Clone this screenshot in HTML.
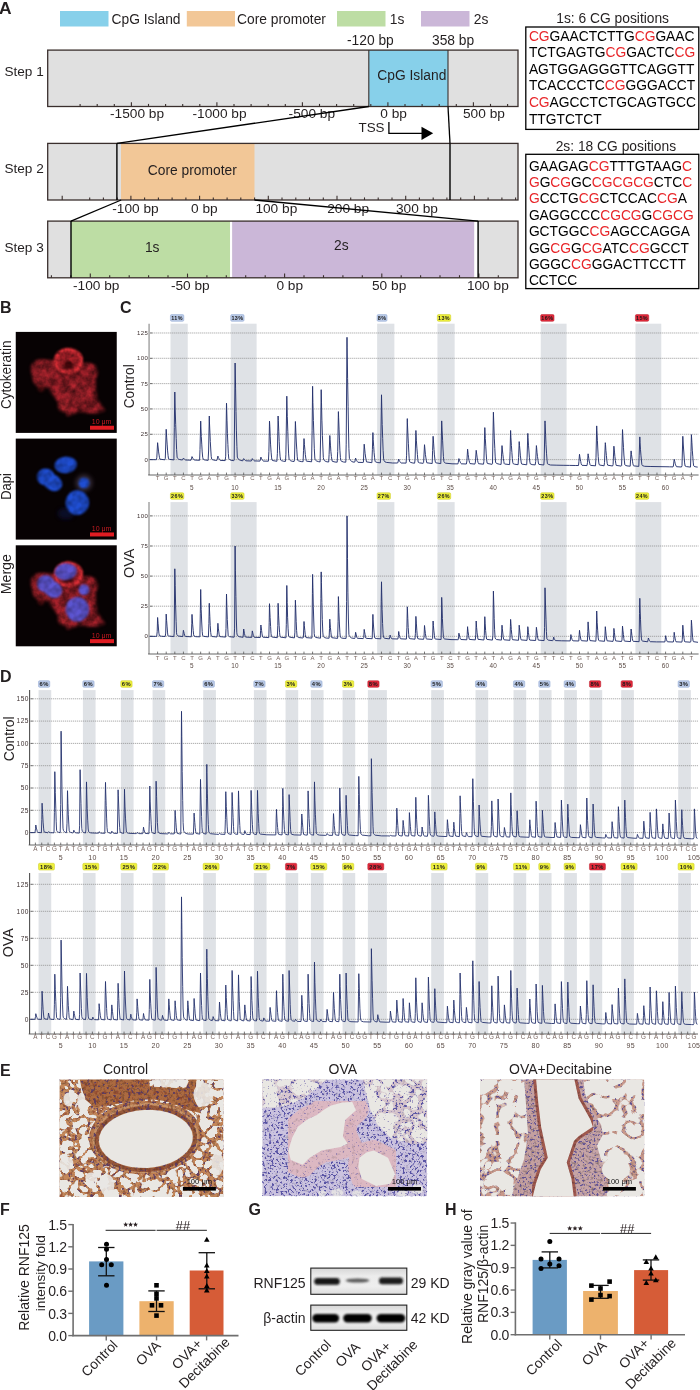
<!DOCTYPE html>
<html><head><meta charset="utf-8"><style>
html,body{margin:0;padding:0;background:#fff;}
svg text{font-family:"Liberation Sans",sans-serif;}
</style></head><body>
<svg width="700" height="1390" viewBox="0 0 700 1390" style="display:block;will-change:transform">
<rect width="700" height="1390" fill="#fff"/>
<defs>
<filter id="blur1" x="-20%" y="-20%" width="140%" height="140%"><feGaussianBlur stdDeviation="0.8"/></filter>
<filter id="blur2" x="-20%" y="-20%" width="140%" height="140%"><feGaussianBlur stdDeviation="2"/></filter>
<filter id="mottleR" x="-10%" y="-10%" width="120%" height="120%" color-interpolation-filters="sRGB">
<feGaussianBlur in="SourceGraphic" stdDeviation="1.6" result="b"/>
<feTurbulence type="fractalNoise" baseFrequency="0.13" numOctaves="3" seed="7" result="n"/>
<feColorMatrix in="n" type="matrix" values="1.0 0 0 0 0.2  1.0 0 0 0 0.2  1.0 0 0 0 0.2  0 0 0 0 1" result="ng"/>
<feComposite in="b" in2="ng" operator="arithmetic" k1="1" k2="0" k3="0" k4="0"/>
</filter>
<filter id="mottleR2" x="-10%" y="-10%" width="120%" height="120%" color-interpolation-filters="sRGB">
<feGaussianBlur in="SourceGraphic" stdDeviation="0.9" result="b"/>
<feTurbulence type="fractalNoise" baseFrequency="0.2" numOctaves="2" seed="3" result="n"/>
<feColorMatrix in="n" type="matrix" values="0.9 0 0 0 0.4  0.9 0 0 0 0.4  0.9 0 0 0 0.4  0 0 0 0 1" result="ng"/>
<feComposite in="b" in2="ng" operator="arithmetic" k1="1" k2="0" k3="0" k4="0"/>
</filter>
<filter id="texE" x="0" y="0" width="100%" height="100%" color-interpolation-filters="sRGB">
<feTurbulence type="fractalNoise" baseFrequency="0.35" numOctaves="2" seed="5" result="n"/>
<feColorMatrix in="n" type="matrix" values="0.9 0 0 0 0.55  0.9 0 0 0 0.55  0.9 0 0 0 0.55  0 0 0 0 1" result="ng"/>
<feComposite in="SourceGraphic" in2="ng" operator="arithmetic" k1="1" k2="0" k3="0" k4="0"/>
</filter>
<filter id="texE2" x="0" y="0" width="100%" height="100%" color-interpolation-filters="sRGB">
<feTurbulence type="fractalNoise" baseFrequency="0.3" numOctaves="2" seed="9" result="n"/>
<feColorMatrix in="n" type="matrix" values="0.5 0 0 0 0.78  0.5 0 0 0 0.78  0.5 0 0 0 0.78  0 0 0 0 1" result="ng"/>
<feComposite in="SourceGraphic" in2="ng" operator="arithmetic" k1="1" k2="0" k3="0" k4="0"/>
</filter>
<filter id="mottleB" x="-10%" y="-10%" width="120%" height="120%" color-interpolation-filters="sRGB">
<feGaussianBlur in="SourceGraphic" stdDeviation="0.9" result="b"/>
<feTurbulence type="fractalNoise" baseFrequency="0.12" numOctaves="2" seed="11" result="n"/>
<feColorMatrix in="n" type="matrix" values="0.7 0 0 0 0.55  0.7 0 0 0 0.55  0.7 0 0 0 0.55  0 0 0 0 1" result="ng"/>
<feComposite in="b" in2="ng" operator="arithmetic" k1="1" k2="0" k3="0" k4="0"/>
</filter>
</defs>
<text x="-1.0" y="13.7" font-size="16.3" fill="#231f20" text-anchor="start" font-weight="bold" textLength="12.6" lengthAdjust="spacingAndGlyphs">A</text>
<rect x="60" y="11" width="48.5" height="15.5" fill="#87d0ea"/>
<rect x="186.8" y="11" width="48.2" height="15.5" fill="#f2c797"/>
<rect x="337" y="11" width="48.5" height="15.5" fill="#bddda4"/>
<rect x="421" y="11" width="48.5" height="15.5" fill="#cbb7d8"/>
<text x="111.5" y="23.6" font-size="13.8" fill="#231f20" text-anchor="start" font-weight="normal" >CpG Island</text>
<text x="237" y="23.6" font-size="13.8" fill="#231f20" text-anchor="start" font-weight="normal" >Core promoter</text>
<text x="389.8" y="23.6" font-size="13.8" fill="#231f20" text-anchor="start" font-weight="normal" >1s</text>
<text x="473.8" y="23.6" font-size="13.8" fill="#231f20" text-anchor="start" font-weight="normal" >2s</text>
<text x="347" y="45.2" font-size="13.8" fill="#231f20" text-anchor="start" font-weight="normal" >-120 bp</text>
<text x="432" y="45.2" font-size="13.8" fill="#231f20" text-anchor="start" font-weight="normal" >358 bp</text>
<text x="4.4" y="76" font-size="13.6" fill="#231f20" text-anchor="start" font-weight="normal" >Step 1</text>
<text x="4.4" y="173.2" font-size="13.6" fill="#231f20" text-anchor="start" font-weight="normal" >Step 2</text>
<text x="4.4" y="252" font-size="13.6" fill="#231f20" text-anchor="start" font-weight="normal" >Step 3</text>
<rect x="47.7" y="50.1" width="470.3" height="56.4" fill="#e0e0e0"/>
<rect x="368.8" y="50.1" width="79.2" height="56.4" fill="#87d0ea"/>
<line x1="80.1" y1="106.5" x2="80.1" y2="103.9" stroke="#3a2f2d" stroke-width="1.1"/>
<line x1="97.2" y1="106.5" x2="97.2" y2="103.9" stroke="#3a2f2d" stroke-width="1.1"/>
<line x1="114.3" y1="106.5" x2="114.3" y2="103.9" stroke="#3a2f2d" stroke-width="1.1"/>
<line x1="131.4" y1="106.5" x2="131.4" y2="102.3" stroke="#3a2f2d" stroke-width="1.1"/>
<line x1="148.5" y1="106.5" x2="148.5" y2="103.9" stroke="#3a2f2d" stroke-width="1.1"/>
<line x1="165.6" y1="106.5" x2="165.6" y2="103.9" stroke="#3a2f2d" stroke-width="1.1"/>
<line x1="182.7" y1="106.5" x2="182.7" y2="103.9" stroke="#3a2f2d" stroke-width="1.1"/>
<line x1="199.8" y1="106.5" x2="199.8" y2="103.9" stroke="#3a2f2d" stroke-width="1.1"/>
<line x1="216.9" y1="106.5" x2="216.9" y2="102.3" stroke="#3a2f2d" stroke-width="1.1"/>
<line x1="234.0" y1="106.5" x2="234.0" y2="103.9" stroke="#3a2f2d" stroke-width="1.1"/>
<line x1="251.1" y1="106.5" x2="251.1" y2="103.9" stroke="#3a2f2d" stroke-width="1.1"/>
<line x1="268.2" y1="106.5" x2="268.2" y2="103.9" stroke="#3a2f2d" stroke-width="1.1"/>
<line x1="285.3" y1="106.5" x2="285.3" y2="103.9" stroke="#3a2f2d" stroke-width="1.1"/>
<line x1="302.4" y1="106.5" x2="302.4" y2="102.3" stroke="#3a2f2d" stroke-width="1.1"/>
<line x1="319.5" y1="106.5" x2="319.5" y2="103.9" stroke="#3a2f2d" stroke-width="1.1"/>
<line x1="336.6" y1="106.5" x2="336.6" y2="103.9" stroke="#3a2f2d" stroke-width="1.1"/>
<line x1="353.7" y1="106.5" x2="353.7" y2="103.9" stroke="#3a2f2d" stroke-width="1.1"/>
<line x1="370.8" y1="106.5" x2="370.8" y2="103.9" stroke="#3a2f2d" stroke-width="1.1"/>
<line x1="387.9" y1="106.5" x2="387.9" y2="102.3" stroke="#3a2f2d" stroke-width="1.1"/>
<line x1="405.0" y1="106.5" x2="405.0" y2="103.9" stroke="#3a2f2d" stroke-width="1.1"/>
<line x1="422.1" y1="106.5" x2="422.1" y2="103.9" stroke="#3a2f2d" stroke-width="1.1"/>
<line x1="439.2" y1="106.5" x2="439.2" y2="103.9" stroke="#3a2f2d" stroke-width="1.1"/>
<line x1="456.3" y1="106.5" x2="456.3" y2="103.9" stroke="#3a2f2d" stroke-width="1.1"/>
<line x1="473.4" y1="106.5" x2="473.4" y2="102.3" stroke="#3a2f2d" stroke-width="1.1"/>
<line x1="490.5" y1="106.5" x2="490.5" y2="103.9" stroke="#3a2f2d" stroke-width="1.1"/>
<line x1="507.6" y1="106.5" x2="507.6" y2="103.9" stroke="#3a2f2d" stroke-width="1.1"/>
<line x1="368.8" y1="50.1" x2="368.8" y2="106.5" stroke="#3a2f2d" stroke-width="1.1"/>
<line x1="448" y1="50.1" x2="448" y2="106.5" stroke="#3a2f2d" stroke-width="1.1"/>
<rect x="47.7" y="50.1" width="470.3" height="56.4" fill="none" stroke="#3a2f2d" stroke-width="1.3"/>
<text x="368.8" y="79.8" font-size="13.8" fill="#231f20" text-anchor="start" font-weight="normal" dx="8.5">CpG Island</text>
<text x="110" y="118.3" font-size="13.7" fill="#231f20" text-anchor="start" font-weight="normal" >-1500 bp</text>
<text x="192.5" y="118.3" font-size="13.7" fill="#231f20" text-anchor="start" font-weight="normal" >-1000 bp</text>
<text x="288.6" y="118.3" font-size="13.7" fill="#231f20" text-anchor="start" font-weight="normal" >-500 bp</text>
<text x="380.3" y="118.3" font-size="13.7" fill="#231f20" text-anchor="start" font-weight="normal" >0 bp</text>
<text x="463" y="118.3" font-size="13.7" fill="#231f20" text-anchor="start" font-weight="normal" >500 bp</text>
<text x="358.5" y="131.9" font-size="13.4" fill="#231f20" text-anchor="start" font-weight="normal" >TSS</text>
<polyline points="388.9,122 388.9,133.3 422,133.3" fill="none" stroke="#000" stroke-width="1.3"/>
<polygon points="421.5,126.7 433.2,133.3 421.5,140" fill="#000"/>
<rect x="47.7" y="143.4" width="470.3" height="56.6" fill="#e0e0e0"/>
<rect x="121" y="143.4" width="133.5" height="56.6" fill="#f2c797"/>
<line x1="62.2" y1="200" x2="62.2" y2="195.8" stroke="#3a2f2d" stroke-width="1.1"/>
<line x1="89.7" y1="200" x2="89.7" y2="197.4" stroke="#3a2f2d" stroke-width="1.1"/>
<line x1="103.4" y1="200" x2="103.4" y2="197.4" stroke="#3a2f2d" stroke-width="1.1"/>
<line x1="117.2" y1="200" x2="117.2" y2="197.4" stroke="#3a2f2d" stroke-width="1.1"/>
<line x1="130.9" y1="200" x2="130.9" y2="195.8" stroke="#3a2f2d" stroke-width="1.1"/>
<line x1="144.6" y1="200" x2="144.6" y2="197.4" stroke="#3a2f2d" stroke-width="1.1"/>
<line x1="158.4" y1="200" x2="158.4" y2="197.4" stroke="#3a2f2d" stroke-width="1.1"/>
<line x1="172.1" y1="200" x2="172.1" y2="197.4" stroke="#3a2f2d" stroke-width="1.1"/>
<line x1="185.9" y1="200" x2="185.9" y2="197.4" stroke="#3a2f2d" stroke-width="1.1"/>
<line x1="199.6" y1="200" x2="199.6" y2="195.8" stroke="#3a2f2d" stroke-width="1.1"/>
<line x1="213.3" y1="200" x2="213.3" y2="197.4" stroke="#3a2f2d" stroke-width="1.1"/>
<line x1="227.1" y1="200" x2="227.1" y2="197.4" stroke="#3a2f2d" stroke-width="1.1"/>
<line x1="240.8" y1="200" x2="240.8" y2="197.4" stroke="#3a2f2d" stroke-width="1.1"/>
<line x1="254.6" y1="200" x2="254.6" y2="197.4" stroke="#3a2f2d" stroke-width="1.1"/>
<line x1="268.3" y1="200" x2="268.3" y2="195.8" stroke="#3a2f2d" stroke-width="1.1"/>
<line x1="282.0" y1="200" x2="282.0" y2="197.4" stroke="#3a2f2d" stroke-width="1.1"/>
<line x1="295.8" y1="200" x2="295.8" y2="197.4" stroke="#3a2f2d" stroke-width="1.1"/>
<line x1="309.5" y1="200" x2="309.5" y2="197.4" stroke="#3a2f2d" stroke-width="1.1"/>
<line x1="323.3" y1="200" x2="323.3" y2="197.4" stroke="#3a2f2d" stroke-width="1.1"/>
<line x1="337.0" y1="200" x2="337.0" y2="195.8" stroke="#3a2f2d" stroke-width="1.1"/>
<line x1="350.7" y1="200" x2="350.7" y2="197.4" stroke="#3a2f2d" stroke-width="1.1"/>
<line x1="364.5" y1="200" x2="364.5" y2="197.4" stroke="#3a2f2d" stroke-width="1.1"/>
<line x1="378.2" y1="200" x2="378.2" y2="197.4" stroke="#3a2f2d" stroke-width="1.1"/>
<line x1="392.0" y1="200" x2="392.0" y2="197.4" stroke="#3a2f2d" stroke-width="1.1"/>
<line x1="405.7" y1="200" x2="405.7" y2="195.8" stroke="#3a2f2d" stroke-width="1.1"/>
<line x1="419.4" y1="200" x2="419.4" y2="197.4" stroke="#3a2f2d" stroke-width="1.1"/>
<line x1="433.2" y1="200" x2="433.2" y2="197.4" stroke="#3a2f2d" stroke-width="1.1"/>
<line x1="446.9" y1="200" x2="446.9" y2="197.4" stroke="#3a2f2d" stroke-width="1.1"/>
<line x1="460.7" y1="200" x2="460.7" y2="197.4" stroke="#3a2f2d" stroke-width="1.1"/>
<line x1="474.4" y1="200" x2="474.4" y2="195.8" stroke="#3a2f2d" stroke-width="1.1"/>
<line x1="488.1" y1="200" x2="488.1" y2="197.4" stroke="#3a2f2d" stroke-width="1.1"/>
<line x1="501.9" y1="200" x2="501.9" y2="197.4" stroke="#3a2f2d" stroke-width="1.1"/>
<line x1="515.6" y1="200" x2="515.6" y2="197.4" stroke="#3a2f2d" stroke-width="1.1"/>
<rect x="47.7" y="143.4" width="470.3" height="56.6" fill="none" stroke="#3a2f2d" stroke-width="1.3"/>
<line x1="116.9" y1="143.4" x2="116.9" y2="200" stroke="#000" stroke-width="1.4"/>
<line x1="450" y1="143.4" x2="450" y2="200" stroke="#000" stroke-width="1.4"/>
<text x="147.8" y="175" font-size="13.8" fill="#231f20" text-anchor="start" font-weight="normal" >Core promoter</text>
<text x="112.3" y="212.8" font-size="13.7" fill="#231f20" text-anchor="start" font-weight="normal" >-100 bp</text>
<text x="191.1" y="212.8" font-size="13.7" fill="#231f20" text-anchor="start" font-weight="normal" >0 bp</text>
<text x="255.4" y="212.8" font-size="13.7" fill="#231f20" text-anchor="start" font-weight="normal" >100 bp</text>
<text x="327.2" y="212.8" font-size="13.7" fill="#231f20" text-anchor="start" font-weight="normal" >200 bp</text>
<text x="396" y="212.8" font-size="13.7" fill="#231f20" text-anchor="start" font-weight="normal" >300 bp</text>
<line x1="368.8" y1="106.5" x2="116.9" y2="143.4" stroke="#000" stroke-width="1.3"/>
<line x1="448" y1="106.5" x2="450" y2="143.4" stroke="#000" stroke-width="1.3"/>
<rect x="47.7" y="221.1" width="470.3" height="56.7" fill="#e0e0e0"/>
<rect x="71" y="221.1" width="159" height="56.7" fill="#bddda4"/>
<rect x="230" y="221.1" width="2.2" height="56.7" fill="#ffffff"/>
<rect x="232.2" y="221.1" width="242.1" height="56.7" fill="#cbb7d8"/>
<rect x="474.3" y="221.1" width="3.2" height="56.7" fill="#ffffff"/>
<line x1="51.4" y1="277.8" x2="51.4" y2="275.2" stroke="#3a2f2d" stroke-width="1.1"/>
<line x1="70.9" y1="277.8" x2="70.9" y2="275.2" stroke="#3a2f2d" stroke-width="1.1"/>
<line x1="90.3" y1="277.8" x2="90.3" y2="273.6" stroke="#3a2f2d" stroke-width="1.1"/>
<line x1="109.7" y1="277.8" x2="109.7" y2="275.2" stroke="#3a2f2d" stroke-width="1.1"/>
<line x1="129.2" y1="277.8" x2="129.2" y2="275.2" stroke="#3a2f2d" stroke-width="1.1"/>
<line x1="148.6" y1="277.8" x2="148.6" y2="275.2" stroke="#3a2f2d" stroke-width="1.1"/>
<line x1="168.0" y1="277.8" x2="168.0" y2="275.2" stroke="#3a2f2d" stroke-width="1.1"/>
<line x1="187.5" y1="277.8" x2="187.5" y2="273.6" stroke="#3a2f2d" stroke-width="1.1"/>
<line x1="206.9" y1="277.8" x2="206.9" y2="275.2" stroke="#3a2f2d" stroke-width="1.1"/>
<line x1="226.3" y1="277.8" x2="226.3" y2="275.2" stroke="#3a2f2d" stroke-width="1.1"/>
<line x1="245.7" y1="277.8" x2="245.7" y2="275.2" stroke="#3a2f2d" stroke-width="1.1"/>
<line x1="265.2" y1="277.8" x2="265.2" y2="275.2" stroke="#3a2f2d" stroke-width="1.1"/>
<line x1="284.6" y1="277.8" x2="284.6" y2="273.6" stroke="#3a2f2d" stroke-width="1.1"/>
<line x1="304.0" y1="277.8" x2="304.0" y2="275.2" stroke="#3a2f2d" stroke-width="1.1"/>
<line x1="323.5" y1="277.8" x2="323.5" y2="275.2" stroke="#3a2f2d" stroke-width="1.1"/>
<line x1="342.9" y1="277.8" x2="342.9" y2="275.2" stroke="#3a2f2d" stroke-width="1.1"/>
<line x1="362.3" y1="277.8" x2="362.3" y2="275.2" stroke="#3a2f2d" stroke-width="1.1"/>
<line x1="381.8" y1="277.8" x2="381.8" y2="273.6" stroke="#3a2f2d" stroke-width="1.1"/>
<line x1="401.2" y1="277.8" x2="401.2" y2="275.2" stroke="#3a2f2d" stroke-width="1.1"/>
<line x1="420.6" y1="277.8" x2="420.6" y2="275.2" stroke="#3a2f2d" stroke-width="1.1"/>
<line x1="440.0" y1="277.8" x2="440.0" y2="275.2" stroke="#3a2f2d" stroke-width="1.1"/>
<line x1="459.5" y1="277.8" x2="459.5" y2="275.2" stroke="#3a2f2d" stroke-width="1.1"/>
<line x1="478.9" y1="277.8" x2="478.9" y2="273.6" stroke="#3a2f2d" stroke-width="1.1"/>
<line x1="498.3" y1="277.8" x2="498.3" y2="275.2" stroke="#3a2f2d" stroke-width="1.1"/>
<rect x="47.7" y="221.1" width="470.3" height="56.7" fill="none" stroke="#3a2f2d" stroke-width="1.3"/>
<line x1="71" y1="221.1" x2="71" y2="277.8" stroke="#000" stroke-width="1.4"/>
<line x1="478.1" y1="221.1" x2="478.1" y2="277.8" stroke="#000" stroke-width="1.4"/>
<text x="144.9" y="251.8" font-size="13.8" fill="#231f20" text-anchor="start" font-weight="normal" >1s</text>
<text x="334" y="250.2" font-size="13.8" fill="#231f20" text-anchor="start" font-weight="normal" >2s</text>
<text x="73" y="290.4" font-size="13.7" fill="#231f20" text-anchor="start" font-weight="normal" >-100 bp</text>
<text x="170.9" y="290.4" font-size="13.7" fill="#231f20" text-anchor="start" font-weight="normal" >-50 bp</text>
<text x="276.4" y="290.4" font-size="13.7" fill="#231f20" text-anchor="start" font-weight="normal" >0 bp</text>
<text x="372" y="290.4" font-size="13.7" fill="#231f20" text-anchor="start" font-weight="normal" >50 bp</text>
<text x="466.9" y="290.4" font-size="13.7" fill="#231f20" text-anchor="start" font-weight="normal" >100 bp</text>
<line x1="121.2" y1="200" x2="71" y2="221.1" stroke="#000" stroke-width="1.3"/>
<line x1="254.5" y1="200" x2="478.1" y2="221.1" stroke="#000" stroke-width="1.3"/>
<text x="556.3" y="22.9" font-size="13.8" fill="#231f20" text-anchor="start" font-weight="normal" >1s: 6 CG positions</text>
<rect x="525.8" y="27" width="173" height="102.4" fill="none" stroke="#000" stroke-width="1.3"/>
<text x="528.9" y="40.6" font-size="13.8" fill="#000"><tspan fill="#e8262a">CG</tspan><tspan>GAACTCTTG</tspan><tspan fill="#e8262a">CG</tspan><tspan>GAAC</tspan></text>
<text x="528.9" y="57.2" font-size="13.8" fill="#000"><tspan>TCTGAGTG</tspan><tspan fill="#e8262a">CG</tspan><tspan>GACTC</tspan><tspan fill="#e8262a">CG</tspan></text>
<text x="528.9" y="73.80000000000001" font-size="13.8" fill="#000"><tspan>AGTGGAGGGTTCAGGTT</tspan></text>
<text x="528.9" y="90.4" font-size="13.8" fill="#000"><tspan>TCACCCTC</tspan><tspan fill="#e8262a">CG</tspan><tspan>GGGACCT</tspan></text>
<text x="528.9" y="107.0" font-size="13.8" fill="#000"><tspan fill="#e8262a">CG</tspan><tspan>AGCCTCTGCAGTGCC</tspan></text>
<text x="528.9" y="123.6" font-size="13.8" fill="#000"><tspan>TTGTCTCT</tspan></text>
<text x="555.7" y="151.4" font-size="13.8" fill="#231f20" text-anchor="start" font-weight="normal" >2s: 18 CG positions</text>
<rect x="525.8" y="154.3" width="173" height="134.3" fill="none" stroke="#000" stroke-width="1.3"/>
<text x="528.9" y="170.6" font-size="13.8" fill="#000"><tspan>GAAGAG</tspan><tspan fill="#e8262a">CG</tspan><tspan>TTTGTAAG</tspan><tspan fill="#e8262a">C</tspan></text>
<text x="528.9" y="187.0" font-size="13.8" fill="#000"><tspan fill="#e8262a">G</tspan><tspan>G</tspan><tspan fill="#e8262a">CG</tspan><tspan>GC</tspan><tspan fill="#e8262a">CGCGCG</tspan><tspan>CTC</tspan><tspan fill="#e8262a">C</tspan></text>
<text x="528.9" y="203.39999999999998" font-size="13.8" fill="#000"><tspan fill="#e8262a">G</tspan><tspan>CCTG</tspan><tspan fill="#e8262a">CG</tspan><tspan>CTCCAC</tspan><tspan fill="#e8262a">CG</tspan><tspan>A</tspan></text>
<text x="528.9" y="219.79999999999998" font-size="13.8" fill="#000"><tspan>GAGGCCC</tspan><tspan fill="#e8262a">CGCG</tspan><tspan>G</tspan><tspan fill="#e8262a">CGCG</tspan></text>
<text x="528.9" y="236.2" font-size="13.8" fill="#000"><tspan>GCTGGC</tspan><tspan fill="#e8262a">CG</tspan><tspan>AGCCAGGA</tspan></text>
<text x="528.9" y="252.6" font-size="13.8" fill="#000"><tspan>GG</tspan><tspan fill="#e8262a">CG</tspan><tspan>G</tspan><tspan fill="#e8262a">CG</tspan><tspan>ATC</tspan><tspan fill="#e8262a">CG</tspan><tspan>GCCT</tspan></text>
<text x="528.9" y="269.0" font-size="13.8" fill="#000"><tspan>GGGC</tspan><tspan fill="#e8262a">CG</tspan><tspan>GGACTTCCTT</tspan></text>
<text x="528.9" y="285.4" font-size="13.8" fill="#000"><tspan>CCTCC</tspan></text>
<text x="0.0" y="312.8" font-size="16" fill="#231f20" text-anchor="start" font-weight="bold" >B</text>
<text transform="translate(10.9,374.8) rotate(-90)" x="0" y="0" font-size="14.8" fill="#231f20" text-anchor="middle" textLength="68.4" lengthAdjust="spacingAndGlyphs">Cytokeratin</text>
<text transform="translate(10.9,486.5) rotate(-90)" x="0" y="0" font-size="14.8" fill="#231f20" text-anchor="middle" textLength="26.6" lengthAdjust="spacingAndGlyphs">Dapi</text>
<text transform="translate(10.9,574.2) rotate(-90)" x="0" y="0" font-size="14.8" fill="#231f20" text-anchor="middle" textLength="40.2" lengthAdjust="spacingAndGlyphs">Merge</text>
<rect x="15.75" y="331.9" width="101.0" height="101.0" fill="#070203"/>
<svg x="15.75" y="331.9" width="101.0" height="101.0" viewBox="0 0 101.0 101.0" overflow="hidden">
<g filter="url(#mottleR)" opacity="1.0">
<path d="M14.8,35.8 C17,30 20,28 23.8,27.6 L37,28.4 C41,30 43.5,33 43.5,35.8 L43.5,47.3 C40,52 37,55 35.3,55.5 L25.5,56.2 C21,54 18,51 17.3,49 Z" fill="#b82630"/>
<ellipse cx="72" cy="40.5" rx="10" ry="10" fill="#ac222c"/>
<path d="M33.7,49 L43.5,42.4 L62,40 L79.7,47.3 L81.3,67 L89.5,78.5 L79.7,81.8 L63.3,80.2 L51.8,84.3 L43.5,72 L33.7,58.8 Z" fill="#ac222c"/>
<ellipse cx="60" cy="60" rx="14" ry="12" fill="#b62630"/>
<ellipse cx="48" cy="74" rx="6" ry="6" fill="#c02a32"/>
<ellipse cx="25.5" cy="56.5" rx="3.2" ry="2.8" fill="#7a1418"/>
</g>
<g filter="url(#mottleR2)" opacity="1.0">
<ellipse cx="52.6" cy="29.2" rx="14.8" ry="13.1" fill="#a82028"/>
<ellipse cx="52.6" cy="29.2" rx="13.2" ry="11.6" fill="none" stroke="#e8323a" stroke-width="3"/>
<ellipse cx="52.6" cy="33" rx="4.5" ry="4" fill="#40060a"/>
</g>
</svg>
<rect x="90.0" y="425.75" width="24" height="4" fill="#e01c22"/>
<text x="101.65" y="424.09999999999997" font-size="7" fill="#c81c22" text-anchor="middle">10 μm</text>
<rect x="15.75" y="438.6" width="101.0" height="101.0" fill="#070203"/>
<svg x="15.75" y="438.6" width="101.0" height="101.0" viewBox="0 0 101.0 101.0" overflow="hidden">
<ellipse cx="68.2" cy="44.4" rx="8.5" ry="8.5" fill="#6a5a70" opacity="0.45" filter="url(#blur2)"/>
<ellipse cx="50" cy="75" rx="8" ry="6" fill="#101840" opacity="0.6" filter="url(#blur2)"/>
<g filter="url(#mottleB)" opacity="1.0">
<ellipse cx="50" cy="26.3" rx="11.2" ry="8.3" transform="rotate(-5 50 26.3)" fill="#1f4ed2"/>
<ellipse cx="30" cy="38.5" rx="9" ry="8.5" fill="#1f4ed2"/>
<ellipse cx="37" cy="44" rx="10" ry="8" transform="rotate(30 37 44)" fill="#1f4ed2"/>
<ellipse cx="61.6" cy="64" rx="11.8" ry="12.3" fill="#1f4ed2"/>
<ellipse cx="68.2" cy="44.4" rx="5.4" ry="5.6" fill="#1f4ed2"/>
</g>
</svg>
<rect x="90.0" y="532.45" width="24" height="4" fill="#e01c22"/>
<text x="101.65" y="530.8000000000001" font-size="7" fill="#c81c22" text-anchor="middle">10 μm</text>
<rect x="15.75" y="545.3" width="101.0" height="101.0" fill="#070203"/>
<svg x="15.75" y="545.3" width="101.0" height="101.0" viewBox="0 0 101.0 101.0" overflow="hidden">
<g filter="url(#mottleR)" opacity="1.0">
<path d="M14.8,35.8 C17,30 20,28 23.8,27.6 L37,28.4 C41,30 43.5,33 43.5,35.8 L43.5,47.3 C40,52 37,55 35.3,55.5 L25.5,56.2 C21,54 18,51 17.3,49 Z" fill="#b82630"/>
<ellipse cx="72" cy="40.5" rx="10" ry="10" fill="#ac222c"/>
<path d="M33.7,49 L43.5,42.4 L62,40 L79.7,47.3 L81.3,67 L89.5,78.5 L79.7,81.8 L63.3,80.2 L51.8,84.3 L43.5,72 L33.7,58.8 Z" fill="#ac222c"/>
<ellipse cx="60" cy="60" rx="14" ry="12" fill="#b62630"/>
<ellipse cx="48" cy="74" rx="6" ry="6" fill="#c02a32"/>
<ellipse cx="25.5" cy="56.5" rx="3.2" ry="2.8" fill="#7a1418"/>
</g>
<g filter="url(#mottleR2)" opacity="1.0">
<ellipse cx="52.6" cy="29.2" rx="14.8" ry="13.1" fill="#a82028"/>
<ellipse cx="52.6" cy="29.2" rx="13.2" ry="11.6" fill="none" stroke="#e8323a" stroke-width="3"/>
<ellipse cx="52.6" cy="33" rx="4.5" ry="4" fill="#40060a"/>
</g>
<g filter="url(#mottleB)" opacity="0.92">
<ellipse cx="50" cy="26.3" rx="11.2" ry="8.3" transform="rotate(-5 50 26.3)" fill="#5a5ae0"/>
<ellipse cx="30" cy="38.5" rx="9" ry="8.5" fill="#5a5ae0"/>
<ellipse cx="37" cy="44" rx="10" ry="8" transform="rotate(30 37 44)" fill="#5a5ae0"/>
<ellipse cx="61.6" cy="64" rx="11.8" ry="12.3" fill="#5a5ae0"/>
<ellipse cx="68.2" cy="44.4" rx="5.4" ry="5.6" fill="#5a5ae0"/>
</g>
</svg>
<rect x="90.0" y="639.15" width="24" height="4" fill="#e01c22"/>
<text x="101.65" y="637.5" font-size="7" fill="#c81c22" text-anchor="middle">10 μm</text>
<text x="120.0" y="312.8" font-size="16" fill="#231f20" text-anchor="start" font-weight="bold" >C</text>
<text x="0.0" y="681.7" font-size="16" fill="#231f20" text-anchor="start" font-weight="bold" >D</text>
<rect x="170.51" y="323.70" width="17.22" height="151.30" fill="#dfe2e6"/>
<rect x="170.41" y="314.55" width="13.40" height="6.80" rx="1.3" fill="#b9c9e6" stroke="#8ea6d3" stroke-width="0.5"/>
<text x="177.11" y="319.89" font-size="5.4" font-weight="bold" fill="#1a1a1a" text-anchor="middle" letter-spacing="0.4">11%</text>
<rect x="230.78" y="323.70" width="25.83" height="151.30" fill="#dfe2e6"/>
<rect x="230.68" y="314.55" width="13.40" height="6.80" rx="1.3" fill="#b9c9e6" stroke="#8ea6d3" stroke-width="0.5"/>
<text x="237.38" y="319.89" font-size="5.4" font-weight="bold" fill="#1a1a1a" text-anchor="middle" letter-spacing="0.4">13%</text>
<rect x="377.15" y="323.70" width="17.22" height="151.30" fill="#dfe2e6"/>
<rect x="377.05" y="314.55" width="10.00" height="6.80" rx="1.3" fill="#b9c9e6" stroke="#8ea6d3" stroke-width="0.5"/>
<text x="382.05" y="319.89" font-size="5.4" font-weight="bold" fill="#1a1a1a" text-anchor="middle" letter-spacing="0.4">8%</text>
<rect x="437.43" y="323.70" width="17.22" height="151.30" fill="#dfe2e6"/>
<rect x="437.32" y="314.55" width="13.40" height="6.80" rx="1.3" fill="#eef03c" stroke="#c9c820" stroke-width="0.5"/>
<text x="444.02" y="319.89" font-size="5.4" font-weight="bold" fill="#1a1a1a" text-anchor="middle" letter-spacing="0.4">13%</text>
<rect x="540.75" y="323.70" width="25.83" height="151.30" fill="#dfe2e6"/>
<rect x="540.64" y="314.55" width="13.40" height="6.80" rx="1.3" fill="#e0283a" stroke="#b81e2c" stroke-width="0.5"/>
<text x="547.35" y="319.89" font-size="5.4" font-weight="bold" fill="#1a1a1a" text-anchor="middle" letter-spacing="0.4">16%</text>
<rect x="635.46" y="323.70" width="25.83" height="151.30" fill="#dfe2e6"/>
<rect x="635.36" y="314.55" width="13.40" height="6.80" rx="1.3" fill="#e0283a" stroke="#b81e2c" stroke-width="0.5"/>
<text x="642.06" y="319.89" font-size="5.4" font-weight="bold" fill="#1a1a1a" text-anchor="middle" letter-spacing="0.4">15%</text>
<line x1="152.30" y1="459.60" x2="698.60" y2="459.60" stroke="#8c8c8c" stroke-width="0.9" stroke-dasharray="1 1"/>
<line x1="150.00" y1="459.60" x2="152.30" y2="459.60" stroke="#555" stroke-width="0.9"/>
<text x="148.30" y="461.76" font-size="6.0" fill="#3d3030" text-anchor="end" letter-spacing="0.4">0</text>
<line x1="152.30" y1="434.28" x2="698.60" y2="434.28" stroke="#8c8c8c" stroke-width="0.9" stroke-dasharray="1 1"/>
<line x1="150.00" y1="434.28" x2="152.30" y2="434.28" stroke="#555" stroke-width="0.9"/>
<text x="148.30" y="436.44" font-size="6.0" fill="#3d3030" text-anchor="end" letter-spacing="0.4">25</text>
<line x1="152.30" y1="408.95" x2="698.60" y2="408.95" stroke="#8c8c8c" stroke-width="0.9" stroke-dasharray="1 1"/>
<line x1="150.00" y1="408.95" x2="152.30" y2="408.95" stroke="#555" stroke-width="0.9"/>
<text x="148.30" y="411.11" font-size="6.0" fill="#3d3030" text-anchor="end" letter-spacing="0.4">50</text>
<line x1="152.30" y1="383.62" x2="698.60" y2="383.62" stroke="#8c8c8c" stroke-width="0.9" stroke-dasharray="1 1"/>
<line x1="150.00" y1="383.62" x2="152.30" y2="383.62" stroke="#555" stroke-width="0.9"/>
<text x="148.30" y="385.79" font-size="6.0" fill="#3d3030" text-anchor="end" letter-spacing="0.4">75</text>
<line x1="152.30" y1="358.30" x2="698.60" y2="358.30" stroke="#8c8c8c" stroke-width="0.9" stroke-dasharray="1 1"/>
<line x1="150.00" y1="358.30" x2="152.30" y2="358.30" stroke="#555" stroke-width="0.9"/>
<text x="148.30" y="360.46" font-size="6.0" fill="#3d3030" text-anchor="end" letter-spacing="0.4">100</text>
<line x1="152.30" y1="332.98" x2="698.60" y2="332.98" stroke="#8c8c8c" stroke-width="0.9" stroke-dasharray="1 1"/>
<line x1="150.00" y1="332.98" x2="152.30" y2="332.98" stroke="#555" stroke-width="0.9"/>
<text x="148.30" y="335.14" font-size="6.0" fill="#3d3030" text-anchor="end" letter-spacing="0.4">125</text>
<line x1="149.10" y1="323.70" x2="149.10" y2="475.00" stroke="#b4b4b4" stroke-width="1.8"/>
<line x1="148.20" y1="475.00" x2="698.60" y2="475.00" stroke="#555" stroke-width="0.9"/>
<line x1="157.60" y1="472.60" x2="157.60" y2="475.00" stroke="#555" stroke-width="0.8"/>
<text x="157.60" y="480.30" font-size="6.0" fill="#7a6660" text-anchor="middle">T</text>
<line x1="166.21" y1="472.60" x2="166.21" y2="475.00" stroke="#555" stroke-width="0.8"/>
<text x="166.21" y="480.30" font-size="6.0" fill="#7a6660" text-anchor="middle">G</text>
<line x1="174.82" y1="472.60" x2="174.82" y2="475.00" stroke="#555" stroke-width="0.8"/>
<text x="174.82" y="480.30" font-size="6.0" fill="#7a6660" text-anchor="middle">T</text>
<line x1="183.43" y1="472.60" x2="183.43" y2="475.00" stroke="#555" stroke-width="0.8"/>
<text x="183.43" y="480.30" font-size="6.0" fill="#7a6660" text-anchor="middle">C</text>
<line x1="192.04" y1="472.60" x2="192.04" y2="475.00" stroke="#555" stroke-width="0.8"/>
<text x="192.04" y="480.30" font-size="6.0" fill="#7a6660" text-anchor="middle">T</text>
<text x="192.04" y="489.60" font-size="6.4" fill="#5a4a44" text-anchor="middle" letter-spacing="0.3">5</text>
<line x1="200.65" y1="472.60" x2="200.65" y2="475.00" stroke="#555" stroke-width="0.8"/>
<text x="200.65" y="480.30" font-size="6.0" fill="#7a6660" text-anchor="middle">G</text>
<line x1="209.26" y1="472.60" x2="209.26" y2="475.00" stroke="#555" stroke-width="0.8"/>
<text x="209.26" y="480.30" font-size="6.0" fill="#7a6660" text-anchor="middle">A</text>
<line x1="217.87" y1="472.60" x2="217.87" y2="475.00" stroke="#555" stroke-width="0.8"/>
<text x="217.87" y="480.30" font-size="6.0" fill="#7a6660" text-anchor="middle">T</text>
<line x1="226.48" y1="472.60" x2="226.48" y2="475.00" stroke="#555" stroke-width="0.8"/>
<text x="226.48" y="480.30" font-size="6.0" fill="#7a6660" text-anchor="middle">G</text>
<line x1="235.09" y1="472.60" x2="235.09" y2="475.00" stroke="#555" stroke-width="0.8"/>
<text x="235.09" y="480.30" font-size="6.0" fill="#7a6660" text-anchor="middle">T</text>
<text x="235.09" y="489.60" font-size="6.4" fill="#5a4a44" text-anchor="middle" letter-spacing="0.3">10</text>
<line x1="243.70" y1="472.60" x2="243.70" y2="475.00" stroke="#555" stroke-width="0.8"/>
<text x="243.70" y="480.30" font-size="6.0" fill="#7a6660" text-anchor="middle">T</text>
<line x1="252.31" y1="472.60" x2="252.31" y2="475.00" stroke="#555" stroke-width="0.8"/>
<text x="252.31" y="480.30" font-size="6.0" fill="#7a6660" text-anchor="middle">C</text>
<line x1="260.92" y1="472.60" x2="260.92" y2="475.00" stroke="#555" stroke-width="0.8"/>
<text x="260.92" y="480.30" font-size="6.0" fill="#7a6660" text-anchor="middle">T</text>
<line x1="269.53" y1="472.60" x2="269.53" y2="475.00" stroke="#555" stroke-width="0.8"/>
<text x="269.53" y="480.30" font-size="6.0" fill="#7a6660" text-anchor="middle">G</text>
<line x1="278.14" y1="472.60" x2="278.14" y2="475.00" stroke="#555" stroke-width="0.8"/>
<text x="278.14" y="480.30" font-size="6.0" fill="#7a6660" text-anchor="middle">A</text>
<text x="278.14" y="489.60" font-size="6.4" fill="#5a4a44" text-anchor="middle" letter-spacing="0.3">15</text>
<line x1="286.75" y1="472.60" x2="286.75" y2="475.00" stroke="#555" stroke-width="0.8"/>
<text x="286.75" y="480.30" font-size="6.0" fill="#7a6660" text-anchor="middle">G</text>
<line x1="295.36" y1="472.60" x2="295.36" y2="475.00" stroke="#555" stroke-width="0.8"/>
<text x="295.36" y="480.30" font-size="6.0" fill="#7a6660" text-anchor="middle">T</text>
<line x1="303.97" y1="472.60" x2="303.97" y2="475.00" stroke="#555" stroke-width="0.8"/>
<text x="303.97" y="480.30" font-size="6.0" fill="#7a6660" text-anchor="middle">G</text>
<line x1="312.58" y1="472.60" x2="312.58" y2="475.00" stroke="#555" stroke-width="0.8"/>
<text x="312.58" y="480.30" font-size="6.0" fill="#7a6660" text-anchor="middle">A</text>
<line x1="321.19" y1="472.60" x2="321.19" y2="475.00" stroke="#555" stroke-width="0.8"/>
<text x="321.19" y="480.30" font-size="6.0" fill="#7a6660" text-anchor="middle">T</text>
<text x="321.19" y="489.60" font-size="6.4" fill="#5a4a44" text-anchor="middle" letter-spacing="0.3">20</text>
<line x1="329.80" y1="472.60" x2="329.80" y2="475.00" stroke="#555" stroke-width="0.8"/>
<text x="329.80" y="480.30" font-size="6.0" fill="#7a6660" text-anchor="middle">G</text>
<line x1="338.41" y1="472.60" x2="338.41" y2="475.00" stroke="#555" stroke-width="0.8"/>
<text x="338.41" y="480.30" font-size="6.0" fill="#7a6660" text-anchor="middle">A</text>
<line x1="347.02" y1="472.60" x2="347.02" y2="475.00" stroke="#555" stroke-width="0.8"/>
<text x="347.02" y="480.30" font-size="6.0" fill="#7a6660" text-anchor="middle">T</text>
<line x1="355.63" y1="472.60" x2="355.63" y2="475.00" stroke="#555" stroke-width="0.8"/>
<text x="355.63" y="480.30" font-size="6.0" fill="#7a6660" text-anchor="middle">T</text>
<line x1="364.24" y1="472.60" x2="364.24" y2="475.00" stroke="#555" stroke-width="0.8"/>
<text x="364.24" y="480.30" font-size="6.0" fill="#7a6660" text-anchor="middle">G</text>
<text x="364.24" y="489.60" font-size="6.4" fill="#5a4a44" text-anchor="middle" letter-spacing="0.3">25</text>
<line x1="372.85" y1="472.60" x2="372.85" y2="475.00" stroke="#555" stroke-width="0.8"/>
<text x="372.85" y="480.30" font-size="6.0" fill="#7a6660" text-anchor="middle">A</text>
<line x1="381.46" y1="472.60" x2="381.46" y2="475.00" stroke="#555" stroke-width="0.8"/>
<text x="381.46" y="480.30" font-size="6.0" fill="#7a6660" text-anchor="middle">T</text>
<line x1="390.07" y1="472.60" x2="390.07" y2="475.00" stroke="#555" stroke-width="0.8"/>
<text x="390.07" y="480.30" font-size="6.0" fill="#7a6660" text-anchor="middle">C</text>
<line x1="398.68" y1="472.60" x2="398.68" y2="475.00" stroke="#555" stroke-width="0.8"/>
<text x="398.68" y="480.30" font-size="6.0" fill="#7a6660" text-anchor="middle">T</text>
<line x1="407.29" y1="472.60" x2="407.29" y2="475.00" stroke="#555" stroke-width="0.8"/>
<text x="407.29" y="480.30" font-size="6.0" fill="#7a6660" text-anchor="middle">G</text>
<text x="407.29" y="489.60" font-size="6.4" fill="#5a4a44" text-anchor="middle" letter-spacing="0.3">30</text>
<line x1="415.90" y1="472.60" x2="415.90" y2="475.00" stroke="#555" stroke-width="0.8"/>
<text x="415.90" y="480.30" font-size="6.0" fill="#7a6660" text-anchor="middle">A</text>
<line x1="424.51" y1="472.60" x2="424.51" y2="475.00" stroke="#555" stroke-width="0.8"/>
<text x="424.51" y="480.30" font-size="6.0" fill="#7a6660" text-anchor="middle">T</text>
<line x1="433.12" y1="472.60" x2="433.12" y2="475.00" stroke="#555" stroke-width="0.8"/>
<text x="433.12" y="480.30" font-size="6.0" fill="#7a6660" text-anchor="middle">G</text>
<line x1="441.73" y1="472.60" x2="441.73" y2="475.00" stroke="#555" stroke-width="0.8"/>
<text x="441.73" y="480.30" font-size="6.0" fill="#7a6660" text-anchor="middle">T</text>
<line x1="450.34" y1="472.60" x2="450.34" y2="475.00" stroke="#555" stroke-width="0.8"/>
<text x="450.34" y="480.30" font-size="6.0" fill="#7a6660" text-anchor="middle">C</text>
<text x="450.34" y="489.60" font-size="6.4" fill="#5a4a44" text-anchor="middle" letter-spacing="0.3">35</text>
<line x1="458.95" y1="472.60" x2="458.95" y2="475.00" stroke="#555" stroke-width="0.8"/>
<text x="458.95" y="480.30" font-size="6.0" fill="#7a6660" text-anchor="middle">T</text>
<line x1="467.56" y1="472.60" x2="467.56" y2="475.00" stroke="#555" stroke-width="0.8"/>
<text x="467.56" y="480.30" font-size="6.0" fill="#7a6660" text-anchor="middle">G</text>
<line x1="476.17" y1="472.60" x2="476.17" y2="475.00" stroke="#555" stroke-width="0.8"/>
<text x="476.17" y="480.30" font-size="6.0" fill="#7a6660" text-anchor="middle">T</text>
<line x1="484.78" y1="472.60" x2="484.78" y2="475.00" stroke="#555" stroke-width="0.8"/>
<text x="484.78" y="480.30" font-size="6.0" fill="#7a6660" text-anchor="middle">A</text>
<line x1="493.39" y1="472.60" x2="493.39" y2="475.00" stroke="#555" stroke-width="0.8"/>
<text x="493.39" y="480.30" font-size="6.0" fill="#7a6660" text-anchor="middle">T</text>
<text x="493.39" y="489.60" font-size="6.4" fill="#5a4a44" text-anchor="middle" letter-spacing="0.3">40</text>
<line x1="502.00" y1="472.60" x2="502.00" y2="475.00" stroke="#555" stroke-width="0.8"/>
<text x="502.00" y="480.30" font-size="6.0" fill="#7a6660" text-anchor="middle">A</text>
<line x1="510.61" y1="472.60" x2="510.61" y2="475.00" stroke="#555" stroke-width="0.8"/>
<text x="510.61" y="480.30" font-size="6.0" fill="#7a6660" text-anchor="middle">G</text>
<line x1="519.22" y1="472.60" x2="519.22" y2="475.00" stroke="#555" stroke-width="0.8"/>
<text x="519.22" y="480.30" font-size="6.0" fill="#7a6660" text-anchor="middle">A</text>
<line x1="527.83" y1="472.60" x2="527.83" y2="475.00" stroke="#555" stroke-width="0.8"/>
<text x="527.83" y="480.30" font-size="6.0" fill="#7a6660" text-anchor="middle">T</text>
<line x1="536.44" y1="472.60" x2="536.44" y2="475.00" stroke="#555" stroke-width="0.8"/>
<text x="536.44" y="480.30" font-size="6.0" fill="#7a6660" text-anchor="middle">G</text>
<text x="536.44" y="489.60" font-size="6.4" fill="#5a4a44" text-anchor="middle" letter-spacing="0.3">45</text>
<line x1="545.05" y1="472.60" x2="545.05" y2="475.00" stroke="#555" stroke-width="0.8"/>
<text x="545.05" y="480.30" font-size="6.0" fill="#7a6660" text-anchor="middle">T</text>
<line x1="553.66" y1="472.60" x2="553.66" y2="475.00" stroke="#555" stroke-width="0.8"/>
<text x="553.66" y="480.30" font-size="6.0" fill="#7a6660" text-anchor="middle">T</text>
<line x1="562.27" y1="472.60" x2="562.27" y2="475.00" stroke="#555" stroke-width="0.8"/>
<text x="562.27" y="480.30" font-size="6.0" fill="#7a6660" text-anchor="middle">C</text>
<line x1="570.88" y1="472.60" x2="570.88" y2="475.00" stroke="#555" stroke-width="0.8"/>
<text x="570.88" y="480.30" font-size="6.0" fill="#7a6660" text-anchor="middle">T</text>
<line x1="579.49" y1="472.60" x2="579.49" y2="475.00" stroke="#555" stroke-width="0.8"/>
<text x="579.49" y="480.30" font-size="6.0" fill="#7a6660" text-anchor="middle">G</text>
<text x="579.49" y="489.60" font-size="6.4" fill="#5a4a44" text-anchor="middle" letter-spacing="0.3">50</text>
<line x1="588.10" y1="472.60" x2="588.10" y2="475.00" stroke="#555" stroke-width="0.8"/>
<text x="588.10" y="480.30" font-size="6.0" fill="#7a6660" text-anchor="middle">T</text>
<line x1="596.71" y1="472.60" x2="596.71" y2="475.00" stroke="#555" stroke-width="0.8"/>
<text x="596.71" y="480.30" font-size="6.0" fill="#7a6660" text-anchor="middle">A</text>
<line x1="605.32" y1="472.60" x2="605.32" y2="475.00" stroke="#555" stroke-width="0.8"/>
<text x="605.32" y="480.30" font-size="6.0" fill="#7a6660" text-anchor="middle">G</text>
<line x1="613.93" y1="472.60" x2="613.93" y2="475.00" stroke="#555" stroke-width="0.8"/>
<text x="613.93" y="480.30" font-size="6.0" fill="#7a6660" text-anchor="middle">A</text>
<line x1="622.54" y1="472.60" x2="622.54" y2="475.00" stroke="#555" stroke-width="0.8"/>
<text x="622.54" y="480.30" font-size="6.0" fill="#7a6660" text-anchor="middle">T</text>
<text x="622.54" y="489.60" font-size="6.4" fill="#5a4a44" text-anchor="middle" letter-spacing="0.3">55</text>
<line x1="631.15" y1="472.60" x2="631.15" y2="475.00" stroke="#555" stroke-width="0.8"/>
<text x="631.15" y="480.30" font-size="6.0" fill="#7a6660" text-anchor="middle">G</text>
<line x1="639.76" y1="472.60" x2="639.76" y2="475.00" stroke="#555" stroke-width="0.8"/>
<text x="639.76" y="480.30" font-size="6.0" fill="#7a6660" text-anchor="middle">T</text>
<line x1="648.37" y1="472.60" x2="648.37" y2="475.00" stroke="#555" stroke-width="0.8"/>
<text x="648.37" y="480.30" font-size="6.0" fill="#7a6660" text-anchor="middle">T</text>
<line x1="656.98" y1="472.60" x2="656.98" y2="475.00" stroke="#555" stroke-width="0.8"/>
<text x="656.98" y="480.30" font-size="6.0" fill="#7a6660" text-anchor="middle">C</text>
<line x1="665.59" y1="472.60" x2="665.59" y2="475.00" stroke="#555" stroke-width="0.8"/>
<text x="665.59" y="480.30" font-size="6.0" fill="#7a6660" text-anchor="middle">T</text>
<text x="665.59" y="489.60" font-size="6.4" fill="#5a4a44" text-anchor="middle" letter-spacing="0.3">60</text>
<line x1="674.20" y1="472.60" x2="674.20" y2="475.00" stroke="#555" stroke-width="0.8"/>
<text x="674.20" y="480.30" font-size="6.0" fill="#7a6660" text-anchor="middle">G</text>
<line x1="682.81" y1="472.60" x2="682.81" y2="475.00" stroke="#555" stroke-width="0.8"/>
<text x="682.81" y="480.30" font-size="6.0" fill="#7a6660" text-anchor="middle">A</text>
<line x1="691.42" y1="472.60" x2="691.42" y2="475.00" stroke="#555" stroke-width="0.8"/>
<text x="691.42" y="480.30" font-size="6.0" fill="#7a6660" text-anchor="middle">T</text>
<polyline points="149.6,459.6 155.9,459.7 156.3,459.7 156.8,457.8 157.6,442.7 158.2,448.0 158.6,451.9 159.1,455.1 159.5,457.7 159.9,459.2 164.9,459.8 165.3,458.4 166.2,429.3 166.7,437.9 167.2,444.9 167.6,450.9 168.1,455.7 168.5,458.8 169.8,459.4 173.9,459.9 174.3,427.5 174.8,392.0 175.2,409.0 175.7,424.7 176.2,438.4 176.6,449.5 177.1,457.2 177.5,458.2 178.4,459.0 179.8,459.6 182.4,460.0 182.9,459.2 183.4,458.1 184.7,459.4 185.6,460.0 191.0,460.2 191.4,458.9 192.0,456.6 192.8,458.1 193.2,458.9 193.7,459.5 194.2,460.0 199.6,460.3 200.0,449.4 200.7,421.1 200.9,426.9 201.3,436.5 201.8,444.9 202.2,451.9 202.7,457.3 203.2,459.2 204.5,459.9 208.1,460.4 208.6,451.0 209.3,416.0 209.4,421.1 209.9,432.1 210.3,441.7 210.8,450.0 211.2,456.3 211.7,459.1 212.6,459.7 215.3,460.4 216.7,460.5 217.1,459.8 217.9,456.1 218.4,457.5 218.9,458.5 219.3,459.4 219.8,460.1 220.2,460.4 225.2,460.6 225.7,456.2 226.5,403.2 226.6,405.6 227.0,420.3 227.4,433.3 227.9,444.5 228.3,453.4 228.8,458.8 229.7,459.6 231.1,460.3 233.8,460.7 234.2,459.6 235.1,363.0 235.6,388.9 236.0,411.4 236.4,430.9 236.9,446.7 237.3,457.1 237.8,458.3 238.2,458.9 239.2,459.7 240.5,460.4 242.8,460.8 243.2,459.8 243.7,458.6 244.6,459.7 245.4,460.5 245.9,460.8 251.3,461.0 251.8,460.1 252.3,458.6 253.1,459.7 254.0,460.6 254.4,460.9 259.9,461.1 260.3,459.9 260.9,457.1 261.6,458.7 262.1,459.6 262.6,460.3 263.0,460.9 263.4,461.1 268.4,461.2 268.9,451.4 269.5,421.1 269.8,426.4 270.2,436.2 270.6,444.9 271.1,452.2 271.6,457.9 272.0,460.1 272.9,460.6 276.9,461.3 277.4,453.3 278.1,416.0 278.3,420.4 278.8,431.7 279.2,441.7 279.6,450.2 280.1,456.8 280.6,460.0 281.4,460.6 283.7,461.3 285.5,461.4 285.9,454.2 286.8,396.2 286.9,400.1 287.3,416.7 287.8,431.3 288.2,443.9 288.6,453.9 289.1,459.4 289.6,459.9 290.4,460.6 292.2,461.3 294.1,461.5 294.5,459.7 295.4,421.5 295.9,432.8 296.3,442.0 296.8,449.8 297.2,456.2 297.6,460.3 298.6,460.9 301.2,461.6 303.1,461.7 303.5,450.7 304.0,438.6 304.4,444.4 304.9,449.8 305.3,454.4 305.8,458.2 306.2,460.8 306.6,461.2 311.6,461.8 312.1,430.8 312.6,386.3 312.9,402.6 313.4,420.4 313.9,435.9 314.3,448.8 314.8,458.0 315.2,459.8 315.6,460.3 316.6,461.0 318.4,461.6 320.1,461.9 320.6,437.0 321.2,389.7 321.5,402.9 321.9,420.2 322.4,435.4 322.9,448.0 323.3,457.4 323.8,459.9 324.2,460.4 325.1,461.1 326.9,461.8 328.7,462.0 329.1,454.6 329.8,435.5 330.1,439.4 330.5,445.9 330.9,451.6 331.4,456.4 331.9,460.0 332.3,461.3 335.0,462.0 337.2,462.2 337.7,451.5 338.4,411.6 338.6,417.3 339.1,429.9 339.5,440.9 339.9,450.3 340.4,457.5 340.9,460.7 341.8,461.4 343.6,462.0 345.8,462.2 346.2,444.2 347.0,337.3 347.1,347.1 347.6,378.6 348.1,406.3 348.5,430.0 348.9,448.7 349.4,458.4 349.9,459.3 350.3,460.1 350.8,460.7 351.6,461.4 353.0,462.0 354.4,462.2 354.8,462.0 355.6,458.1 356.1,459.4 356.6,460.4 357.1,461.2 357.5,461.9 357.9,462.3 362.9,462.5 363.4,462.3 364.2,444.2 364.7,449.1 365.1,453.3 365.6,457.0 366.1,459.9 366.5,461.9 371.9,462.7 372.4,449.3 372.9,432.6 373.2,439.6 373.7,446.6 374.1,452.7 374.6,457.8 375.1,461.3 375.5,461.9 377.8,462.6 380.4,462.8 380.9,437.1 381.5,394.8 381.8,408.3 382.2,424.5 382.7,438.6 383.1,450.4 383.6,458.9 384.1,460.9 384.9,461.8 386.3,462.4 392.6,463.0 397.6,463.0 398.0,462.1 398.7,459.1 399.4,460.6 399.8,461.5 400.2,462.2 400.7,462.7 401.1,463.0 406.1,463.1 406.6,455.2 407.3,418.6 407.4,422.8 407.9,434.0 408.4,443.8 408.8,452.2 409.2,458.7 409.7,461.8 410.6,462.4 412.9,463.0 414.6,463.2 415.1,459.6 415.9,430.5 416.0,432.5 416.4,440.8 416.9,448.2 417.4,454.4 417.8,459.5 418.2,462.2 419.6,462.9 423.2,463.3 423.6,462.5 424.5,444.7 425.0,450.0 425.4,454.3 425.9,457.9 426.4,460.9 426.8,462.8 432.2,463.5 432.6,450.5 433.1,436.3 433.6,443.1 434.0,449.4 434.4,454.9 434.9,459.4 435.4,462.4 435.8,462.8 440.8,463.6 441.2,446.0 441.7,420.9 442.1,430.1 442.6,440.2 443.0,449.0 443.4,456.3 443.9,461.5 444.4,462.5 445.7,463.2 452.0,463.8 457.9,463.9 458.3,462.4 458.9,458.6 459.6,460.7 460.1,461.8 460.6,462.8 461.0,463.5 461.4,463.8 466.4,464.0 466.9,460.9 467.6,449.2 467.8,450.9 468.2,454.5 468.6,457.8 469.1,460.5 469.6,462.7 470.0,463.6 474.9,464.1 475.4,462.1 476.2,450.3 476.8,454.9 477.2,457.9 477.6,460.6 478.1,462.6 478.6,463.7 483.5,464.2 483.9,461.4 484.8,427.6 484.9,429.1 485.3,438.5 485.8,446.8 486.2,453.9 486.6,459.6 487.1,463.1 488.0,463.6 492.1,464.3 492.5,463.7 493.4,412.2 493.9,426.1 494.3,438.1 494.8,448.4 495.2,456.9 495.6,462.4 496.1,463.0 497.0,463.6 499.7,464.3 501.1,464.4 501.5,456.1 502.0,445.6 502.4,450.0 502.9,454.4 503.3,458.3 503.8,461.4 504.2,463.6 504.6,464.0 509.6,464.6 510.1,451.7 510.6,430.5 510.9,437.3 511.4,445.4 511.9,452.5 512.3,458.4 512.8,462.7 513.2,463.7 514.5,464.2 518.1,464.7 518.6,457.5 519.2,441.6 519.5,445.4 520.0,451.0 520.4,455.9 520.9,460.0 521.3,463.1 521.8,464.1 526.7,464.8 527.1,457.1 527.8,433.4 528.0,437.5 528.5,445.2 529.0,452.0 529.4,457.8 529.9,462.2 530.3,463.9 532.1,464.6 535.2,464.9 535.7,461.5 536.4,445.6 536.6,447.5 537.0,452.3 537.5,456.6 538.0,460.2 538.4,463.0 538.9,464.4 543.8,465.0 544.2,460.1 545.0,420.9 545.1,423.6 545.6,434.8 546.0,444.7 546.5,453.2 547.0,459.9 547.4,463.7 548.3,464.3 550.5,465.0 556.9,465.2 563.1,465.3 569.5,465.4 575.8,465.5 578.5,465.5 578.9,461.7 579.5,454.3 579.8,456.4 580.2,459.1 580.7,461.4 581.1,463.4 581.6,464.9 582.0,465.3 587.0,465.6 587.5,462.4 588.1,453.8 588.4,455.6 588.8,458.5 589.2,461.0 589.7,463.2 590.1,464.8 590.6,465.4 595.5,465.8 596.0,457.3 596.7,425.9 596.9,430.4 597.4,440.3 597.8,449.0 598.2,456.4 598.7,462.1 599.1,464.6 600.0,465.1 604.1,465.8 604.5,462.5 605.3,442.7 605.5,444.5 605.9,450.4 606.4,455.5 606.8,459.9 607.2,463.4 607.7,465.2 612.6,466.0 613.1,464.5 613.9,446.2 614.5,452.1 614.9,456.6 615.4,460.5 615.8,463.6 616.2,465.4 621.2,466.1 621.6,465.7 622.5,429.6 623.0,439.3 623.5,447.7 623.9,455.0 624.4,460.9 624.8,464.8 625.2,465.2 627.0,465.9 630.2,466.2 630.6,459.4 631.1,450.9 631.5,454.5 632.0,458.1 632.5,461.2 632.9,463.8 633.4,465.6 633.8,465.9 638.8,466.4 639.2,455.2 639.8,436.9 640.1,442.8 640.5,449.8 641.0,455.9 641.5,461.0 641.9,464.7 642.4,465.6 644.6,466.3 650.9,466.5 657.0,466.6 663.0,466.7 669.4,466.8 673.0,466.9 673.4,466.0 674.2,459.3 674.8,461.7 675.2,463.4 675.6,464.8 676.1,466.0 676.5,466.7 681.5,467.0 682.0,465.6 682.8,436.3 683.3,445.0 683.8,452.0 684.2,458.0 684.6,462.9 685.1,466.0 686.5,466.6 690.5,467.1 691.0,451.5 691.4,434.6 691.9,442.7 692.3,450.2 692.8,456.8 693.2,462.1 693.6,465.8 694.1,466.3 695.9,466.9 697.7,467.1" fill="none" stroke="#26336e" stroke-width="0.95" stroke-linejoin="round"/>
<rect x="170.51" y="502.10" width="17.22" height="151.90" fill="#dfe2e6"/>
<rect x="170.41" y="492.75" width="13.40" height="6.60" rx="1.3" fill="#eef03c" stroke="#c9c820" stroke-width="0.5"/>
<text x="177.11" y="497.99" font-size="5.4" font-weight="bold" fill="#1a1a1a" text-anchor="middle" letter-spacing="0.4">26%</text>
<rect x="230.78" y="502.10" width="25.83" height="151.90" fill="#dfe2e6"/>
<rect x="230.68" y="492.75" width="13.40" height="6.60" rx="1.3" fill="#eef03c" stroke="#c9c820" stroke-width="0.5"/>
<text x="237.38" y="497.99" font-size="5.4" font-weight="bold" fill="#1a1a1a" text-anchor="middle" letter-spacing="0.4">33%</text>
<rect x="377.15" y="502.10" width="17.22" height="151.90" fill="#dfe2e6"/>
<rect x="377.05" y="492.75" width="13.40" height="6.60" rx="1.3" fill="#eef03c" stroke="#c9c820" stroke-width="0.5"/>
<text x="383.75" y="497.99" font-size="5.4" font-weight="bold" fill="#1a1a1a" text-anchor="middle" letter-spacing="0.4">27%</text>
<rect x="437.43" y="502.10" width="17.22" height="151.90" fill="#dfe2e6"/>
<rect x="437.32" y="492.75" width="13.40" height="6.60" rx="1.3" fill="#eef03c" stroke="#c9c820" stroke-width="0.5"/>
<text x="444.02" y="497.99" font-size="5.4" font-weight="bold" fill="#1a1a1a" text-anchor="middle" letter-spacing="0.4">26%</text>
<rect x="540.75" y="502.10" width="25.83" height="151.90" fill="#dfe2e6"/>
<rect x="540.64" y="492.75" width="13.40" height="6.60" rx="1.3" fill="#eef03c" stroke="#c9c820" stroke-width="0.5"/>
<text x="547.35" y="497.99" font-size="5.4" font-weight="bold" fill="#1a1a1a" text-anchor="middle" letter-spacing="0.4">23%</text>
<rect x="635.46" y="502.10" width="25.83" height="151.90" fill="#dfe2e6"/>
<rect x="635.36" y="492.75" width="13.40" height="6.60" rx="1.3" fill="#eef03c" stroke="#c9c820" stroke-width="0.5"/>
<text x="642.06" y="497.99" font-size="5.4" font-weight="bold" fill="#1a1a1a" text-anchor="middle" letter-spacing="0.4">24%</text>
<line x1="152.20" y1="636.30" x2="698.60" y2="636.30" stroke="#8c8c8c" stroke-width="0.9" stroke-dasharray="1 1"/>
<line x1="149.90" y1="636.30" x2="152.20" y2="636.30" stroke="#555" stroke-width="0.9"/>
<text x="148.20" y="638.46" font-size="6.0" fill="#3d3030" text-anchor="end" letter-spacing="0.4">0</text>
<line x1="152.20" y1="606.20" x2="698.60" y2="606.20" stroke="#8c8c8c" stroke-width="0.9" stroke-dasharray="1 1"/>
<line x1="149.90" y1="606.20" x2="152.20" y2="606.20" stroke="#555" stroke-width="0.9"/>
<text x="148.20" y="608.36" font-size="6.0" fill="#3d3030" text-anchor="end" letter-spacing="0.4">25</text>
<line x1="152.20" y1="576.10" x2="698.60" y2="576.10" stroke="#8c8c8c" stroke-width="0.9" stroke-dasharray="1 1"/>
<line x1="149.90" y1="576.10" x2="152.20" y2="576.10" stroke="#555" stroke-width="0.9"/>
<text x="148.20" y="578.26" font-size="6.0" fill="#3d3030" text-anchor="end" letter-spacing="0.4">50</text>
<line x1="152.20" y1="546.00" x2="698.60" y2="546.00" stroke="#8c8c8c" stroke-width="0.9" stroke-dasharray="1 1"/>
<line x1="149.90" y1="546.00" x2="152.20" y2="546.00" stroke="#555" stroke-width="0.9"/>
<text x="148.20" y="548.16" font-size="6.0" fill="#3d3030" text-anchor="end" letter-spacing="0.4">75</text>
<line x1="152.20" y1="515.90" x2="698.60" y2="515.90" stroke="#8c8c8c" stroke-width="0.9" stroke-dasharray="1 1"/>
<line x1="149.90" y1="515.90" x2="152.20" y2="515.90" stroke="#555" stroke-width="0.9"/>
<text x="148.20" y="518.06" font-size="6.0" fill="#3d3030" text-anchor="end" letter-spacing="0.4">100</text>
<line x1="149.00" y1="502.10" x2="149.00" y2="654.00" stroke="#b4b4b4" stroke-width="1.8"/>
<line x1="148.10" y1="654.00" x2="698.60" y2="654.00" stroke="#555" stroke-width="0.9"/>
<line x1="157.60" y1="651.60" x2="157.60" y2="654.00" stroke="#555" stroke-width="0.8"/>
<text x="157.60" y="660.00" font-size="6.0" fill="#7a6660" text-anchor="middle">T</text>
<line x1="166.21" y1="651.60" x2="166.21" y2="654.00" stroke="#555" stroke-width="0.8"/>
<text x="166.21" y="660.00" font-size="6.0" fill="#7a6660" text-anchor="middle">G</text>
<line x1="174.82" y1="651.60" x2="174.82" y2="654.00" stroke="#555" stroke-width="0.8"/>
<text x="174.82" y="660.00" font-size="6.0" fill="#7a6660" text-anchor="middle">T</text>
<line x1="183.43" y1="651.60" x2="183.43" y2="654.00" stroke="#555" stroke-width="0.8"/>
<text x="183.43" y="660.00" font-size="6.0" fill="#7a6660" text-anchor="middle">C</text>
<line x1="192.04" y1="651.60" x2="192.04" y2="654.00" stroke="#555" stroke-width="0.8"/>
<text x="192.04" y="660.00" font-size="6.0" fill="#7a6660" text-anchor="middle">T</text>
<text x="192.04" y="668.00" font-size="6.4" fill="#5a4a44" text-anchor="middle" letter-spacing="0.3">5</text>
<line x1="200.65" y1="651.60" x2="200.65" y2="654.00" stroke="#555" stroke-width="0.8"/>
<text x="200.65" y="660.00" font-size="6.0" fill="#7a6660" text-anchor="middle">G</text>
<line x1="209.26" y1="651.60" x2="209.26" y2="654.00" stroke="#555" stroke-width="0.8"/>
<text x="209.26" y="660.00" font-size="6.0" fill="#7a6660" text-anchor="middle">A</text>
<line x1="217.87" y1="651.60" x2="217.87" y2="654.00" stroke="#555" stroke-width="0.8"/>
<text x="217.87" y="660.00" font-size="6.0" fill="#7a6660" text-anchor="middle">T</text>
<line x1="226.48" y1="651.60" x2="226.48" y2="654.00" stroke="#555" stroke-width="0.8"/>
<text x="226.48" y="660.00" font-size="6.0" fill="#7a6660" text-anchor="middle">G</text>
<line x1="235.09" y1="651.60" x2="235.09" y2="654.00" stroke="#555" stroke-width="0.8"/>
<text x="235.09" y="660.00" font-size="6.0" fill="#7a6660" text-anchor="middle">T</text>
<text x="235.09" y="668.00" font-size="6.4" fill="#5a4a44" text-anchor="middle" letter-spacing="0.3">10</text>
<line x1="243.70" y1="651.60" x2="243.70" y2="654.00" stroke="#555" stroke-width="0.8"/>
<text x="243.70" y="660.00" font-size="6.0" fill="#7a6660" text-anchor="middle">T</text>
<line x1="252.31" y1="651.60" x2="252.31" y2="654.00" stroke="#555" stroke-width="0.8"/>
<text x="252.31" y="660.00" font-size="6.0" fill="#7a6660" text-anchor="middle">C</text>
<line x1="260.92" y1="651.60" x2="260.92" y2="654.00" stroke="#555" stroke-width="0.8"/>
<text x="260.92" y="660.00" font-size="6.0" fill="#7a6660" text-anchor="middle">T</text>
<line x1="269.53" y1="651.60" x2="269.53" y2="654.00" stroke="#555" stroke-width="0.8"/>
<text x="269.53" y="660.00" font-size="6.0" fill="#7a6660" text-anchor="middle">G</text>
<line x1="278.14" y1="651.60" x2="278.14" y2="654.00" stroke="#555" stroke-width="0.8"/>
<text x="278.14" y="660.00" font-size="6.0" fill="#7a6660" text-anchor="middle">A</text>
<text x="278.14" y="668.00" font-size="6.4" fill="#5a4a44" text-anchor="middle" letter-spacing="0.3">15</text>
<line x1="286.75" y1="651.60" x2="286.75" y2="654.00" stroke="#555" stroke-width="0.8"/>
<text x="286.75" y="660.00" font-size="6.0" fill="#7a6660" text-anchor="middle">G</text>
<line x1="295.36" y1="651.60" x2="295.36" y2="654.00" stroke="#555" stroke-width="0.8"/>
<text x="295.36" y="660.00" font-size="6.0" fill="#7a6660" text-anchor="middle">T</text>
<line x1="303.97" y1="651.60" x2="303.97" y2="654.00" stroke="#555" stroke-width="0.8"/>
<text x="303.97" y="660.00" font-size="6.0" fill="#7a6660" text-anchor="middle">G</text>
<line x1="312.58" y1="651.60" x2="312.58" y2="654.00" stroke="#555" stroke-width="0.8"/>
<text x="312.58" y="660.00" font-size="6.0" fill="#7a6660" text-anchor="middle">A</text>
<line x1="321.19" y1="651.60" x2="321.19" y2="654.00" stroke="#555" stroke-width="0.8"/>
<text x="321.19" y="660.00" font-size="6.0" fill="#7a6660" text-anchor="middle">T</text>
<text x="321.19" y="668.00" font-size="6.4" fill="#5a4a44" text-anchor="middle" letter-spacing="0.3">20</text>
<line x1="329.80" y1="651.60" x2="329.80" y2="654.00" stroke="#555" stroke-width="0.8"/>
<text x="329.80" y="660.00" font-size="6.0" fill="#7a6660" text-anchor="middle">G</text>
<line x1="338.41" y1="651.60" x2="338.41" y2="654.00" stroke="#555" stroke-width="0.8"/>
<text x="338.41" y="660.00" font-size="6.0" fill="#7a6660" text-anchor="middle">A</text>
<line x1="347.02" y1="651.60" x2="347.02" y2="654.00" stroke="#555" stroke-width="0.8"/>
<text x="347.02" y="660.00" font-size="6.0" fill="#7a6660" text-anchor="middle">T</text>
<line x1="355.63" y1="651.60" x2="355.63" y2="654.00" stroke="#555" stroke-width="0.8"/>
<text x="355.63" y="660.00" font-size="6.0" fill="#7a6660" text-anchor="middle">T</text>
<line x1="364.24" y1="651.60" x2="364.24" y2="654.00" stroke="#555" stroke-width="0.8"/>
<text x="364.24" y="660.00" font-size="6.0" fill="#7a6660" text-anchor="middle">G</text>
<text x="364.24" y="668.00" font-size="6.4" fill="#5a4a44" text-anchor="middle" letter-spacing="0.3">25</text>
<line x1="372.85" y1="651.60" x2="372.85" y2="654.00" stroke="#555" stroke-width="0.8"/>
<text x="372.85" y="660.00" font-size="6.0" fill="#7a6660" text-anchor="middle">A</text>
<line x1="381.46" y1="651.60" x2="381.46" y2="654.00" stroke="#555" stroke-width="0.8"/>
<text x="381.46" y="660.00" font-size="6.0" fill="#7a6660" text-anchor="middle">T</text>
<line x1="390.07" y1="651.60" x2="390.07" y2="654.00" stroke="#555" stroke-width="0.8"/>
<text x="390.07" y="660.00" font-size="6.0" fill="#7a6660" text-anchor="middle">C</text>
<line x1="398.68" y1="651.60" x2="398.68" y2="654.00" stroke="#555" stroke-width="0.8"/>
<text x="398.68" y="660.00" font-size="6.0" fill="#7a6660" text-anchor="middle">T</text>
<line x1="407.29" y1="651.60" x2="407.29" y2="654.00" stroke="#555" stroke-width="0.8"/>
<text x="407.29" y="660.00" font-size="6.0" fill="#7a6660" text-anchor="middle">G</text>
<text x="407.29" y="668.00" font-size="6.4" fill="#5a4a44" text-anchor="middle" letter-spacing="0.3">30</text>
<line x1="415.90" y1="651.60" x2="415.90" y2="654.00" stroke="#555" stroke-width="0.8"/>
<text x="415.90" y="660.00" font-size="6.0" fill="#7a6660" text-anchor="middle">A</text>
<line x1="424.51" y1="651.60" x2="424.51" y2="654.00" stroke="#555" stroke-width="0.8"/>
<text x="424.51" y="660.00" font-size="6.0" fill="#7a6660" text-anchor="middle">T</text>
<line x1="433.12" y1="651.60" x2="433.12" y2="654.00" stroke="#555" stroke-width="0.8"/>
<text x="433.12" y="660.00" font-size="6.0" fill="#7a6660" text-anchor="middle">G</text>
<line x1="441.73" y1="651.60" x2="441.73" y2="654.00" stroke="#555" stroke-width="0.8"/>
<text x="441.73" y="660.00" font-size="6.0" fill="#7a6660" text-anchor="middle">T</text>
<line x1="450.34" y1="651.60" x2="450.34" y2="654.00" stroke="#555" stroke-width="0.8"/>
<text x="450.34" y="660.00" font-size="6.0" fill="#7a6660" text-anchor="middle">C</text>
<text x="450.34" y="668.00" font-size="6.4" fill="#5a4a44" text-anchor="middle" letter-spacing="0.3">35</text>
<line x1="458.95" y1="651.60" x2="458.95" y2="654.00" stroke="#555" stroke-width="0.8"/>
<text x="458.95" y="660.00" font-size="6.0" fill="#7a6660" text-anchor="middle">T</text>
<line x1="467.56" y1="651.60" x2="467.56" y2="654.00" stroke="#555" stroke-width="0.8"/>
<text x="467.56" y="660.00" font-size="6.0" fill="#7a6660" text-anchor="middle">G</text>
<line x1="476.17" y1="651.60" x2="476.17" y2="654.00" stroke="#555" stroke-width="0.8"/>
<text x="476.17" y="660.00" font-size="6.0" fill="#7a6660" text-anchor="middle">T</text>
<line x1="484.78" y1="651.60" x2="484.78" y2="654.00" stroke="#555" stroke-width="0.8"/>
<text x="484.78" y="660.00" font-size="6.0" fill="#7a6660" text-anchor="middle">A</text>
<line x1="493.39" y1="651.60" x2="493.39" y2="654.00" stroke="#555" stroke-width="0.8"/>
<text x="493.39" y="660.00" font-size="6.0" fill="#7a6660" text-anchor="middle">T</text>
<text x="493.39" y="668.00" font-size="6.4" fill="#5a4a44" text-anchor="middle" letter-spacing="0.3">40</text>
<line x1="502.00" y1="651.60" x2="502.00" y2="654.00" stroke="#555" stroke-width="0.8"/>
<text x="502.00" y="660.00" font-size="6.0" fill="#7a6660" text-anchor="middle">A</text>
<line x1="510.61" y1="651.60" x2="510.61" y2="654.00" stroke="#555" stroke-width="0.8"/>
<text x="510.61" y="660.00" font-size="6.0" fill="#7a6660" text-anchor="middle">G</text>
<line x1="519.22" y1="651.60" x2="519.22" y2="654.00" stroke="#555" stroke-width="0.8"/>
<text x="519.22" y="660.00" font-size="6.0" fill="#7a6660" text-anchor="middle">A</text>
<line x1="527.83" y1="651.60" x2="527.83" y2="654.00" stroke="#555" stroke-width="0.8"/>
<text x="527.83" y="660.00" font-size="6.0" fill="#7a6660" text-anchor="middle">T</text>
<line x1="536.44" y1="651.60" x2="536.44" y2="654.00" stroke="#555" stroke-width="0.8"/>
<text x="536.44" y="660.00" font-size="6.0" fill="#7a6660" text-anchor="middle">G</text>
<text x="536.44" y="668.00" font-size="6.4" fill="#5a4a44" text-anchor="middle" letter-spacing="0.3">45</text>
<line x1="545.05" y1="651.60" x2="545.05" y2="654.00" stroke="#555" stroke-width="0.8"/>
<text x="545.05" y="660.00" font-size="6.0" fill="#7a6660" text-anchor="middle">T</text>
<line x1="553.66" y1="651.60" x2="553.66" y2="654.00" stroke="#555" stroke-width="0.8"/>
<text x="553.66" y="660.00" font-size="6.0" fill="#7a6660" text-anchor="middle">T</text>
<line x1="562.27" y1="651.60" x2="562.27" y2="654.00" stroke="#555" stroke-width="0.8"/>
<text x="562.27" y="660.00" font-size="6.0" fill="#7a6660" text-anchor="middle">C</text>
<line x1="570.88" y1="651.60" x2="570.88" y2="654.00" stroke="#555" stroke-width="0.8"/>
<text x="570.88" y="660.00" font-size="6.0" fill="#7a6660" text-anchor="middle">T</text>
<line x1="579.49" y1="651.60" x2="579.49" y2="654.00" stroke="#555" stroke-width="0.8"/>
<text x="579.49" y="660.00" font-size="6.0" fill="#7a6660" text-anchor="middle">G</text>
<text x="579.49" y="668.00" font-size="6.4" fill="#5a4a44" text-anchor="middle" letter-spacing="0.3">50</text>
<line x1="588.10" y1="651.60" x2="588.10" y2="654.00" stroke="#555" stroke-width="0.8"/>
<text x="588.10" y="660.00" font-size="6.0" fill="#7a6660" text-anchor="middle">T</text>
<line x1="596.71" y1="651.60" x2="596.71" y2="654.00" stroke="#555" stroke-width="0.8"/>
<text x="596.71" y="660.00" font-size="6.0" fill="#7a6660" text-anchor="middle">A</text>
<line x1="605.32" y1="651.60" x2="605.32" y2="654.00" stroke="#555" stroke-width="0.8"/>
<text x="605.32" y="660.00" font-size="6.0" fill="#7a6660" text-anchor="middle">G</text>
<line x1="613.93" y1="651.60" x2="613.93" y2="654.00" stroke="#555" stroke-width="0.8"/>
<text x="613.93" y="660.00" font-size="6.0" fill="#7a6660" text-anchor="middle">A</text>
<line x1="622.54" y1="651.60" x2="622.54" y2="654.00" stroke="#555" stroke-width="0.8"/>
<text x="622.54" y="660.00" font-size="6.0" fill="#7a6660" text-anchor="middle">T</text>
<text x="622.54" y="668.00" font-size="6.4" fill="#5a4a44" text-anchor="middle" letter-spacing="0.3">55</text>
<line x1="631.15" y1="651.60" x2="631.15" y2="654.00" stroke="#555" stroke-width="0.8"/>
<text x="631.15" y="660.00" font-size="6.0" fill="#7a6660" text-anchor="middle">G</text>
<line x1="639.76" y1="651.60" x2="639.76" y2="654.00" stroke="#555" stroke-width="0.8"/>
<text x="639.76" y="660.00" font-size="6.0" fill="#7a6660" text-anchor="middle">T</text>
<line x1="648.37" y1="651.60" x2="648.37" y2="654.00" stroke="#555" stroke-width="0.8"/>
<text x="648.37" y="660.00" font-size="6.0" fill="#7a6660" text-anchor="middle">T</text>
<line x1="656.98" y1="651.60" x2="656.98" y2="654.00" stroke="#555" stroke-width="0.8"/>
<text x="656.98" y="660.00" font-size="6.0" fill="#7a6660" text-anchor="middle">C</text>
<line x1="665.59" y1="651.60" x2="665.59" y2="654.00" stroke="#555" stroke-width="0.8"/>
<text x="665.59" y="660.00" font-size="6.0" fill="#7a6660" text-anchor="middle">T</text>
<text x="665.59" y="668.00" font-size="6.4" fill="#5a4a44" text-anchor="middle" letter-spacing="0.3">60</text>
<line x1="674.20" y1="651.60" x2="674.20" y2="654.00" stroke="#555" stroke-width="0.8"/>
<text x="674.20" y="660.00" font-size="6.0" fill="#7a6660" text-anchor="middle">G</text>
<line x1="682.81" y1="651.60" x2="682.81" y2="654.00" stroke="#555" stroke-width="0.8"/>
<text x="682.81" y="660.00" font-size="6.0" fill="#7a6660" text-anchor="middle">A</text>
<line x1="691.42" y1="651.60" x2="691.42" y2="654.00" stroke="#555" stroke-width="0.8"/>
<text x="691.42" y="660.00" font-size="6.0" fill="#7a6660" text-anchor="middle">T</text>
<polyline points="149.5,636.3 155.8,636.4 156.7,636.4 157.2,631.7 157.6,617.5 158.1,623.7 158.5,629.0 158.9,633.2 159.4,635.8 161.7,636.3 165.2,636.5 165.7,633.1 166.2,614.1 166.6,620.5 167.1,626.9 167.5,632.1 167.9,635.5 168.4,636.0 173.8,636.6 174.2,633.2 174.8,568.8 175.2,585.3 175.6,605.1 176.1,621.3 176.5,632.8 176.9,634.8 177.4,635.4 178.3,636.0 182.8,636.6 183.2,632.2 183.4,630.3 183.7,631.6 184.2,633.5 184.6,635.1 185.1,636.2 185.5,636.5 191.3,636.8 191.8,623.3 192.0,614.4 192.2,617.9 192.7,624.8 193.2,630.4 193.6,634.7 194.1,636.1 195.8,636.7 199.9,636.8 200.3,613.2 200.7,589.5 200.8,594.9 201.2,609.6 201.7,622.0 202.2,631.5 202.6,635.5 203.1,635.9 203.9,636.4 208.4,636.9 208.9,623.5 209.3,603.3 209.3,605.6 209.8,616.3 210.2,625.4 210.7,632.4 211.2,635.9 212.1,636.5 217.0,637.0 217.4,632.9 217.9,623.3 218.3,628.1 218.8,631.9 219.2,634.9 219.7,636.6 225.6,637.1 226.0,628.5 226.5,594.0 226.9,607.3 227.3,619.4 227.8,629.2 228.2,635.6 228.7,636.1 229.6,636.7 234.1,637.2 234.6,628.1 235.1,546.0 235.4,570.2 235.9,596.6 236.3,618.0 236.8,632.8 237.2,635.0 237.7,635.7 238.2,636.1 239.1,636.7 243.1,637.3 243.7,629.0 244.0,630.8 244.4,633.3 244.9,635.3 245.3,636.8 245.8,637.1 251.7,637.4 252.1,633.2 252.3,630.9 252.6,632.1 253.0,634.0 253.4,635.7 253.9,636.9 254.3,637.3 260.2,637.5 260.6,630.6 260.9,625.0 261.1,626.7 261.6,630.6 262.0,633.8 262.4,636.3 262.9,637.2 268.8,637.6 269.2,622.3 269.5,603.7 269.6,606.8 270.1,617.5 270.6,626.5 271.0,633.4 271.4,636.6 272.4,637.1 277.3,637.7 277.8,625.7 278.1,603.3 278.2,604.9 278.6,615.9 279.1,625.3 279.6,632.7 280.0,636.6 280.9,637.2 285.9,637.8 286.3,624.7 286.8,585.5 287.2,602.6 287.6,617.2 288.1,628.8 288.6,636.1 289.0,636.6 289.9,637.2 294.4,637.9 294.9,632.2 295.4,600.2 295.8,611.0 296.2,621.7 296.6,630.5 297.1,636.3 297.6,637.0 298.4,637.5 302.9,638.0 303.4,637.2 304.0,621.5 304.3,625.5 304.8,630.3 305.2,634.3 305.6,637.1 306.1,637.6 311.9,638.1 312.4,593.5 312.6,574.4 312.9,587.3 313.3,606.3 313.8,622.0 314.2,633.5 314.6,636.4 315.1,636.9 316.0,637.5 320.5,638.2 320.9,598.4 321.2,571.9 321.4,582.4 321.9,602.6 322.3,619.5 322.8,632.1 323.2,636.3 323.6,636.9 324.6,637.6 326.4,638.1 329.1,638.2 329.5,628.7 329.8,619.2 329.9,621.4 330.4,627.3 330.9,632.3 331.3,636.1 331.8,637.7 337.6,638.4 338.1,621.6 338.4,596.6 338.5,599.5 338.9,612.7 339.4,624.0 339.9,632.7 340.3,637.1 341.2,637.8 343.0,638.3 346.1,638.4 346.6,601.7 347.0,515.9 347.1,518.8 347.5,558.5 347.9,592.2 348.4,619.0 348.9,634.5 349.3,635.7 349.8,636.5 350.2,637.1 350.6,637.5 351.6,638.0 354.7,638.5 355.1,637.3 355.6,632.3 356.1,634.2 356.5,636.0 356.9,637.4 357.4,638.3 363.2,638.6 363.7,637.7 364.2,629.4 364.6,631.9 365.1,634.6 365.5,636.7 365.9,638.2 366.4,638.4 372.2,638.7 372.9,614.4 373.1,619.8 373.6,627.0 374.1,632.9 374.5,637.2 374.9,638.1 376.8,638.6 380.8,638.8 381.2,601.7 381.5,581.8 381.7,592.1 382.1,609.3 382.6,623.6 383.1,634.2 383.5,637.3 383.9,637.8 384.9,638.3 389.4,638.9 389.8,636.8 390.1,635.1 390.7,636.8 391.1,637.8 391.6,638.6 392.1,638.8 397.9,639.0 398.4,635.6 398.7,631.5 399.2,634.6 399.7,636.6 400.1,638.1 400.6,638.8 406.4,639.1 406.9,627.8 407.3,606.8 407.4,608.3 407.8,618.7 408.2,627.5 408.7,634.4 409.1,638.1 410.1,638.7 415.0,639.2 415.4,633.5 415.9,616.4 416.4,623.9 416.8,630.2 417.2,635.3 417.7,638.5 419.1,639.0 423.6,639.3 424.0,637.2 424.5,625.5 424.9,629.4 425.4,633.4 425.8,636.6 426.2,638.7 426.7,639.0 432.1,639.4 432.6,638.5 433.1,621.0 433.4,625.5 433.9,630.9 434.4,635.3 434.8,638.4 435.2,639.0 441.1,639.5 441.6,610.0 441.7,597.4 442.0,605.9 442.4,618.5 442.9,628.9 443.4,636.5 443.8,638.4 444.7,639.0 451.0,639.6 457.3,639.7 458.2,639.7 458.6,636.4 458.9,633.2 459.6,636.0 460.0,637.7 460.4,639.0 460.9,639.5 466.8,639.8 467.2,634.5 467.6,626.7 467.6,627.6 468.1,631.7 468.6,635.3 469.0,638.0 469.4,639.4 475.3,639.9 475.8,634.2 476.2,621.0 476.6,627.6 477.1,632.8 477.6,636.9 478.0,639.3 483.9,640.0 484.3,635.3 484.8,616.7 485.2,623.8 485.6,630.4 486.1,635.7 486.6,639.1 487.0,639.4 492.4,640.1 492.9,635.2 493.4,591.1 493.8,604.1 494.2,618.3 494.6,629.8 495.1,637.7 495.6,638.9 496.4,639.5 501.4,640.1 502.0,625.2 502.3,628.6 502.8,633.0 503.2,636.6 503.6,639.2 504.1,639.8 509.9,640.3 510.4,626.7 510.6,619.4 510.9,623.2 511.3,629.5 511.8,634.7 512.2,638.6 512.6,639.7 518.5,640.3 519.0,632.0 519.2,625.2 519.4,627.3 519.9,632.0 520.3,635.9 520.8,638.8 521.2,639.9 527.0,640.4 527.5,634.2 527.8,626.7 528.0,627.9 528.4,632.3 528.9,635.9 529.3,638.8 529.8,640.1 535.6,640.5 536.0,635.9 536.4,627.3 537.0,632.1 537.4,635.8 537.9,638.6 538.3,640.1 544.1,640.6 544.6,627.4 545.0,587.8 545.5,605.1 546.0,619.8 546.4,631.6 546.9,638.9 547.3,639.4 548.2,640.1 552.7,640.7 553.1,640.2 553.7,637.1 554.0,638.2 554.5,639.2 555.0,640.0 555.4,640.6 561.7,640.8 568.0,640.9 570.2,640.9 570.7,636.5 570.9,634.6 571.1,635.9 571.6,637.8 572.0,639.3 572.5,640.5 573.0,640.8 578.8,641.0 579.2,634.6 579.5,630.3 579.7,632.0 580.1,635.3 580.6,638.0 581.0,640.0 581.5,640.7 587.4,641.1 587.8,631.5 588.1,621.9 588.2,624.1 588.7,630.1 589.1,635.1 589.6,639.0 590.0,640.6 595.9,641.2 596.4,629.1 596.7,611.0 596.8,613.1 597.2,622.7 597.7,630.8 598.1,637.1 598.6,640.3 599.5,640.8 604.5,641.3 604.9,636.9 605.3,626.7 605.8,631.8 606.2,635.8 606.7,639.0 607.1,640.8 613.0,641.4 613.5,638.8 613.9,628.4 614.4,632.4 614.8,636.0 615.2,639.0 615.7,640.9 621.5,641.5 622.0,639.9 622.5,626.1 622.9,630.2 623.4,634.6 623.8,638.3 624.2,640.8 624.7,641.1 630.5,641.6 631.1,629.0 631.5,631.8 631.9,635.5 632.4,638.6 632.8,640.8 633.2,641.3 639.1,641.7 639.5,613.4 639.8,598.3 640.0,606.1 640.5,619.2 640.9,630.1 641.4,638.1 641.8,640.5 642.7,641.1 647.6,641.8 648.1,639.7 648.4,638.0 649.0,639.7 649.5,640.7 649.9,641.4 650.4,641.7 656.6,641.9 663.0,641.9 664.8,642.0 665.2,639.8 665.6,635.7 666.1,638.0 666.5,639.7 667.0,641.1 667.5,641.8 673.3,642.0 673.8,639.6 674.2,632.3 674.6,635.5 675.1,638.2 675.5,640.4 676.0,641.8 681.9,642.1 682.3,639.6 682.8,625.2 683.2,630.1 683.6,634.9 684.1,638.8 684.5,641.5 685.0,641.8 690.4,642.2 690.9,641.1 691.4,620.2 691.8,625.6 692.2,632.0 692.6,637.3 693.1,641.0 693.5,641.7 698.0,642.3" fill="none" stroke="#26336e" stroke-width="0.95" stroke-linejoin="round"/>
<rect x="38.57" y="690.10" width="12.67" height="154.90" fill="#dfe2e6"/>
<rect x="38.47" y="680.65" width="11.30" height="6.70" rx="1.3" fill="#b9c9e6" stroke="#8ea6d3" stroke-width="0.5"/>
<text x="44.12" y="686.09" font-size="5.8" font-weight="bold" fill="#1a1a1a" text-anchor="middle" letter-spacing="0.4">6%</text>
<rect x="82.90" y="690.10" width="12.67" height="154.90" fill="#dfe2e6"/>
<rect x="82.80" y="680.65" width="11.30" height="6.70" rx="1.3" fill="#b9c9e6" stroke="#8ea6d3" stroke-width="0.5"/>
<text x="88.45" y="686.09" font-size="5.8" font-weight="bold" fill="#1a1a1a" text-anchor="middle" letter-spacing="0.4">6%</text>
<rect x="120.90" y="690.10" width="12.67" height="154.90" fill="#dfe2e6"/>
<rect x="120.80" y="680.65" width="11.30" height="6.70" rx="1.3" fill="#eef03c" stroke="#c9c820" stroke-width="0.5"/>
<text x="126.45" y="686.09" font-size="5.8" font-weight="bold" fill="#1a1a1a" text-anchor="middle" letter-spacing="0.4">6%</text>
<rect x="152.56" y="690.10" width="12.67" height="154.90" fill="#dfe2e6"/>
<rect x="152.46" y="680.65" width="11.30" height="6.70" rx="1.3" fill="#b9c9e6" stroke="#8ea6d3" stroke-width="0.5"/>
<text x="158.11" y="686.09" font-size="5.8" font-weight="bold" fill="#1a1a1a" text-anchor="middle" letter-spacing="0.4">7%</text>
<rect x="203.22" y="690.10" width="12.67" height="154.90" fill="#dfe2e6"/>
<rect x="203.12" y="680.65" width="11.30" height="6.70" rx="1.3" fill="#b9c9e6" stroke="#8ea6d3" stroke-width="0.5"/>
<text x="208.77" y="686.09" font-size="5.8" font-weight="bold" fill="#1a1a1a" text-anchor="middle" letter-spacing="0.4">6%</text>
<rect x="253.89" y="690.10" width="12.67" height="154.90" fill="#dfe2e6"/>
<rect x="253.79" y="680.65" width="11.30" height="6.70" rx="1.3" fill="#b9c9e6" stroke="#8ea6d3" stroke-width="0.5"/>
<text x="259.44" y="686.09" font-size="5.8" font-weight="bold" fill="#1a1a1a" text-anchor="middle" letter-spacing="0.4">7%</text>
<rect x="285.55" y="690.10" width="12.67" height="154.90" fill="#dfe2e6"/>
<rect x="285.45" y="680.65" width="11.30" height="6.70" rx="1.3" fill="#eef03c" stroke="#c9c820" stroke-width="0.5"/>
<text x="291.10" y="686.09" font-size="5.8" font-weight="bold" fill="#1a1a1a" text-anchor="middle" letter-spacing="0.4">3%</text>
<rect x="310.89" y="690.10" width="12.67" height="154.90" fill="#dfe2e6"/>
<rect x="310.79" y="680.65" width="11.30" height="6.70" rx="1.3" fill="#b9c9e6" stroke="#8ea6d3" stroke-width="0.5"/>
<text x="316.44" y="686.09" font-size="5.8" font-weight="bold" fill="#1a1a1a" text-anchor="middle" letter-spacing="0.4">4%</text>
<rect x="342.55" y="690.10" width="12.67" height="154.90" fill="#dfe2e6"/>
<rect x="342.45" y="680.65" width="11.30" height="6.70" rx="1.3" fill="#eef03c" stroke="#c9c820" stroke-width="0.5"/>
<text x="348.10" y="686.09" font-size="5.8" font-weight="bold" fill="#1a1a1a" text-anchor="middle" letter-spacing="0.4">3%</text>
<rect x="367.88" y="690.10" width="19.00" height="154.90" fill="#dfe2e6"/>
<rect x="367.78" y="680.65" width="11.30" height="6.70" rx="1.3" fill="#e0283a" stroke="#b81e2c" stroke-width="0.5"/>
<text x="373.43" y="686.09" font-size="5.8" font-weight="bold" fill="#1a1a1a" text-anchor="middle" letter-spacing="0.4">8%</text>
<rect x="431.21" y="690.10" width="12.67" height="154.90" fill="#dfe2e6"/>
<rect x="431.11" y="680.65" width="11.30" height="6.70" rx="1.3" fill="#b9c9e6" stroke="#8ea6d3" stroke-width="0.5"/>
<text x="436.76" y="686.09" font-size="5.8" font-weight="bold" fill="#1a1a1a" text-anchor="middle" letter-spacing="0.4">5%</text>
<rect x="475.54" y="690.10" width="12.67" height="154.90" fill="#dfe2e6"/>
<rect x="475.44" y="680.65" width="11.30" height="6.70" rx="1.3" fill="#b9c9e6" stroke="#8ea6d3" stroke-width="0.5"/>
<text x="481.09" y="686.09" font-size="5.8" font-weight="bold" fill="#1a1a1a" text-anchor="middle" letter-spacing="0.4">4%</text>
<rect x="513.54" y="690.10" width="12.67" height="154.90" fill="#dfe2e6"/>
<rect x="513.44" y="680.65" width="11.30" height="6.70" rx="1.3" fill="#b9c9e6" stroke="#8ea6d3" stroke-width="0.5"/>
<text x="519.09" y="686.09" font-size="5.8" font-weight="bold" fill="#1a1a1a" text-anchor="middle" letter-spacing="0.4">4%</text>
<rect x="538.87" y="690.10" width="12.67" height="154.90" fill="#dfe2e6"/>
<rect x="538.77" y="680.65" width="11.30" height="6.70" rx="1.3" fill="#b9c9e6" stroke="#8ea6d3" stroke-width="0.5"/>
<text x="544.42" y="686.09" font-size="5.8" font-weight="bold" fill="#1a1a1a" text-anchor="middle" letter-spacing="0.4">5%</text>
<rect x="564.21" y="690.10" width="12.67" height="154.90" fill="#dfe2e6"/>
<rect x="564.11" y="680.65" width="11.30" height="6.70" rx="1.3" fill="#b9c9e6" stroke="#8ea6d3" stroke-width="0.5"/>
<text x="569.76" y="686.09" font-size="5.8" font-weight="bold" fill="#1a1a1a" text-anchor="middle" letter-spacing="0.4">4%</text>
<rect x="589.54" y="690.10" width="12.67" height="154.90" fill="#dfe2e6"/>
<rect x="589.44" y="680.65" width="11.30" height="6.70" rx="1.3" fill="#e0283a" stroke="#b81e2c" stroke-width="0.5"/>
<text x="595.09" y="686.09" font-size="5.8" font-weight="bold" fill="#1a1a1a" text-anchor="middle" letter-spacing="0.4">8%</text>
<rect x="621.20" y="690.10" width="12.67" height="154.90" fill="#dfe2e6"/>
<rect x="621.10" y="680.65" width="11.30" height="6.70" rx="1.3" fill="#e0283a" stroke="#b81e2c" stroke-width="0.5"/>
<text x="626.75" y="686.09" font-size="5.8" font-weight="bold" fill="#1a1a1a" text-anchor="middle" letter-spacing="0.4">8%</text>
<rect x="678.20" y="690.10" width="12.67" height="154.90" fill="#dfe2e6"/>
<rect x="678.10" y="680.65" width="11.30" height="6.70" rx="1.3" fill="#b9c9e6" stroke="#8ea6d3" stroke-width="0.5"/>
<text x="683.75" y="686.09" font-size="5.8" font-weight="bold" fill="#1a1a1a" text-anchor="middle" letter-spacing="0.4">3%</text>
<line x1="32.80" y1="832.60" x2="698.00" y2="832.60" stroke="#8c8c8c" stroke-width="0.9" stroke-dasharray="1 1"/>
<line x1="30.50" y1="832.60" x2="32.80" y2="832.60" stroke="#555" stroke-width="0.9"/>
<text x="28.80" y="834.98" font-size="6.6" fill="#3d3030" text-anchor="end" letter-spacing="0.4">0</text>
<line x1="32.80" y1="810.30" x2="698.00" y2="810.30" stroke="#8c8c8c" stroke-width="0.9" stroke-dasharray="1 1"/>
<line x1="30.50" y1="810.30" x2="32.80" y2="810.30" stroke="#555" stroke-width="0.9"/>
<text x="28.80" y="812.68" font-size="6.6" fill="#3d3030" text-anchor="end" letter-spacing="0.4">25</text>
<line x1="32.80" y1="788.00" x2="698.00" y2="788.00" stroke="#8c8c8c" stroke-width="0.9" stroke-dasharray="1 1"/>
<line x1="30.50" y1="788.00" x2="32.80" y2="788.00" stroke="#555" stroke-width="0.9"/>
<text x="28.80" y="790.38" font-size="6.6" fill="#3d3030" text-anchor="end" letter-spacing="0.4">50</text>
<line x1="32.80" y1="765.70" x2="698.00" y2="765.70" stroke="#8c8c8c" stroke-width="0.9" stroke-dasharray="1 1"/>
<line x1="30.50" y1="765.70" x2="32.80" y2="765.70" stroke="#555" stroke-width="0.9"/>
<text x="28.80" y="768.08" font-size="6.6" fill="#3d3030" text-anchor="end" letter-spacing="0.4">75</text>
<line x1="32.80" y1="743.40" x2="698.00" y2="743.40" stroke="#8c8c8c" stroke-width="0.9" stroke-dasharray="1 1"/>
<line x1="30.50" y1="743.40" x2="32.80" y2="743.40" stroke="#555" stroke-width="0.9"/>
<text x="28.80" y="745.78" font-size="6.6" fill="#3d3030" text-anchor="end" letter-spacing="0.4">100</text>
<line x1="32.80" y1="721.10" x2="698.00" y2="721.10" stroke="#8c8c8c" stroke-width="0.9" stroke-dasharray="1 1"/>
<line x1="30.50" y1="721.10" x2="32.80" y2="721.10" stroke="#555" stroke-width="0.9"/>
<text x="28.80" y="723.48" font-size="6.6" fill="#3d3030" text-anchor="end" letter-spacing="0.4">125</text>
<line x1="32.80" y1="698.80" x2="698.00" y2="698.80" stroke="#8c8c8c" stroke-width="0.9" stroke-dasharray="1 1"/>
<line x1="30.50" y1="698.80" x2="32.80" y2="698.80" stroke="#555" stroke-width="0.9"/>
<text x="28.80" y="701.18" font-size="6.6" fill="#3d3030" text-anchor="end" letter-spacing="0.4">150</text>
<line x1="29.60" y1="690.10" x2="29.60" y2="845.00" stroke="#505050" stroke-width="1.1"/>
<line x1="28.70" y1="845.00" x2="698.00" y2="845.00" stroke="#555" stroke-width="0.9"/>
<line x1="35.40" y1="842.60" x2="35.40" y2="845.00" stroke="#555" stroke-width="0.8"/>
<text x="35.40" y="850.60" font-size="6.3" fill="#7a6660" text-anchor="middle">A</text>
<line x1="41.73" y1="842.60" x2="41.73" y2="845.00" stroke="#555" stroke-width="0.8"/>
<text x="41.73" y="850.60" font-size="6.3" fill="#7a6660" text-anchor="middle">T</text>
<line x1="48.07" y1="842.60" x2="48.07" y2="845.00" stroke="#555" stroke-width="0.8"/>
<text x="48.07" y="850.60" font-size="6.3" fill="#7a6660" text-anchor="middle">C</text>
<line x1="54.40" y1="842.60" x2="54.40" y2="845.00" stroke="#555" stroke-width="0.8"/>
<text x="54.40" y="850.60" font-size="6.3" fill="#7a6660" text-anchor="middle">G</text>
<line x1="60.73" y1="842.60" x2="60.73" y2="845.00" stroke="#555" stroke-width="0.8"/>
<text x="60.73" y="850.60" font-size="6.3" fill="#7a6660" text-anchor="middle">T</text>
<text x="60.73" y="859.60" font-size="7.0" fill="#5a4a44" text-anchor="middle" letter-spacing="0.3">5</text>
<line x1="67.06" y1="842.60" x2="67.06" y2="845.00" stroke="#555" stroke-width="0.8"/>
<text x="67.06" y="850.60" font-size="6.3" fill="#7a6660" text-anchor="middle">A</text>
<line x1="73.40" y1="842.60" x2="73.40" y2="845.00" stroke="#555" stroke-width="0.8"/>
<text x="73.40" y="850.60" font-size="6.3" fill="#7a6660" text-anchor="middle">T</text>
<line x1="79.73" y1="842.60" x2="79.73" y2="845.00" stroke="#555" stroke-width="0.8"/>
<text x="79.73" y="850.60" font-size="6.3" fill="#7a6660" text-anchor="middle">G</text>
<line x1="86.06" y1="842.60" x2="86.06" y2="845.00" stroke="#555" stroke-width="0.8"/>
<text x="86.06" y="850.60" font-size="6.3" fill="#7a6660" text-anchor="middle">T</text>
<line x1="92.40" y1="842.60" x2="92.40" y2="845.00" stroke="#555" stroke-width="0.8"/>
<text x="92.40" y="850.60" font-size="6.3" fill="#7a6660" text-anchor="middle">C</text>
<text x="92.40" y="859.60" font-size="7.0" fill="#5a4a44" text-anchor="middle" letter-spacing="0.3">10</text>
<line x1="98.73" y1="842.60" x2="98.73" y2="845.00" stroke="#555" stroke-width="0.8"/>
<text x="98.73" y="850.60" font-size="6.3" fill="#7a6660" text-anchor="middle">T</text>
<line x1="105.06" y1="842.60" x2="105.06" y2="845.00" stroke="#555" stroke-width="0.8"/>
<text x="105.06" y="850.60" font-size="6.3" fill="#7a6660" text-anchor="middle">G</text>
<line x1="111.40" y1="842.60" x2="111.40" y2="845.00" stroke="#555" stroke-width="0.8"/>
<text x="111.40" y="850.60" font-size="6.3" fill="#7a6660" text-anchor="middle">T</text>
<line x1="117.73" y1="842.60" x2="117.73" y2="845.00" stroke="#555" stroke-width="0.8"/>
<text x="117.73" y="850.60" font-size="6.3" fill="#7a6660" text-anchor="middle">A</text>
<line x1="124.06" y1="842.60" x2="124.06" y2="845.00" stroke="#555" stroke-width="0.8"/>
<text x="124.06" y="850.60" font-size="6.3" fill="#7a6660" text-anchor="middle">T</text>
<text x="124.06" y="859.60" font-size="7.0" fill="#5a4a44" text-anchor="middle" letter-spacing="0.3">15</text>
<line x1="130.40" y1="842.60" x2="130.40" y2="845.00" stroke="#555" stroke-width="0.8"/>
<text x="130.40" y="850.60" font-size="6.3" fill="#7a6660" text-anchor="middle">C</text>
<line x1="136.73" y1="842.60" x2="136.73" y2="845.00" stroke="#555" stroke-width="0.8"/>
<text x="136.73" y="850.60" font-size="6.3" fill="#7a6660" text-anchor="middle">T</text>
<line x1="143.06" y1="842.60" x2="143.06" y2="845.00" stroke="#555" stroke-width="0.8"/>
<text x="143.06" y="850.60" font-size="6.3" fill="#7a6660" text-anchor="middle">A</text>
<line x1="149.39" y1="842.60" x2="149.39" y2="845.00" stroke="#555" stroke-width="0.8"/>
<text x="149.39" y="850.60" font-size="6.3" fill="#7a6660" text-anchor="middle">G</text>
<line x1="155.73" y1="842.60" x2="155.73" y2="845.00" stroke="#555" stroke-width="0.8"/>
<text x="155.73" y="850.60" font-size="6.3" fill="#7a6660" text-anchor="middle">T</text>
<text x="155.73" y="859.60" font-size="7.0" fill="#5a4a44" text-anchor="middle" letter-spacing="0.3">20</text>
<line x1="162.06" y1="842.60" x2="162.06" y2="845.00" stroke="#555" stroke-width="0.8"/>
<text x="162.06" y="850.60" font-size="6.3" fill="#7a6660" text-anchor="middle">C</text>
<line x1="168.39" y1="842.60" x2="168.39" y2="845.00" stroke="#555" stroke-width="0.8"/>
<text x="168.39" y="850.60" font-size="6.3" fill="#7a6660" text-anchor="middle">T</text>
<line x1="174.73" y1="842.60" x2="174.73" y2="845.00" stroke="#555" stroke-width="0.8"/>
<text x="174.73" y="850.60" font-size="6.3" fill="#7a6660" text-anchor="middle">G</text>
<line x1="181.06" y1="842.60" x2="181.06" y2="845.00" stroke="#555" stroke-width="0.8"/>
<text x="181.06" y="850.60" font-size="6.3" fill="#7a6660" text-anchor="middle">T</text>
<line x1="187.39" y1="842.60" x2="187.39" y2="845.00" stroke="#555" stroke-width="0.8"/>
<text x="187.39" y="850.60" font-size="6.3" fill="#7a6660" text-anchor="middle">T</text>
<text x="187.39" y="859.60" font-size="7.0" fill="#5a4a44" text-anchor="middle" letter-spacing="0.3">25</text>
<line x1="193.73" y1="842.60" x2="193.73" y2="845.00" stroke="#555" stroke-width="0.8"/>
<text x="193.73" y="850.60" font-size="6.3" fill="#7a6660" text-anchor="middle">A</text>
<line x1="200.06" y1="842.60" x2="200.06" y2="845.00" stroke="#555" stroke-width="0.8"/>
<text x="200.06" y="850.60" font-size="6.3" fill="#7a6660" text-anchor="middle">G</text>
<line x1="206.39" y1="842.60" x2="206.39" y2="845.00" stroke="#555" stroke-width="0.8"/>
<text x="206.39" y="850.60" font-size="6.3" fill="#7a6660" text-anchor="middle">T</text>
<line x1="212.72" y1="842.60" x2="212.72" y2="845.00" stroke="#555" stroke-width="0.8"/>
<text x="212.72" y="850.60" font-size="6.3" fill="#7a6660" text-anchor="middle">C</text>
<line x1="219.06" y1="842.60" x2="219.06" y2="845.00" stroke="#555" stroke-width="0.8"/>
<text x="219.06" y="850.60" font-size="6.3" fill="#7a6660" text-anchor="middle">T</text>
<text x="219.06" y="859.60" font-size="7.0" fill="#5a4a44" text-anchor="middle" letter-spacing="0.3">30</text>
<line x1="225.39" y1="842.60" x2="225.39" y2="845.00" stroke="#555" stroke-width="0.8"/>
<text x="225.39" y="850.60" font-size="6.3" fill="#7a6660" text-anchor="middle">G</text>
<line x1="231.72" y1="842.60" x2="231.72" y2="845.00" stroke="#555" stroke-width="0.8"/>
<text x="231.72" y="850.60" font-size="6.3" fill="#7a6660" text-anchor="middle">T</text>
<line x1="238.06" y1="842.60" x2="238.06" y2="845.00" stroke="#555" stroke-width="0.8"/>
<text x="238.06" y="850.60" font-size="6.3" fill="#7a6660" text-anchor="middle">A</text>
<line x1="244.39" y1="842.60" x2="244.39" y2="845.00" stroke="#555" stroke-width="0.8"/>
<text x="244.39" y="850.60" font-size="6.3" fill="#7a6660" text-anchor="middle">T</text>
<line x1="250.72" y1="842.60" x2="250.72" y2="845.00" stroke="#555" stroke-width="0.8"/>
<text x="250.72" y="850.60" font-size="6.3" fill="#7a6660" text-anchor="middle">G</text>
<text x="250.72" y="859.60" font-size="7.0" fill="#5a4a44" text-anchor="middle" letter-spacing="0.3">35</text>
<line x1="257.06" y1="842.60" x2="257.06" y2="845.00" stroke="#555" stroke-width="0.8"/>
<text x="257.06" y="850.60" font-size="6.3" fill="#7a6660" text-anchor="middle">T</text>
<line x1="263.39" y1="842.60" x2="263.39" y2="845.00" stroke="#555" stroke-width="0.8"/>
<text x="263.39" y="850.60" font-size="6.3" fill="#7a6660" text-anchor="middle">C</text>
<line x1="269.72" y1="842.60" x2="269.72" y2="845.00" stroke="#555" stroke-width="0.8"/>
<text x="269.72" y="850.60" font-size="6.3" fill="#7a6660" text-anchor="middle">T</text>
<line x1="276.05" y1="842.60" x2="276.05" y2="845.00" stroke="#555" stroke-width="0.8"/>
<text x="276.05" y="850.60" font-size="6.3" fill="#7a6660" text-anchor="middle">A</text>
<line x1="282.39" y1="842.60" x2="282.39" y2="845.00" stroke="#555" stroke-width="0.8"/>
<text x="282.39" y="850.60" font-size="6.3" fill="#7a6660" text-anchor="middle">G</text>
<text x="282.39" y="859.60" font-size="7.0" fill="#5a4a44" text-anchor="middle" letter-spacing="0.3">40</text>
<line x1="288.72" y1="842.60" x2="288.72" y2="845.00" stroke="#555" stroke-width="0.8"/>
<text x="288.72" y="850.60" font-size="6.3" fill="#7a6660" text-anchor="middle">T</text>
<line x1="295.05" y1="842.60" x2="295.05" y2="845.00" stroke="#555" stroke-width="0.8"/>
<text x="295.05" y="850.60" font-size="6.3" fill="#7a6660" text-anchor="middle">C</text>
<line x1="301.39" y1="842.60" x2="301.39" y2="845.00" stroke="#555" stroke-width="0.8"/>
<text x="301.39" y="850.60" font-size="6.3" fill="#7a6660" text-anchor="middle">A</text>
<line x1="307.72" y1="842.60" x2="307.72" y2="845.00" stroke="#555" stroke-width="0.8"/>
<text x="307.72" y="850.60" font-size="6.3" fill="#7a6660" text-anchor="middle">G</text>
<line x1="314.05" y1="842.60" x2="314.05" y2="845.00" stroke="#555" stroke-width="0.8"/>
<text x="314.05" y="850.60" font-size="6.3" fill="#7a6660" text-anchor="middle">T</text>
<text x="314.05" y="859.60" font-size="7.0" fill="#5a4a44" text-anchor="middle" letter-spacing="0.3">45</text>
<line x1="320.38" y1="842.60" x2="320.38" y2="845.00" stroke="#555" stroke-width="0.8"/>
<text x="320.38" y="850.60" font-size="6.3" fill="#7a6660" text-anchor="middle">C</text>
<line x1="326.72" y1="842.60" x2="326.72" y2="845.00" stroke="#555" stroke-width="0.8"/>
<text x="326.72" y="850.60" font-size="6.3" fill="#7a6660" text-anchor="middle">T</text>
<line x1="333.05" y1="842.60" x2="333.05" y2="845.00" stroke="#555" stroke-width="0.8"/>
<text x="333.05" y="850.60" font-size="6.3" fill="#7a6660" text-anchor="middle">A</text>
<line x1="339.38" y1="842.60" x2="339.38" y2="845.00" stroke="#555" stroke-width="0.8"/>
<text x="339.38" y="850.60" font-size="6.3" fill="#7a6660" text-anchor="middle">G</text>
<line x1="345.72" y1="842.60" x2="345.72" y2="845.00" stroke="#555" stroke-width="0.8"/>
<text x="345.72" y="850.60" font-size="6.3" fill="#7a6660" text-anchor="middle">T</text>
<text x="345.72" y="859.60" font-size="7.0" fill="#5a4a44" text-anchor="middle" letter-spacing="0.3">50</text>
<line x1="352.05" y1="842.60" x2="352.05" y2="845.00" stroke="#555" stroke-width="0.8"/>
<text x="352.05" y="850.60" font-size="6.3" fill="#7a6660" text-anchor="middle">C</text>
<line x1="358.38" y1="842.60" x2="358.38" y2="845.00" stroke="#555" stroke-width="0.8"/>
<text x="358.38" y="850.60" font-size="6.3" fill="#7a6660" text-anchor="middle">G</text>
<line x1="364.72" y1="842.60" x2="364.72" y2="845.00" stroke="#555" stroke-width="0.8"/>
<text x="364.72" y="850.60" font-size="6.3" fill="#7a6660" text-anchor="middle">G</text>
<line x1="371.05" y1="842.60" x2="371.05" y2="845.00" stroke="#555" stroke-width="0.8"/>
<text x="371.05" y="850.60" font-size="6.3" fill="#7a6660" text-anchor="middle">T</text>
<line x1="377.38" y1="842.60" x2="377.38" y2="845.00" stroke="#555" stroke-width="0.8"/>
<text x="377.38" y="850.60" font-size="6.3" fill="#7a6660" text-anchor="middle">T</text>
<text x="377.38" y="859.60" font-size="7.0" fill="#5a4a44" text-anchor="middle" letter-spacing="0.3">55</text>
<line x1="383.71" y1="842.60" x2="383.71" y2="845.00" stroke="#555" stroke-width="0.8"/>
<text x="383.71" y="850.60" font-size="6.3" fill="#7a6660" text-anchor="middle">C</text>
<line x1="390.05" y1="842.60" x2="390.05" y2="845.00" stroke="#555" stroke-width="0.8"/>
<text x="390.05" y="850.60" font-size="6.3" fill="#7a6660" text-anchor="middle">T</text>
<line x1="396.38" y1="842.60" x2="396.38" y2="845.00" stroke="#555" stroke-width="0.8"/>
<text x="396.38" y="850.60" font-size="6.3" fill="#7a6660" text-anchor="middle">G</text>
<line x1="402.71" y1="842.60" x2="402.71" y2="845.00" stroke="#555" stroke-width="0.8"/>
<text x="402.71" y="850.60" font-size="6.3" fill="#7a6660" text-anchor="middle">T</text>
<line x1="409.05" y1="842.60" x2="409.05" y2="845.00" stroke="#555" stroke-width="0.8"/>
<text x="409.05" y="850.60" font-size="6.3" fill="#7a6660" text-anchor="middle">G</text>
<text x="409.05" y="859.60" font-size="7.0" fill="#5a4a44" text-anchor="middle" letter-spacing="0.3">60</text>
<line x1="415.38" y1="842.60" x2="415.38" y2="845.00" stroke="#555" stroke-width="0.8"/>
<text x="415.38" y="850.60" font-size="6.3" fill="#7a6660" text-anchor="middle">A</text>
<line x1="421.71" y1="842.60" x2="421.71" y2="845.00" stroke="#555" stroke-width="0.8"/>
<text x="421.71" y="850.60" font-size="6.3" fill="#7a6660" text-anchor="middle">T</text>
<line x1="428.05" y1="842.60" x2="428.05" y2="845.00" stroke="#555" stroke-width="0.8"/>
<text x="428.05" y="850.60" font-size="6.3" fill="#7a6660" text-anchor="middle">G</text>
<line x1="434.38" y1="842.60" x2="434.38" y2="845.00" stroke="#555" stroke-width="0.8"/>
<text x="434.38" y="850.60" font-size="6.3" fill="#7a6660" text-anchor="middle">T</text>
<line x1="440.71" y1="842.60" x2="440.71" y2="845.00" stroke="#555" stroke-width="0.8"/>
<text x="440.71" y="850.60" font-size="6.3" fill="#7a6660" text-anchor="middle">C</text>
<text x="440.71" y="859.60" font-size="7.0" fill="#5a4a44" text-anchor="middle" letter-spacing="0.3">65</text>
<line x1="447.05" y1="842.60" x2="447.05" y2="845.00" stroke="#555" stroke-width="0.8"/>
<text x="447.05" y="850.60" font-size="6.3" fill="#7a6660" text-anchor="middle">G</text>
<line x1="453.38" y1="842.60" x2="453.38" y2="845.00" stroke="#555" stroke-width="0.8"/>
<text x="453.38" y="850.60" font-size="6.3" fill="#7a6660" text-anchor="middle">T</text>
<line x1="459.71" y1="842.60" x2="459.71" y2="845.00" stroke="#555" stroke-width="0.8"/>
<text x="459.71" y="850.60" font-size="6.3" fill="#7a6660" text-anchor="middle">A</text>
<line x1="466.04" y1="842.60" x2="466.04" y2="845.00" stroke="#555" stroke-width="0.8"/>
<text x="466.04" y="850.60" font-size="6.3" fill="#7a6660" text-anchor="middle">T</text>
<line x1="472.38" y1="842.60" x2="472.38" y2="845.00" stroke="#555" stroke-width="0.8"/>
<text x="472.38" y="850.60" font-size="6.3" fill="#7a6660" text-anchor="middle">G</text>
<text x="472.38" y="859.60" font-size="7.0" fill="#5a4a44" text-anchor="middle" letter-spacing="0.3">70</text>
<line x1="478.71" y1="842.60" x2="478.71" y2="845.00" stroke="#555" stroke-width="0.8"/>
<text x="478.71" y="850.60" font-size="6.3" fill="#7a6660" text-anchor="middle">T</text>
<line x1="485.04" y1="842.60" x2="485.04" y2="845.00" stroke="#555" stroke-width="0.8"/>
<text x="485.04" y="850.60" font-size="6.3" fill="#7a6660" text-anchor="middle">C</text>
<line x1="491.38" y1="842.60" x2="491.38" y2="845.00" stroke="#555" stroke-width="0.8"/>
<text x="491.38" y="850.60" font-size="6.3" fill="#7a6660" text-anchor="middle">G</text>
<line x1="497.71" y1="842.60" x2="497.71" y2="845.00" stroke="#555" stroke-width="0.8"/>
<text x="497.71" y="850.60" font-size="6.3" fill="#7a6660" text-anchor="middle">A</text>
<line x1="504.04" y1="842.60" x2="504.04" y2="845.00" stroke="#555" stroke-width="0.8"/>
<text x="504.04" y="850.60" font-size="6.3" fill="#7a6660" text-anchor="middle">T</text>
<text x="504.04" y="859.60" font-size="7.0" fill="#5a4a44" text-anchor="middle" letter-spacing="0.3">75</text>
<line x1="510.38" y1="842.60" x2="510.38" y2="845.00" stroke="#555" stroke-width="0.8"/>
<text x="510.38" y="850.60" font-size="6.3" fill="#7a6660" text-anchor="middle">G</text>
<line x1="516.71" y1="842.60" x2="516.71" y2="845.00" stroke="#555" stroke-width="0.8"/>
<text x="516.71" y="850.60" font-size="6.3" fill="#7a6660" text-anchor="middle">T</text>
<line x1="523.04" y1="842.60" x2="523.04" y2="845.00" stroke="#555" stroke-width="0.8"/>
<text x="523.04" y="850.60" font-size="6.3" fill="#7a6660" text-anchor="middle">C</text>
<line x1="529.37" y1="842.60" x2="529.37" y2="845.00" stroke="#555" stroke-width="0.8"/>
<text x="529.37" y="850.60" font-size="6.3" fill="#7a6660" text-anchor="middle">A</text>
<line x1="535.71" y1="842.60" x2="535.71" y2="845.00" stroke="#555" stroke-width="0.8"/>
<text x="535.71" y="850.60" font-size="6.3" fill="#7a6660" text-anchor="middle">G</text>
<text x="535.71" y="859.60" font-size="7.0" fill="#5a4a44" text-anchor="middle" letter-spacing="0.3">80</text>
<line x1="542.04" y1="842.60" x2="542.04" y2="845.00" stroke="#555" stroke-width="0.8"/>
<text x="542.04" y="850.60" font-size="6.3" fill="#7a6660" text-anchor="middle">T</text>
<line x1="548.37" y1="842.60" x2="548.37" y2="845.00" stroke="#555" stroke-width="0.8"/>
<text x="548.37" y="850.60" font-size="6.3" fill="#7a6660" text-anchor="middle">C</text>
<line x1="554.71" y1="842.60" x2="554.71" y2="845.00" stroke="#555" stroke-width="0.8"/>
<text x="554.71" y="850.60" font-size="6.3" fill="#7a6660" text-anchor="middle">A</text>
<line x1="561.04" y1="842.60" x2="561.04" y2="845.00" stroke="#555" stroke-width="0.8"/>
<text x="561.04" y="850.60" font-size="6.3" fill="#7a6660" text-anchor="middle">G</text>
<line x1="567.37" y1="842.60" x2="567.37" y2="845.00" stroke="#555" stroke-width="0.8"/>
<text x="567.37" y="850.60" font-size="6.3" fill="#7a6660" text-anchor="middle">T</text>
<text x="567.37" y="859.60" font-size="7.0" fill="#5a4a44" text-anchor="middle" letter-spacing="0.3">85</text>
<line x1="573.71" y1="842.60" x2="573.71" y2="845.00" stroke="#555" stroke-width="0.8"/>
<text x="573.71" y="850.60" font-size="6.3" fill="#7a6660" text-anchor="middle">C</text>
<line x1="580.04" y1="842.60" x2="580.04" y2="845.00" stroke="#555" stroke-width="0.8"/>
<text x="580.04" y="850.60" font-size="6.3" fill="#7a6660" text-anchor="middle">A</text>
<line x1="586.37" y1="842.60" x2="586.37" y2="845.00" stroke="#555" stroke-width="0.8"/>
<text x="586.37" y="850.60" font-size="6.3" fill="#7a6660" text-anchor="middle">G</text>
<line x1="592.70" y1="842.60" x2="592.70" y2="845.00" stroke="#555" stroke-width="0.8"/>
<text x="592.70" y="850.60" font-size="6.3" fill="#7a6660" text-anchor="middle">T</text>
<line x1="599.04" y1="842.60" x2="599.04" y2="845.00" stroke="#555" stroke-width="0.8"/>
<text x="599.04" y="850.60" font-size="6.3" fill="#7a6660" text-anchor="middle">C</text>
<text x="599.04" y="859.60" font-size="7.0" fill="#5a4a44" text-anchor="middle" letter-spacing="0.3">90</text>
<line x1="605.37" y1="842.60" x2="605.37" y2="845.00" stroke="#555" stroke-width="0.8"/>
<text x="605.37" y="850.60" font-size="6.3" fill="#7a6660" text-anchor="middle">T</text>
<line x1="611.70" y1="842.60" x2="611.70" y2="845.00" stroke="#555" stroke-width="0.8"/>
<text x="611.70" y="850.60" font-size="6.3" fill="#7a6660" text-anchor="middle">A</text>
<line x1="618.04" y1="842.60" x2="618.04" y2="845.00" stroke="#555" stroke-width="0.8"/>
<text x="618.04" y="850.60" font-size="6.3" fill="#7a6660" text-anchor="middle">G</text>
<line x1="624.37" y1="842.60" x2="624.37" y2="845.00" stroke="#555" stroke-width="0.8"/>
<text x="624.37" y="850.60" font-size="6.3" fill="#7a6660" text-anchor="middle">T</text>
<line x1="630.70" y1="842.60" x2="630.70" y2="845.00" stroke="#555" stroke-width="0.8"/>
<text x="630.70" y="850.60" font-size="6.3" fill="#7a6660" text-anchor="middle">C</text>
<text x="630.70" y="859.60" font-size="7.0" fill="#5a4a44" text-anchor="middle" letter-spacing="0.3">95</text>
<line x1="637.03" y1="842.60" x2="637.03" y2="845.00" stroke="#555" stroke-width="0.8"/>
<text x="637.03" y="850.60" font-size="6.3" fill="#7a6660" text-anchor="middle">T</text>
<line x1="643.37" y1="842.60" x2="643.37" y2="845.00" stroke="#555" stroke-width="0.8"/>
<text x="643.37" y="850.60" font-size="6.3" fill="#7a6660" text-anchor="middle">G</text>
<line x1="649.70" y1="842.60" x2="649.70" y2="845.00" stroke="#555" stroke-width="0.8"/>
<text x="649.70" y="850.60" font-size="6.3" fill="#7a6660" text-anchor="middle">T</text>
<line x1="656.03" y1="842.60" x2="656.03" y2="845.00" stroke="#555" stroke-width="0.8"/>
<text x="656.03" y="850.60" font-size="6.3" fill="#7a6660" text-anchor="middle">A</text>
<line x1="662.37" y1="842.60" x2="662.37" y2="845.00" stroke="#555" stroke-width="0.8"/>
<text x="662.37" y="850.60" font-size="6.3" fill="#7a6660" text-anchor="middle">T</text>
<text x="662.37" y="859.60" font-size="7.0" fill="#5a4a44" text-anchor="middle" letter-spacing="0.3">100</text>
<line x1="668.70" y1="842.60" x2="668.70" y2="845.00" stroke="#555" stroke-width="0.8"/>
<text x="668.70" y="850.60" font-size="6.3" fill="#7a6660" text-anchor="middle">G</text>
<line x1="675.03" y1="842.60" x2="675.03" y2="845.00" stroke="#555" stroke-width="0.8"/>
<text x="675.03" y="850.60" font-size="6.3" fill="#7a6660" text-anchor="middle">A</text>
<line x1="681.37" y1="842.60" x2="681.37" y2="845.00" stroke="#555" stroke-width="0.8"/>
<text x="681.37" y="850.60" font-size="6.3" fill="#7a6660" text-anchor="middle">T</text>
<line x1="687.70" y1="842.60" x2="687.70" y2="845.00" stroke="#555" stroke-width="0.8"/>
<text x="687.70" y="850.60" font-size="6.3" fill="#7a6660" text-anchor="middle">C</text>
<line x1="694.03" y1="842.60" x2="694.03" y2="845.00" stroke="#555" stroke-width="0.8"/>
<text x="694.03" y="850.60" font-size="6.3" fill="#7a6660" text-anchor="middle">G</text>
<text x="694.03" y="859.60" font-size="7.0" fill="#5a4a44" text-anchor="middle" letter-spacing="0.3">105</text>
<polyline points="30.1,832.6 35.0,832.6 35.5,828.8 35.8,825.0 36.4,828.1 36.9,830.0 37.3,831.6 37.8,832.4 41.4,832.7 41.8,819.6 42.1,803.2 42.2,805.7 42.7,814.5 43.1,822.1 43.6,828.1 44.0,831.8 45.0,832.2 47.6,832.7 48.1,832.3 48.5,831.7 49.9,832.6 50.4,832.7 54.0,832.8 54.4,812.3 54.8,771.7 54.9,774.0 55.3,792.7 55.8,808.8 56.2,821.8 56.6,830.4 57.1,831.3 57.5,831.8 58.5,832.3 60.2,832.7 60.7,804.3 61.1,731.2 61.1,732.5 61.6,764.0 62.0,791.0 62.5,813.1 63.0,828.2 63.4,830.3 63.9,831.1 64.3,831.6 65.2,832.3 66.5,832.7 67.0,823.3 67.5,790.7 67.9,803.4 68.3,814.8 68.8,824.1 69.2,830.7 69.7,831.8 70.6,832.4 72.8,832.9 73.3,832.5 73.8,830.2 74.7,831.8 75.1,832.4 75.5,832.8 79.2,833.1 79.6,825.8 80.1,769.7 80.5,786.1 81.0,803.5 81.4,818.0 81.8,828.6 82.3,831.4 82.8,831.9 83.7,832.5 85.5,833.0 85.9,829.9 86.5,781.9 86.8,794.0 87.2,808.3 87.7,820.2 88.2,829.0 88.6,831.7 89.5,832.4 90.8,832.9 97.2,833.2 98.5,833.2 99.1,831.7 100.3,832.8 100.8,833.1 104.8,833.3 105.2,800.5 105.5,782.4 105.7,791.0 106.2,805.7 106.6,818.1 107.0,827.7 107.5,831.8 108.0,832.2 108.8,832.8 111.1,833.3 111.5,832.0 111.8,831.2 112.5,832.1 113.3,833.1 113.8,833.3 117.4,833.4 117.8,810.1 118.1,789.8 118.3,795.2 118.8,808.0 119.2,819.0 119.7,827.6 120.1,832.1 121.0,832.7 122.8,833.3 123.7,833.4 124.2,812.2 124.5,789.2 124.6,793.7 125.0,806.9 125.5,818.1 126.0,827.0 126.4,832.0 127.3,832.8 128.7,833.3 134.9,833.6 136.3,833.6 136.8,833.2 137.1,832.6 138.6,833.4 139.0,833.6 142.6,833.7 143.1,831.6 143.5,827.2 143.9,829.4 144.4,831.1 144.8,832.5 145.3,833.4 148.9,833.7 149.3,821.3 149.8,786.0 150.2,801.1 150.7,813.8 151.2,824.2 151.6,831.4 152.1,832.5 152.9,833.1 155.2,833.7 155.7,822.9 156.1,781.2 156.6,796.7 157.0,810.9 157.4,822.5 157.9,830.8 158.3,832.4 159.2,833.1 161.1,833.6 167.3,833.9 167.8,833.9 168.2,833.7 168.8,832.3 169.6,833.2 170.5,833.8 174.1,833.9 174.6,833.0 175.1,810.4 175.4,815.8 175.9,822.4 176.3,827.9 176.8,832.0 177.2,833.3 179.5,833.9 180.8,834.0 181.3,743.8 181.5,711.3 181.8,736.6 182.2,771.3 182.7,800.5 183.1,822.5 183.6,830.5 184.0,831.5 184.4,832.2 184.9,832.8 185.8,833.4 188.1,834.0 193.4,834.1 193.9,821.0 194.1,813.1 194.3,816.5 194.8,822.6 195.2,827.7 195.7,831.7 196.2,833.5 199.8,834.1 200.2,803.0 200.5,779.4 200.7,787.0 201.1,803.0 201.6,816.6 202.0,827.2 202.4,832.5 202.9,833.0 203.8,833.6 206.1,834.1 206.5,798.2 206.8,764.4 206.9,772.4 207.4,793.1 207.8,810.6 208.3,824.5 208.8,832.0 209.2,832.7 209.7,833.1 210.6,833.7 216.8,834.3 218.7,834.4 219.1,834.0 219.5,833.5 220.9,834.2 224.9,834.4 225.4,819.5 225.8,791.7 225.8,793.5 226.3,806.6 226.8,817.8 227.2,826.9 227.7,832.8 228.1,833.4 229.0,833.9 231.2,834.4 231.7,822.0 232.1,792.5 232.6,806.3 233.1,817.4 233.5,826.5 233.9,832.6 234.4,833.4 235.3,834.0 237.6,834.4 238.0,824.0 238.5,790.9 238.9,804.3 239.3,816.0 239.8,825.6 240.2,832.3 240.7,833.4 241.6,834.0 243.8,834.5 244.3,833.8 244.8,830.6 245.2,831.8 245.7,832.9 246.1,833.7 246.6,834.4 250.2,834.6 250.6,828.9 251.1,790.4 251.5,802.1 251.9,814.3 252.4,824.3 252.8,831.7 253.3,833.5 254.2,834.1 256.4,834.6 256.9,831.3 257.5,790.4 257.8,801.2 258.2,813.5 258.7,823.7 259.1,831.3 259.6,833.5 260.5,834.1 266.8,834.8 273.1,834.9 275.8,834.9 276.2,818.1 276.5,809.4 276.7,813.9 277.1,821.2 277.6,827.4 278.1,832.2 278.5,834.2 279.9,834.7 282.1,834.9 282.6,806.8 282.8,788.4 283.0,795.5 283.4,809.1 283.9,820.5 284.4,829.4 284.8,833.5 285.7,834.3 287.5,834.8 288.4,834.9 288.9,812.8 289.1,794.6 289.3,799.8 289.8,811.7 290.2,821.8 290.6,829.7 291.1,833.8 292.0,834.4 294.2,834.9 300.6,835.1 301.0,835.1 301.4,825.9 301.8,814.0 301.9,815.8 302.4,822.1 302.8,827.5 303.2,831.9 303.7,834.5 305.5,835.0 307.3,835.1 307.8,818.1 308.1,790.9 308.2,793.6 308.6,807.0 309.1,818.5 309.6,827.7 310.0,833.6 310.4,834.1 311.4,834.7 313.6,835.2 314.1,817.6 314.5,781.9 314.5,783.8 314.9,800.2 315.4,814.2 315.9,825.5 316.3,833.1 316.8,833.9 317.6,834.6 319.4,835.1 325.8,835.4 326.2,835.4 326.6,835.0 327.1,833.5 328.0,834.6 328.4,835.0 328.9,835.3 332.5,835.4 332.9,831.8 333.5,813.6 333.9,819.7 334.3,825.6 334.8,830.5 335.2,834.1 335.6,834.9 338.8,835.4 339.2,830.2 339.8,788.0 340.1,800.2 340.6,813.3 341.1,824.2 341.5,832.1 341.9,834.2 342.9,834.9 345.1,835.4 345.6,833.3 346.1,795.3 346.4,804.7 346.9,816.0 347.4,825.3 347.8,832.3 348.2,834.4 349.1,835.0 355.4,835.6 358.1,835.7 358.6,794.5 358.8,776.4 359.1,787.7 359.5,804.6 359.9,818.8 360.4,829.7 360.9,833.9 361.3,834.4 362.2,835.1 368.5,835.8 370.8,835.8 371.2,790.7 371.4,758.7 371.6,769.9 372.1,792.4 372.6,811.4 373.0,826.3 373.4,833.4 373.9,834.1 374.4,834.6 375.2,835.2 381.6,835.9 387.9,835.9 389.6,836.0 390.1,835.7 390.4,835.3 391.9,835.9 395.9,836.0 396.4,825.9 396.8,808.2 396.9,809.7 397.3,818.1 397.8,825.4 398.2,831.2 398.6,835.0 399.1,835.4 400.9,835.9 402.2,836.0 402.7,831.2 403.1,820.4 403.6,825.6 404.1,829.8 404.5,833.2 404.9,835.4 405.4,835.7 408.6,836.1 409.0,830.1 409.4,812.6 409.9,820.0 410.4,826.3 410.8,831.4 411.2,835.0 411.7,835.6 414.9,836.1 415.3,828.4 415.8,797.3 416.2,808.6 416.6,819.2 417.1,827.8 417.6,834.0 418.0,835.2 418.9,835.7 421.1,836.2 421.6,834.9 422.1,827.0 422.5,829.5 422.9,832.0 423.4,834.1 423.9,835.7 424.3,836.0 427.4,836.3 427.9,832.6 428.4,795.3 428.8,805.5 429.2,816.9 429.7,826.3 430.1,833.3 430.6,835.2 431.5,835.8 433.8,836.3 434.2,835.4 434.8,811.9 435.1,817.4 435.6,824.3 436.0,830.0 436.4,834.3 436.9,835.7 438.7,836.2 445.0,836.5 446.8,836.5 447.2,825.1 447.4,819.7 447.7,822.7 448.1,827.6 448.6,831.6 449.1,834.7 449.5,836.0 453.1,836.5 453.6,827.6 453.8,822.2 454.0,824.5 454.4,828.6 454.9,832.2 455.4,834.9 455.8,836.1 459.4,836.6 459.9,813.5 460.1,795.8 460.3,801.3 460.8,813.3 461.2,823.4 461.6,831.4 462.1,835.4 463.0,836.0 465.2,836.5 465.7,836.6 466.1,834.6 466.4,832.6 467.1,834.3 467.5,835.3 467.9,836.1 468.4,836.6 472.0,836.7 472.4,810.3 472.8,778.7 472.9,783.9 473.4,801.3 473.8,816.1 474.2,827.9 474.7,834.8 475.1,835.4 476.1,836.1 477.9,836.6 478.3,836.7 478.8,824.0 479.1,805.0 479.2,807.1 479.6,816.7 480.1,824.9 480.6,831.5 481.0,835.7 481.9,836.3 488.2,836.9 490.9,836.9 491.4,826.5 491.8,800.9 492.2,812.7 492.7,822.2 493.1,830.0 493.6,835.3 494.1,836.0 494.9,836.5 497.2,836.9 497.6,828.0 498.1,799.0 498.6,810.6 499.0,820.8 499.4,829.1 499.9,835.0 500.4,836.0 501.2,836.5 503.5,836.9 503.9,835.3 504.4,827.5 504.9,830.2 505.3,832.8 505.8,834.9 506.2,836.5 506.6,836.8 509.8,837.1 510.2,831.5 510.8,792.9 511.1,804.5 511.6,816.7 512.0,826.7 512.5,834.1 513.0,835.9 513.9,836.5 516.1,837.0 516.5,835.2 517.1,810.7 517.5,817.1 517.9,824.4 518.4,830.6 518.8,835.1 519.2,836.4 520.6,836.9 526.9,837.2 529.1,837.3 529.6,824.8 529.8,819.8 530.0,823.2 530.5,828.2 531.0,832.4 531.4,835.6 531.9,836.8 535.5,837.3 535.9,813.7 536.1,801.2 536.4,807.5 536.8,817.9 537.2,826.6 537.7,833.4 538.1,836.3 539.0,836.8 541.8,837.3 542.2,821.1 542.4,810.3 542.6,814.4 543.1,822.3 543.5,828.9 544.0,834.1 544.5,836.6 545.8,837.1 552.1,837.5 554.4,837.5 554.8,830.2 555.1,822.5 555.2,824.1 555.7,828.5 556.1,832.3 556.6,835.4 557.0,837.0 560.6,837.5 561.1,821.3 561.4,800.1 561.5,803.2 562.0,814.4 562.5,824.0 562.9,831.7 563.4,836.3 564.2,837.0 567.0,837.5 567.4,824.9 567.8,804.2 567.9,806.1 568.3,816.3 568.8,825.0 569.2,831.9 569.6,836.4 570.1,836.8 571.5,837.4 577.8,837.7 579.5,837.7 580.0,834.2 580.4,824.7 580.9,828.8 581.4,832.3 581.8,835.2 582.2,837.1 582.7,837.4 585.9,837.8 586.3,829.2 586.8,798.0 587.2,809.8 587.6,820.6 588.1,829.4 588.5,835.6 589.0,836.8 589.9,837.3 592.1,837.8 592.6,832.4 593.1,804.0 593.5,813.3 594.0,822.6 594.4,830.2 594.9,835.7 595.3,837.0 596.2,837.4 602.5,837.9 604.8,838.0 605.2,837.8 605.8,834.4 606.5,836.2 607.0,837.1 607.5,837.7 607.9,837.9 611.5,838.0 612.1,821.7 612.4,825.2 612.9,829.8 613.3,833.6 613.8,836.6 614.2,837.6 617.8,838.1 618.2,816.4 618.4,806.7 618.7,812.6 619.1,821.6 619.6,829.1 620.0,834.9 620.5,837.2 621.4,837.7 624.1,838.1 624.5,814.0 624.8,800.1 625.0,806.4 625.5,817.4 625.9,826.7 626.4,833.9 626.8,837.0 627.7,837.6 634.0,838.2 636.7,838.3 637.1,836.2 637.4,834.4 638.0,836.0 638.5,837.0 639.0,837.8 639.4,838.2 643.0,838.3 643.5,830.3 643.8,821.2 643.9,822.8 644.4,828.0 644.8,832.3 645.2,835.8 645.7,837.8 649.3,838.4 649.8,827.6 650.1,812.4 650.2,814.3 650.6,822.1 651.1,828.8 651.5,834.2 652.0,837.5 653.4,838.1 655.6,838.4 656.0,827.8 656.4,808.9 656.5,810.3 657.0,819.3 657.4,827.0 657.9,833.3 658.3,837.4 658.8,837.7 660.5,838.3 661.9,838.4 662.4,834.0 662.8,823.9 663.2,828.7 663.7,832.6 664.1,835.8 664.6,837.9 665.0,838.2 668.2,838.5 668.6,832.1 669.1,813.0 669.5,820.9 670.0,827.8 670.5,833.4 670.9,837.3 671.4,837.9 673.6,838.5 674.5,838.6 675.0,831.1 675.4,800.1 675.9,811.3 676.3,821.7 676.8,830.3 677.2,836.4 677.6,837.6 678.5,838.1 680.8,838.6 681.2,834.6 681.8,809.7 682.1,817.5 682.6,825.4 683.0,832.0 683.5,836.8 684.0,837.9 685.3,838.4 691.6,838.8 693.4,838.8 693.9,837.9 694.4,808.9 694.8,815.6 695.2,824.0 695.6,831.0 696.1,836.3 696.5,838.0 697.5,838.4" fill="none" stroke="#26336e" stroke-width="0.9" stroke-linejoin="round"/>
<rect x="38.57" y="873.00" width="12.67" height="161.00" fill="#dfe2e6"/>
<rect x="38.47" y="863.25" width="16.00" height="6.80" rx="1.3" fill="#eef03c" stroke="#c9c820" stroke-width="0.5"/>
<text x="46.47" y="868.74" font-size="5.8" font-weight="bold" fill="#1a1a1a" text-anchor="middle" letter-spacing="0.4">18%</text>
<rect x="82.90" y="873.00" width="12.67" height="161.00" fill="#dfe2e6"/>
<rect x="82.80" y="863.25" width="16.00" height="6.80" rx="1.3" fill="#eef03c" stroke="#c9c820" stroke-width="0.5"/>
<text x="90.80" y="868.74" font-size="5.8" font-weight="bold" fill="#1a1a1a" text-anchor="middle" letter-spacing="0.4">15%</text>
<rect x="120.90" y="873.00" width="12.67" height="161.00" fill="#dfe2e6"/>
<rect x="120.80" y="863.25" width="16.00" height="6.80" rx="1.3" fill="#eef03c" stroke="#c9c820" stroke-width="0.5"/>
<text x="128.80" y="868.74" font-size="5.8" font-weight="bold" fill="#1a1a1a" text-anchor="middle" letter-spacing="0.4">25%</text>
<rect x="152.56" y="873.00" width="12.67" height="161.00" fill="#dfe2e6"/>
<rect x="152.46" y="863.25" width="16.00" height="6.80" rx="1.3" fill="#eef03c" stroke="#c9c820" stroke-width="0.5"/>
<text x="160.46" y="868.74" font-size="5.8" font-weight="bold" fill="#1a1a1a" text-anchor="middle" letter-spacing="0.4">22%</text>
<rect x="203.22" y="873.00" width="12.67" height="161.00" fill="#dfe2e6"/>
<rect x="203.12" y="863.25" width="16.00" height="6.80" rx="1.3" fill="#eef03c" stroke="#c9c820" stroke-width="0.5"/>
<text x="211.12" y="868.74" font-size="5.8" font-weight="bold" fill="#1a1a1a" text-anchor="middle" letter-spacing="0.4">26%</text>
<rect x="253.89" y="873.00" width="12.67" height="161.00" fill="#dfe2e6"/>
<rect x="253.79" y="863.25" width="16.00" height="6.80" rx="1.3" fill="#eef03c" stroke="#c9c820" stroke-width="0.5"/>
<text x="261.79" y="868.74" font-size="5.8" font-weight="bold" fill="#1a1a1a" text-anchor="middle" letter-spacing="0.4">21%</text>
<rect x="285.55" y="873.00" width="12.67" height="161.00" fill="#dfe2e6"/>
<rect x="285.45" y="863.25" width="11.30" height="6.80" rx="1.3" fill="#e0283a" stroke="#b81e2c" stroke-width="0.5"/>
<text x="291.10" y="868.74" font-size="5.8" font-weight="bold" fill="#1a1a1a" text-anchor="middle" letter-spacing="0.4">7%</text>
<rect x="310.89" y="873.00" width="12.67" height="161.00" fill="#dfe2e6"/>
<rect x="310.79" y="863.25" width="16.00" height="6.80" rx="1.3" fill="#eef03c" stroke="#c9c820" stroke-width="0.5"/>
<text x="318.79" y="868.74" font-size="5.8" font-weight="bold" fill="#1a1a1a" text-anchor="middle" letter-spacing="0.4">15%</text>
<rect x="342.55" y="873.00" width="12.67" height="161.00" fill="#dfe2e6"/>
<rect x="342.45" y="863.25" width="11.30" height="6.80" rx="1.3" fill="#eef03c" stroke="#c9c820" stroke-width="0.5"/>
<text x="348.10" y="868.74" font-size="5.8" font-weight="bold" fill="#1a1a1a" text-anchor="middle" letter-spacing="0.4">9%</text>
<rect x="367.88" y="873.00" width="19.00" height="161.00" fill="#dfe2e6"/>
<rect x="367.78" y="863.25" width="16.00" height="6.80" rx="1.3" fill="#e0283a" stroke="#b81e2c" stroke-width="0.5"/>
<text x="375.78" y="868.74" font-size="5.8" font-weight="bold" fill="#1a1a1a" text-anchor="middle" letter-spacing="0.4">28%</text>
<rect x="431.21" y="873.00" width="12.67" height="161.00" fill="#dfe2e6"/>
<rect x="431.11" y="863.25" width="16.00" height="6.80" rx="1.3" fill="#eef03c" stroke="#c9c820" stroke-width="0.5"/>
<text x="439.11" y="868.74" font-size="5.8" font-weight="bold" fill="#1a1a1a" text-anchor="middle" letter-spacing="0.4">11%</text>
<rect x="475.54" y="873.00" width="12.67" height="161.00" fill="#dfe2e6"/>
<rect x="475.44" y="863.25" width="11.30" height="6.80" rx="1.3" fill="#eef03c" stroke="#c9c820" stroke-width="0.5"/>
<text x="481.09" y="868.74" font-size="5.8" font-weight="bold" fill="#1a1a1a" text-anchor="middle" letter-spacing="0.4">9%</text>
<rect x="513.54" y="873.00" width="12.67" height="161.00" fill="#dfe2e6"/>
<rect x="513.44" y="863.25" width="16.00" height="6.80" rx="1.3" fill="#eef03c" stroke="#c9c820" stroke-width="0.5"/>
<text x="521.44" y="868.74" font-size="5.8" font-weight="bold" fill="#1a1a1a" text-anchor="middle" letter-spacing="0.4">11%</text>
<rect x="538.87" y="873.00" width="12.67" height="161.00" fill="#dfe2e6"/>
<rect x="538.77" y="863.25" width="11.30" height="6.80" rx="1.3" fill="#eef03c" stroke="#c9c820" stroke-width="0.5"/>
<text x="544.42" y="868.74" font-size="5.8" font-weight="bold" fill="#1a1a1a" text-anchor="middle" letter-spacing="0.4">9%</text>
<rect x="564.21" y="873.00" width="12.67" height="161.00" fill="#dfe2e6"/>
<rect x="564.11" y="863.25" width="11.30" height="6.80" rx="1.3" fill="#eef03c" stroke="#c9c820" stroke-width="0.5"/>
<text x="569.76" y="868.74" font-size="5.8" font-weight="bold" fill="#1a1a1a" text-anchor="middle" letter-spacing="0.4">9%</text>
<rect x="589.54" y="873.00" width="12.67" height="161.00" fill="#dfe2e6"/>
<rect x="589.44" y="863.25" width="16.00" height="6.80" rx="1.3" fill="#e0283a" stroke="#b81e2c" stroke-width="0.5"/>
<text x="597.44" y="868.74" font-size="5.8" font-weight="bold" fill="#1a1a1a" text-anchor="middle" letter-spacing="0.4">17%</text>
<rect x="621.20" y="873.00" width="12.67" height="161.00" fill="#dfe2e6"/>
<rect x="621.10" y="863.25" width="16.00" height="6.80" rx="1.3" fill="#eef03c" stroke="#c9c820" stroke-width="0.5"/>
<text x="629.10" y="868.74" font-size="5.8" font-weight="bold" fill="#1a1a1a" text-anchor="middle" letter-spacing="0.4">16%</text>
<rect x="678.20" y="873.00" width="12.67" height="161.00" fill="#dfe2e6"/>
<rect x="678.10" y="863.25" width="16.00" height="6.80" rx="1.3" fill="#eef03c" stroke="#c9c820" stroke-width="0.5"/>
<text x="686.10" y="868.74" font-size="5.8" font-weight="bold" fill="#1a1a1a" text-anchor="middle" letter-spacing="0.4">10%</text>
<line x1="32.80" y1="1019.30" x2="698.00" y2="1019.30" stroke="#8c8c8c" stroke-width="0.9" stroke-dasharray="1 1"/>
<line x1="30.50" y1="1019.30" x2="32.80" y2="1019.30" stroke="#555" stroke-width="0.9"/>
<text x="28.80" y="1021.68" font-size="6.6" fill="#3d3030" text-anchor="end" letter-spacing="0.4">0</text>
<line x1="32.80" y1="992.30" x2="698.00" y2="992.30" stroke="#8c8c8c" stroke-width="0.9" stroke-dasharray="1 1"/>
<line x1="30.50" y1="992.30" x2="32.80" y2="992.30" stroke="#555" stroke-width="0.9"/>
<text x="28.80" y="994.68" font-size="6.6" fill="#3d3030" text-anchor="end" letter-spacing="0.4">25</text>
<line x1="32.80" y1="965.30" x2="698.00" y2="965.30" stroke="#8c8c8c" stroke-width="0.9" stroke-dasharray="1 1"/>
<line x1="30.50" y1="965.30" x2="32.80" y2="965.30" stroke="#555" stroke-width="0.9"/>
<text x="28.80" y="967.68" font-size="6.6" fill="#3d3030" text-anchor="end" letter-spacing="0.4">50</text>
<line x1="32.80" y1="938.30" x2="698.00" y2="938.30" stroke="#8c8c8c" stroke-width="0.9" stroke-dasharray="1 1"/>
<line x1="30.50" y1="938.30" x2="32.80" y2="938.30" stroke="#555" stroke-width="0.9"/>
<text x="28.80" y="940.68" font-size="6.6" fill="#3d3030" text-anchor="end" letter-spacing="0.4">75</text>
<line x1="32.80" y1="911.30" x2="698.00" y2="911.30" stroke="#8c8c8c" stroke-width="0.9" stroke-dasharray="1 1"/>
<line x1="30.50" y1="911.30" x2="32.80" y2="911.30" stroke="#555" stroke-width="0.9"/>
<text x="28.80" y="913.68" font-size="6.6" fill="#3d3030" text-anchor="end" letter-spacing="0.4">100</text>
<line x1="32.80" y1="884.30" x2="698.00" y2="884.30" stroke="#8c8c8c" stroke-width="0.9" stroke-dasharray="1 1"/>
<line x1="30.50" y1="884.30" x2="32.80" y2="884.30" stroke="#555" stroke-width="0.9"/>
<text x="28.80" y="886.68" font-size="6.6" fill="#3d3030" text-anchor="end" letter-spacing="0.4">125</text>
<line x1="29.60" y1="873.00" x2="29.60" y2="1034.00" stroke="#505050" stroke-width="1.1"/>
<line x1="28.70" y1="1034.00" x2="698.00" y2="1034.00" stroke="#555" stroke-width="0.9"/>
<line x1="35.40" y1="1031.60" x2="35.40" y2="1034.00" stroke="#555" stroke-width="0.8"/>
<text x="35.40" y="1039.40" font-size="6.3" fill="#7a6660" text-anchor="middle">A</text>
<line x1="41.73" y1="1031.60" x2="41.73" y2="1034.00" stroke="#555" stroke-width="0.8"/>
<text x="41.73" y="1039.40" font-size="6.3" fill="#7a6660" text-anchor="middle">T</text>
<line x1="48.07" y1="1031.60" x2="48.07" y2="1034.00" stroke="#555" stroke-width="0.8"/>
<text x="48.07" y="1039.40" font-size="6.3" fill="#7a6660" text-anchor="middle">C</text>
<line x1="54.40" y1="1031.60" x2="54.40" y2="1034.00" stroke="#555" stroke-width="0.8"/>
<text x="54.40" y="1039.40" font-size="6.3" fill="#7a6660" text-anchor="middle">G</text>
<line x1="60.73" y1="1031.60" x2="60.73" y2="1034.00" stroke="#555" stroke-width="0.8"/>
<text x="60.73" y="1039.40" font-size="6.3" fill="#7a6660" text-anchor="middle">T</text>
<text x="60.73" y="1048.40" font-size="7.0" fill="#5a4a44" text-anchor="middle" letter-spacing="0.3">5</text>
<line x1="67.06" y1="1031.60" x2="67.06" y2="1034.00" stroke="#555" stroke-width="0.8"/>
<text x="67.06" y="1039.40" font-size="6.3" fill="#7a6660" text-anchor="middle">A</text>
<line x1="73.40" y1="1031.60" x2="73.40" y2="1034.00" stroke="#555" stroke-width="0.8"/>
<text x="73.40" y="1039.40" font-size="6.3" fill="#7a6660" text-anchor="middle">T</text>
<line x1="79.73" y1="1031.60" x2="79.73" y2="1034.00" stroke="#555" stroke-width="0.8"/>
<text x="79.73" y="1039.40" font-size="6.3" fill="#7a6660" text-anchor="middle">G</text>
<line x1="86.06" y1="1031.60" x2="86.06" y2="1034.00" stroke="#555" stroke-width="0.8"/>
<text x="86.06" y="1039.40" font-size="6.3" fill="#7a6660" text-anchor="middle">T</text>
<line x1="92.40" y1="1031.60" x2="92.40" y2="1034.00" stroke="#555" stroke-width="0.8"/>
<text x="92.40" y="1039.40" font-size="6.3" fill="#7a6660" text-anchor="middle">C</text>
<text x="92.40" y="1048.40" font-size="7.0" fill="#5a4a44" text-anchor="middle" letter-spacing="0.3">10</text>
<line x1="98.73" y1="1031.60" x2="98.73" y2="1034.00" stroke="#555" stroke-width="0.8"/>
<text x="98.73" y="1039.40" font-size="6.3" fill="#7a6660" text-anchor="middle">T</text>
<line x1="105.06" y1="1031.60" x2="105.06" y2="1034.00" stroke="#555" stroke-width="0.8"/>
<text x="105.06" y="1039.40" font-size="6.3" fill="#7a6660" text-anchor="middle">G</text>
<line x1="111.40" y1="1031.60" x2="111.40" y2="1034.00" stroke="#555" stroke-width="0.8"/>
<text x="111.40" y="1039.40" font-size="6.3" fill="#7a6660" text-anchor="middle">T</text>
<line x1="117.73" y1="1031.60" x2="117.73" y2="1034.00" stroke="#555" stroke-width="0.8"/>
<text x="117.73" y="1039.40" font-size="6.3" fill="#7a6660" text-anchor="middle">A</text>
<line x1="124.06" y1="1031.60" x2="124.06" y2="1034.00" stroke="#555" stroke-width="0.8"/>
<text x="124.06" y="1039.40" font-size="6.3" fill="#7a6660" text-anchor="middle">T</text>
<text x="124.06" y="1048.40" font-size="7.0" fill="#5a4a44" text-anchor="middle" letter-spacing="0.3">15</text>
<line x1="130.40" y1="1031.60" x2="130.40" y2="1034.00" stroke="#555" stroke-width="0.8"/>
<text x="130.40" y="1039.40" font-size="6.3" fill="#7a6660" text-anchor="middle">C</text>
<line x1="136.73" y1="1031.60" x2="136.73" y2="1034.00" stroke="#555" stroke-width="0.8"/>
<text x="136.73" y="1039.40" font-size="6.3" fill="#7a6660" text-anchor="middle">T</text>
<line x1="143.06" y1="1031.60" x2="143.06" y2="1034.00" stroke="#555" stroke-width="0.8"/>
<text x="143.06" y="1039.40" font-size="6.3" fill="#7a6660" text-anchor="middle">A</text>
<line x1="149.39" y1="1031.60" x2="149.39" y2="1034.00" stroke="#555" stroke-width="0.8"/>
<text x="149.39" y="1039.40" font-size="6.3" fill="#7a6660" text-anchor="middle">G</text>
<line x1="155.73" y1="1031.60" x2="155.73" y2="1034.00" stroke="#555" stroke-width="0.8"/>
<text x="155.73" y="1039.40" font-size="6.3" fill="#7a6660" text-anchor="middle">T</text>
<text x="155.73" y="1048.40" font-size="7.0" fill="#5a4a44" text-anchor="middle" letter-spacing="0.3">20</text>
<line x1="162.06" y1="1031.60" x2="162.06" y2="1034.00" stroke="#555" stroke-width="0.8"/>
<text x="162.06" y="1039.40" font-size="6.3" fill="#7a6660" text-anchor="middle">C</text>
<line x1="168.39" y1="1031.60" x2="168.39" y2="1034.00" stroke="#555" stroke-width="0.8"/>
<text x="168.39" y="1039.40" font-size="6.3" fill="#7a6660" text-anchor="middle">T</text>
<line x1="174.73" y1="1031.60" x2="174.73" y2="1034.00" stroke="#555" stroke-width="0.8"/>
<text x="174.73" y="1039.40" font-size="6.3" fill="#7a6660" text-anchor="middle">G</text>
<line x1="181.06" y1="1031.60" x2="181.06" y2="1034.00" stroke="#555" stroke-width="0.8"/>
<text x="181.06" y="1039.40" font-size="6.3" fill="#7a6660" text-anchor="middle">T</text>
<line x1="187.39" y1="1031.60" x2="187.39" y2="1034.00" stroke="#555" stroke-width="0.8"/>
<text x="187.39" y="1039.40" font-size="6.3" fill="#7a6660" text-anchor="middle">T</text>
<text x="187.39" y="1048.40" font-size="7.0" fill="#5a4a44" text-anchor="middle" letter-spacing="0.3">25</text>
<line x1="193.73" y1="1031.60" x2="193.73" y2="1034.00" stroke="#555" stroke-width="0.8"/>
<text x="193.73" y="1039.40" font-size="6.3" fill="#7a6660" text-anchor="middle">A</text>
<line x1="200.06" y1="1031.60" x2="200.06" y2="1034.00" stroke="#555" stroke-width="0.8"/>
<text x="200.06" y="1039.40" font-size="6.3" fill="#7a6660" text-anchor="middle">G</text>
<line x1="206.39" y1="1031.60" x2="206.39" y2="1034.00" stroke="#555" stroke-width="0.8"/>
<text x="206.39" y="1039.40" font-size="6.3" fill="#7a6660" text-anchor="middle">T</text>
<line x1="212.72" y1="1031.60" x2="212.72" y2="1034.00" stroke="#555" stroke-width="0.8"/>
<text x="212.72" y="1039.40" font-size="6.3" fill="#7a6660" text-anchor="middle">C</text>
<line x1="219.06" y1="1031.60" x2="219.06" y2="1034.00" stroke="#555" stroke-width="0.8"/>
<text x="219.06" y="1039.40" font-size="6.3" fill="#7a6660" text-anchor="middle">T</text>
<text x="219.06" y="1048.40" font-size="7.0" fill="#5a4a44" text-anchor="middle" letter-spacing="0.3">30</text>
<line x1="225.39" y1="1031.60" x2="225.39" y2="1034.00" stroke="#555" stroke-width="0.8"/>
<text x="225.39" y="1039.40" font-size="6.3" fill="#7a6660" text-anchor="middle">G</text>
<line x1="231.72" y1="1031.60" x2="231.72" y2="1034.00" stroke="#555" stroke-width="0.8"/>
<text x="231.72" y="1039.40" font-size="6.3" fill="#7a6660" text-anchor="middle">T</text>
<line x1="238.06" y1="1031.60" x2="238.06" y2="1034.00" stroke="#555" stroke-width="0.8"/>
<text x="238.06" y="1039.40" font-size="6.3" fill="#7a6660" text-anchor="middle">A</text>
<line x1="244.39" y1="1031.60" x2="244.39" y2="1034.00" stroke="#555" stroke-width="0.8"/>
<text x="244.39" y="1039.40" font-size="6.3" fill="#7a6660" text-anchor="middle">T</text>
<line x1="250.72" y1="1031.60" x2="250.72" y2="1034.00" stroke="#555" stroke-width="0.8"/>
<text x="250.72" y="1039.40" font-size="6.3" fill="#7a6660" text-anchor="middle">G</text>
<text x="250.72" y="1048.40" font-size="7.0" fill="#5a4a44" text-anchor="middle" letter-spacing="0.3">35</text>
<line x1="257.06" y1="1031.60" x2="257.06" y2="1034.00" stroke="#555" stroke-width="0.8"/>
<text x="257.06" y="1039.40" font-size="6.3" fill="#7a6660" text-anchor="middle">T</text>
<line x1="263.39" y1="1031.60" x2="263.39" y2="1034.00" stroke="#555" stroke-width="0.8"/>
<text x="263.39" y="1039.40" font-size="6.3" fill="#7a6660" text-anchor="middle">C</text>
<line x1="269.72" y1="1031.60" x2="269.72" y2="1034.00" stroke="#555" stroke-width="0.8"/>
<text x="269.72" y="1039.40" font-size="6.3" fill="#7a6660" text-anchor="middle">T</text>
<line x1="276.05" y1="1031.60" x2="276.05" y2="1034.00" stroke="#555" stroke-width="0.8"/>
<text x="276.05" y="1039.40" font-size="6.3" fill="#7a6660" text-anchor="middle">A</text>
<line x1="282.39" y1="1031.60" x2="282.39" y2="1034.00" stroke="#555" stroke-width="0.8"/>
<text x="282.39" y="1039.40" font-size="6.3" fill="#7a6660" text-anchor="middle">G</text>
<text x="282.39" y="1048.40" font-size="7.0" fill="#5a4a44" text-anchor="middle" letter-spacing="0.3">40</text>
<line x1="288.72" y1="1031.60" x2="288.72" y2="1034.00" stroke="#555" stroke-width="0.8"/>
<text x="288.72" y="1039.40" font-size="6.3" fill="#7a6660" text-anchor="middle">T</text>
<line x1="295.05" y1="1031.60" x2="295.05" y2="1034.00" stroke="#555" stroke-width="0.8"/>
<text x="295.05" y="1039.40" font-size="6.3" fill="#7a6660" text-anchor="middle">C</text>
<line x1="301.39" y1="1031.60" x2="301.39" y2="1034.00" stroke="#555" stroke-width="0.8"/>
<text x="301.39" y="1039.40" font-size="6.3" fill="#7a6660" text-anchor="middle">A</text>
<line x1="307.72" y1="1031.60" x2="307.72" y2="1034.00" stroke="#555" stroke-width="0.8"/>
<text x="307.72" y="1039.40" font-size="6.3" fill="#7a6660" text-anchor="middle">G</text>
<line x1="314.05" y1="1031.60" x2="314.05" y2="1034.00" stroke="#555" stroke-width="0.8"/>
<text x="314.05" y="1039.40" font-size="6.3" fill="#7a6660" text-anchor="middle">T</text>
<text x="314.05" y="1048.40" font-size="7.0" fill="#5a4a44" text-anchor="middle" letter-spacing="0.3">45</text>
<line x1="320.38" y1="1031.60" x2="320.38" y2="1034.00" stroke="#555" stroke-width="0.8"/>
<text x="320.38" y="1039.40" font-size="6.3" fill="#7a6660" text-anchor="middle">C</text>
<line x1="326.72" y1="1031.60" x2="326.72" y2="1034.00" stroke="#555" stroke-width="0.8"/>
<text x="326.72" y="1039.40" font-size="6.3" fill="#7a6660" text-anchor="middle">T</text>
<line x1="333.05" y1="1031.60" x2="333.05" y2="1034.00" stroke="#555" stroke-width="0.8"/>
<text x="333.05" y="1039.40" font-size="6.3" fill="#7a6660" text-anchor="middle">A</text>
<line x1="339.38" y1="1031.60" x2="339.38" y2="1034.00" stroke="#555" stroke-width="0.8"/>
<text x="339.38" y="1039.40" font-size="6.3" fill="#7a6660" text-anchor="middle">G</text>
<line x1="345.72" y1="1031.60" x2="345.72" y2="1034.00" stroke="#555" stroke-width="0.8"/>
<text x="345.72" y="1039.40" font-size="6.3" fill="#7a6660" text-anchor="middle">T</text>
<text x="345.72" y="1048.40" font-size="7.0" fill="#5a4a44" text-anchor="middle" letter-spacing="0.3">50</text>
<line x1="352.05" y1="1031.60" x2="352.05" y2="1034.00" stroke="#555" stroke-width="0.8"/>
<text x="352.05" y="1039.40" font-size="6.3" fill="#7a6660" text-anchor="middle">C</text>
<line x1="358.38" y1="1031.60" x2="358.38" y2="1034.00" stroke="#555" stroke-width="0.8"/>
<text x="358.38" y="1039.40" font-size="6.3" fill="#7a6660" text-anchor="middle">G</text>
<line x1="364.72" y1="1031.60" x2="364.72" y2="1034.00" stroke="#555" stroke-width="0.8"/>
<text x="364.72" y="1039.40" font-size="6.3" fill="#7a6660" text-anchor="middle">G</text>
<line x1="371.05" y1="1031.60" x2="371.05" y2="1034.00" stroke="#555" stroke-width="0.8"/>
<text x="371.05" y="1039.40" font-size="6.3" fill="#7a6660" text-anchor="middle">T</text>
<line x1="377.38" y1="1031.60" x2="377.38" y2="1034.00" stroke="#555" stroke-width="0.8"/>
<text x="377.38" y="1039.40" font-size="6.3" fill="#7a6660" text-anchor="middle">T</text>
<text x="377.38" y="1048.40" font-size="7.0" fill="#5a4a44" text-anchor="middle" letter-spacing="0.3">55</text>
<line x1="383.71" y1="1031.60" x2="383.71" y2="1034.00" stroke="#555" stroke-width="0.8"/>
<text x="383.71" y="1039.40" font-size="6.3" fill="#7a6660" text-anchor="middle">C</text>
<line x1="390.05" y1="1031.60" x2="390.05" y2="1034.00" stroke="#555" stroke-width="0.8"/>
<text x="390.05" y="1039.40" font-size="6.3" fill="#7a6660" text-anchor="middle">T</text>
<line x1="396.38" y1="1031.60" x2="396.38" y2="1034.00" stroke="#555" stroke-width="0.8"/>
<text x="396.38" y="1039.40" font-size="6.3" fill="#7a6660" text-anchor="middle">G</text>
<line x1="402.71" y1="1031.60" x2="402.71" y2="1034.00" stroke="#555" stroke-width="0.8"/>
<text x="402.71" y="1039.40" font-size="6.3" fill="#7a6660" text-anchor="middle">T</text>
<line x1="409.05" y1="1031.60" x2="409.05" y2="1034.00" stroke="#555" stroke-width="0.8"/>
<text x="409.05" y="1039.40" font-size="6.3" fill="#7a6660" text-anchor="middle">G</text>
<text x="409.05" y="1048.40" font-size="7.0" fill="#5a4a44" text-anchor="middle" letter-spacing="0.3">60</text>
<line x1="415.38" y1="1031.60" x2="415.38" y2="1034.00" stroke="#555" stroke-width="0.8"/>
<text x="415.38" y="1039.40" font-size="6.3" fill="#7a6660" text-anchor="middle">A</text>
<line x1="421.71" y1="1031.60" x2="421.71" y2="1034.00" stroke="#555" stroke-width="0.8"/>
<text x="421.71" y="1039.40" font-size="6.3" fill="#7a6660" text-anchor="middle">T</text>
<line x1="428.05" y1="1031.60" x2="428.05" y2="1034.00" stroke="#555" stroke-width="0.8"/>
<text x="428.05" y="1039.40" font-size="6.3" fill="#7a6660" text-anchor="middle">G</text>
<line x1="434.38" y1="1031.60" x2="434.38" y2="1034.00" stroke="#555" stroke-width="0.8"/>
<text x="434.38" y="1039.40" font-size="6.3" fill="#7a6660" text-anchor="middle">T</text>
<line x1="440.71" y1="1031.60" x2="440.71" y2="1034.00" stroke="#555" stroke-width="0.8"/>
<text x="440.71" y="1039.40" font-size="6.3" fill="#7a6660" text-anchor="middle">C</text>
<text x="440.71" y="1048.40" font-size="7.0" fill="#5a4a44" text-anchor="middle" letter-spacing="0.3">65</text>
<line x1="447.05" y1="1031.60" x2="447.05" y2="1034.00" stroke="#555" stroke-width="0.8"/>
<text x="447.05" y="1039.40" font-size="6.3" fill="#7a6660" text-anchor="middle">G</text>
<line x1="453.38" y1="1031.60" x2="453.38" y2="1034.00" stroke="#555" stroke-width="0.8"/>
<text x="453.38" y="1039.40" font-size="6.3" fill="#7a6660" text-anchor="middle">T</text>
<line x1="459.71" y1="1031.60" x2="459.71" y2="1034.00" stroke="#555" stroke-width="0.8"/>
<text x="459.71" y="1039.40" font-size="6.3" fill="#7a6660" text-anchor="middle">A</text>
<line x1="466.04" y1="1031.60" x2="466.04" y2="1034.00" stroke="#555" stroke-width="0.8"/>
<text x="466.04" y="1039.40" font-size="6.3" fill="#7a6660" text-anchor="middle">T</text>
<line x1="472.38" y1="1031.60" x2="472.38" y2="1034.00" stroke="#555" stroke-width="0.8"/>
<text x="472.38" y="1039.40" font-size="6.3" fill="#7a6660" text-anchor="middle">G</text>
<text x="472.38" y="1048.40" font-size="7.0" fill="#5a4a44" text-anchor="middle" letter-spacing="0.3">70</text>
<line x1="478.71" y1="1031.60" x2="478.71" y2="1034.00" stroke="#555" stroke-width="0.8"/>
<text x="478.71" y="1039.40" font-size="6.3" fill="#7a6660" text-anchor="middle">T</text>
<line x1="485.04" y1="1031.60" x2="485.04" y2="1034.00" stroke="#555" stroke-width="0.8"/>
<text x="485.04" y="1039.40" font-size="6.3" fill="#7a6660" text-anchor="middle">C</text>
<line x1="491.38" y1="1031.60" x2="491.38" y2="1034.00" stroke="#555" stroke-width="0.8"/>
<text x="491.38" y="1039.40" font-size="6.3" fill="#7a6660" text-anchor="middle">G</text>
<line x1="497.71" y1="1031.60" x2="497.71" y2="1034.00" stroke="#555" stroke-width="0.8"/>
<text x="497.71" y="1039.40" font-size="6.3" fill="#7a6660" text-anchor="middle">A</text>
<line x1="504.04" y1="1031.60" x2="504.04" y2="1034.00" stroke="#555" stroke-width="0.8"/>
<text x="504.04" y="1039.40" font-size="6.3" fill="#7a6660" text-anchor="middle">T</text>
<text x="504.04" y="1048.40" font-size="7.0" fill="#5a4a44" text-anchor="middle" letter-spacing="0.3">75</text>
<line x1="510.38" y1="1031.60" x2="510.38" y2="1034.00" stroke="#555" stroke-width="0.8"/>
<text x="510.38" y="1039.40" font-size="6.3" fill="#7a6660" text-anchor="middle">G</text>
<line x1="516.71" y1="1031.60" x2="516.71" y2="1034.00" stroke="#555" stroke-width="0.8"/>
<text x="516.71" y="1039.40" font-size="6.3" fill="#7a6660" text-anchor="middle">T</text>
<line x1="523.04" y1="1031.60" x2="523.04" y2="1034.00" stroke="#555" stroke-width="0.8"/>
<text x="523.04" y="1039.40" font-size="6.3" fill="#7a6660" text-anchor="middle">C</text>
<line x1="529.37" y1="1031.60" x2="529.37" y2="1034.00" stroke="#555" stroke-width="0.8"/>
<text x="529.37" y="1039.40" font-size="6.3" fill="#7a6660" text-anchor="middle">A</text>
<line x1="535.71" y1="1031.60" x2="535.71" y2="1034.00" stroke="#555" stroke-width="0.8"/>
<text x="535.71" y="1039.40" font-size="6.3" fill="#7a6660" text-anchor="middle">G</text>
<text x="535.71" y="1048.40" font-size="7.0" fill="#5a4a44" text-anchor="middle" letter-spacing="0.3">80</text>
<line x1="542.04" y1="1031.60" x2="542.04" y2="1034.00" stroke="#555" stroke-width="0.8"/>
<text x="542.04" y="1039.40" font-size="6.3" fill="#7a6660" text-anchor="middle">T</text>
<line x1="548.37" y1="1031.60" x2="548.37" y2="1034.00" stroke="#555" stroke-width="0.8"/>
<text x="548.37" y="1039.40" font-size="6.3" fill="#7a6660" text-anchor="middle">C</text>
<line x1="554.71" y1="1031.60" x2="554.71" y2="1034.00" stroke="#555" stroke-width="0.8"/>
<text x="554.71" y="1039.40" font-size="6.3" fill="#7a6660" text-anchor="middle">A</text>
<line x1="561.04" y1="1031.60" x2="561.04" y2="1034.00" stroke="#555" stroke-width="0.8"/>
<text x="561.04" y="1039.40" font-size="6.3" fill="#7a6660" text-anchor="middle">G</text>
<line x1="567.37" y1="1031.60" x2="567.37" y2="1034.00" stroke="#555" stroke-width="0.8"/>
<text x="567.37" y="1039.40" font-size="6.3" fill="#7a6660" text-anchor="middle">T</text>
<text x="567.37" y="1048.40" font-size="7.0" fill="#5a4a44" text-anchor="middle" letter-spacing="0.3">85</text>
<line x1="573.71" y1="1031.60" x2="573.71" y2="1034.00" stroke="#555" stroke-width="0.8"/>
<text x="573.71" y="1039.40" font-size="6.3" fill="#7a6660" text-anchor="middle">C</text>
<line x1="580.04" y1="1031.60" x2="580.04" y2="1034.00" stroke="#555" stroke-width="0.8"/>
<text x="580.04" y="1039.40" font-size="6.3" fill="#7a6660" text-anchor="middle">A</text>
<line x1="586.37" y1="1031.60" x2="586.37" y2="1034.00" stroke="#555" stroke-width="0.8"/>
<text x="586.37" y="1039.40" font-size="6.3" fill="#7a6660" text-anchor="middle">G</text>
<line x1="592.70" y1="1031.60" x2="592.70" y2="1034.00" stroke="#555" stroke-width="0.8"/>
<text x="592.70" y="1039.40" font-size="6.3" fill="#7a6660" text-anchor="middle">T</text>
<line x1="599.04" y1="1031.60" x2="599.04" y2="1034.00" stroke="#555" stroke-width="0.8"/>
<text x="599.04" y="1039.40" font-size="6.3" fill="#7a6660" text-anchor="middle">C</text>
<text x="599.04" y="1048.40" font-size="7.0" fill="#5a4a44" text-anchor="middle" letter-spacing="0.3">90</text>
<line x1="605.37" y1="1031.60" x2="605.37" y2="1034.00" stroke="#555" stroke-width="0.8"/>
<text x="605.37" y="1039.40" font-size="6.3" fill="#7a6660" text-anchor="middle">T</text>
<line x1="611.70" y1="1031.60" x2="611.70" y2="1034.00" stroke="#555" stroke-width="0.8"/>
<text x="611.70" y="1039.40" font-size="6.3" fill="#7a6660" text-anchor="middle">A</text>
<line x1="618.04" y1="1031.60" x2="618.04" y2="1034.00" stroke="#555" stroke-width="0.8"/>
<text x="618.04" y="1039.40" font-size="6.3" fill="#7a6660" text-anchor="middle">G</text>
<line x1="624.37" y1="1031.60" x2="624.37" y2="1034.00" stroke="#555" stroke-width="0.8"/>
<text x="624.37" y="1039.40" font-size="6.3" fill="#7a6660" text-anchor="middle">T</text>
<line x1="630.70" y1="1031.60" x2="630.70" y2="1034.00" stroke="#555" stroke-width="0.8"/>
<text x="630.70" y="1039.40" font-size="6.3" fill="#7a6660" text-anchor="middle">C</text>
<text x="630.70" y="1048.40" font-size="7.0" fill="#5a4a44" text-anchor="middle" letter-spacing="0.3">95</text>
<line x1="637.03" y1="1031.60" x2="637.03" y2="1034.00" stroke="#555" stroke-width="0.8"/>
<text x="637.03" y="1039.40" font-size="6.3" fill="#7a6660" text-anchor="middle">T</text>
<line x1="643.37" y1="1031.60" x2="643.37" y2="1034.00" stroke="#555" stroke-width="0.8"/>
<text x="643.37" y="1039.40" font-size="6.3" fill="#7a6660" text-anchor="middle">G</text>
<line x1="649.70" y1="1031.60" x2="649.70" y2="1034.00" stroke="#555" stroke-width="0.8"/>
<text x="649.70" y="1039.40" font-size="6.3" fill="#7a6660" text-anchor="middle">T</text>
<line x1="656.03" y1="1031.60" x2="656.03" y2="1034.00" stroke="#555" stroke-width="0.8"/>
<text x="656.03" y="1039.40" font-size="6.3" fill="#7a6660" text-anchor="middle">A</text>
<line x1="662.37" y1="1031.60" x2="662.37" y2="1034.00" stroke="#555" stroke-width="0.8"/>
<text x="662.37" y="1039.40" font-size="6.3" fill="#7a6660" text-anchor="middle">T</text>
<text x="662.37" y="1048.40" font-size="7.0" fill="#5a4a44" text-anchor="middle" letter-spacing="0.3">100</text>
<line x1="668.70" y1="1031.60" x2="668.70" y2="1034.00" stroke="#555" stroke-width="0.8"/>
<text x="668.70" y="1039.40" font-size="6.3" fill="#7a6660" text-anchor="middle">G</text>
<line x1="675.03" y1="1031.60" x2="675.03" y2="1034.00" stroke="#555" stroke-width="0.8"/>
<text x="675.03" y="1039.40" font-size="6.3" fill="#7a6660" text-anchor="middle">A</text>
<line x1="681.37" y1="1031.60" x2="681.37" y2="1034.00" stroke="#555" stroke-width="0.8"/>
<text x="681.37" y="1039.40" font-size="6.3" fill="#7a6660" text-anchor="middle">T</text>
<line x1="687.70" y1="1031.60" x2="687.70" y2="1034.00" stroke="#555" stroke-width="0.8"/>
<text x="687.70" y="1039.40" font-size="6.3" fill="#7a6660" text-anchor="middle">C</text>
<line x1="694.03" y1="1031.60" x2="694.03" y2="1034.00" stroke="#555" stroke-width="0.8"/>
<text x="694.03" y="1039.40" font-size="6.3" fill="#7a6660" text-anchor="middle">G</text>
<text x="694.03" y="1048.40" font-size="7.0" fill="#5a4a44" text-anchor="middle" letter-spacing="0.3">105</text>
<polyline points="30.1,1019.3 35.0,1019.3 35.5,1016.5 35.8,1013.7 36.4,1016.0 36.9,1017.4 37.3,1018.6 37.8,1019.2 41.4,1019.4 41.8,1006.9 42.1,991.2 42.2,993.6 42.7,1002.1 43.1,1009.3 43.6,1015.0 44.0,1018.5 45.0,1018.9 47.6,1019.4 48.1,1016.9 48.5,1013.0 49.0,1015.4 49.5,1017.0 49.9,1018.4 50.4,1019.2 54.0,1019.5 54.4,1004.3 54.8,974.2 54.9,975.9 55.3,989.7 55.8,1001.6 56.2,1011.3 56.6,1017.7 57.1,1018.4 58.0,1019.0 60.2,1019.4 60.7,997.3 61.1,940.1 61.1,941.2 61.6,965.8 62.0,986.9 62.5,1004.1 63.0,1015.9 63.4,1017.5 63.9,1018.1 64.8,1018.8 66.5,1019.4 67.0,1012.0 67.5,986.3 67.9,996.3 68.3,1005.3 68.8,1012.6 69.2,1017.8 69.7,1018.7 71.0,1019.3 72.8,1019.6 73.3,1018.1 73.8,1011.1 74.2,1013.5 74.7,1015.8 75.1,1017.7 75.5,1019.1 76.0,1019.4 79.2,1019.7 79.6,1014.3 80.1,973.0 80.5,985.0 81.0,997.9 81.4,1008.6 81.8,1016.4 82.3,1018.4 83.2,1019.1 85.5,1019.6 85.9,1016.9 86.5,973.4 86.8,984.4 87.2,997.3 87.7,1008.0 88.2,1016.1 88.6,1018.5 89.5,1019.1 91.8,1019.7 92.2,1019.7 92.8,1017.1 93.5,1018.5 94.0,1019.1 94.5,1019.6 94.9,1019.7 98.5,1019.8 99.0,1008.6 99.1,1003.7 99.4,1006.8 99.8,1011.4 100.3,1015.3 100.8,1018.3 101.2,1019.4 104.8,1019.9 105.2,995.1 105.5,981.5 105.7,988.0 106.2,999.1 106.6,1008.4 107.0,1015.6 107.5,1018.8 108.4,1019.3 111.1,1019.9 111.5,1011.1 111.8,1004.9 112.0,1007.1 112.5,1011.5 112.9,1015.2 113.3,1018.1 113.8,1019.5 117.4,1020.0 117.8,1000.4 118.1,983.3 118.3,987.9 118.8,998.7 119.2,1007.8 119.7,1015.1 120.1,1018.9 121.0,1019.4 123.7,1020.0 124.2,996.5 124.5,971.0 124.6,975.9 125.0,990.5 125.5,1003.0 126.0,1012.9 126.4,1018.5 126.8,1018.9 127.8,1019.5 130.0,1020.0 130.4,1017.6 130.8,1014.2 131.3,1016.5 131.8,1018.0 132.2,1019.2 132.7,1019.9 136.3,1020.1 136.8,1012.3 137.1,998.9 137.2,1000.0 137.7,1006.5 138.1,1012.0 138.6,1016.5 139.0,1019.4 139.9,1019.8 142.6,1020.2 143.1,1018.1 143.5,1013.5 143.9,1015.7 144.4,1017.5 144.8,1019.0 145.3,1019.9 148.9,1020.2 149.3,1009.6 149.8,979.4 150.2,992.3 150.7,1003.2 151.2,1012.1 151.6,1018.3 152.1,1019.2 152.9,1019.8 155.2,1020.2 155.7,1009.4 156.1,967.4 156.6,982.9 157.0,997.2 157.4,1009.0 157.9,1017.3 158.3,1018.9 159.2,1019.6 161.1,1020.2 161.5,1020.2 161.9,1019.5 162.5,1015.4 162.8,1016.8 163.3,1018.1 163.8,1019.2 164.2,1020.1 164.7,1020.2 167.8,1020.4 168.2,1018.4 168.8,998.9 169.2,1004.3 169.6,1010.2 170.1,1015.2 170.5,1018.8 170.9,1019.8 174.1,1020.4 174.6,1019.6 175.1,1000.8 175.4,1005.3 175.9,1010.8 176.3,1015.4 176.8,1018.8 177.2,1019.9 180.8,1020.5 181.3,929.7 181.5,896.9 181.8,922.4 182.2,957.4 182.7,986.7 183.1,1009.0 183.6,1016.9 184.0,1018.0 184.4,1018.7 184.9,1019.2 185.8,1019.9 187.2,1020.3 187.6,1007.1 187.8,1000.8 188.1,1004.5 188.5,1010.1 188.9,1014.9 189.4,1018.5 189.8,1020.0 193.4,1020.6 193.9,1006.8 194.1,998.5 194.3,1002.0 194.8,1008.4 195.2,1013.9 195.7,1018.1 196.2,1020.0 197.9,1020.5 199.8,1020.6 200.2,993.5 200.5,973.0 200.7,979.6 201.1,993.5 201.6,1005.4 202.0,1014.6 202.4,1019.2 202.9,1019.6 203.8,1020.2 206.1,1020.6 206.5,983.9 206.8,949.2 206.9,957.4 207.4,978.6 207.8,996.6 208.3,1010.8 208.8,1018.4 209.2,1019.1 209.7,1019.6 210.6,1020.2 212.3,1020.6 212.8,1018.8 213.1,1016.6 213.7,1018.2 214.2,1019.3 214.6,1020.1 215.1,1020.6 218.7,1020.8 219.1,1013.2 219.5,1002.0 219.6,1003.3 220.0,1009.0 220.4,1013.8 220.9,1017.8 221.3,1020.2 224.9,1020.8 225.4,1008.3 225.8,985.1 225.8,986.6 226.3,997.6 226.8,1007.0 227.2,1014.5 227.7,1019.5 228.1,1020.0 229.4,1020.6 231.2,1020.8 231.7,1006.0 232.1,970.5 232.2,971.5 232.6,987.1 233.1,1000.4 233.5,1011.3 233.9,1018.7 234.4,1019.7 235.3,1020.3 237.6,1020.9 238.0,1009.9 238.5,974.9 238.9,989.1 239.3,1001.4 239.8,1011.5 240.2,1018.6 240.7,1019.8 241.6,1020.4 243.8,1020.9 244.3,1018.0 244.8,1004.9 245.2,1009.5 245.7,1013.9 246.1,1017.5 246.6,1020.1 247.0,1020.6 250.2,1021.0 250.6,1015.3 251.1,976.5 251.5,988.3 251.9,1000.6 252.4,1010.7 252.8,1018.1 253.3,1019.9 254.2,1020.5 256.4,1021.0 256.9,1017.3 257.5,971.2 257.8,983.3 258.2,997.2 258.7,1008.7 259.1,1017.3 259.6,1019.8 260.5,1020.5 262.3,1021.0 263.2,1021.0 263.8,1017.9 264.6,1019.5 265.0,1020.3 265.4,1020.9 265.9,1021.1 269.5,1021.2 269.9,1011.4 270.1,1007.4 270.4,1010.2 270.9,1014.1 271.3,1017.4 271.8,1019.9 272.2,1020.9 275.8,1021.3 276.2,1001.1 276.5,990.7 276.7,996.1 277.1,1004.9 277.6,1012.3 278.1,1018.0 278.5,1020.4 279.4,1020.8 282.1,1021.3 282.6,992.8 282.8,974.2 283.0,981.4 283.4,995.1 283.9,1006.7 284.4,1015.7 284.8,1019.9 285.2,1020.3 286.1,1020.8 288.4,1021.3 288.9,993.4 289.1,970.5 289.3,977.1 289.8,992.0 290.2,1004.7 290.6,1014.7 291.1,1019.8 291.6,1020.3 292.4,1020.8 294.7,1021.3 295.1,1020.3 295.5,1019.3 296.1,1020.2 296.9,1021.1 297.4,1021.4 301.0,1021.5 301.4,1010.0 301.8,995.3 301.9,997.5 302.4,1005.4 302.8,1012.1 303.2,1017.4 303.7,1020.6 305.1,1021.2 307.3,1021.5 307.8,1003.3 308.1,974.2 308.2,977.0 308.6,991.3 309.1,1003.6 309.6,1013.5 310.0,1019.9 310.4,1020.4 311.4,1021.0 313.6,1021.5 314.1,1001.9 314.5,962.1 314.5,964.2 314.9,982.4 315.4,998.1 315.9,1010.7 316.3,1019.2 316.8,1020.1 317.2,1020.6 318.1,1021.1 319.9,1021.5 320.4,1020.9 320.8,1019.3 321.7,1020.7 322.1,1021.2 322.6,1021.5 326.2,1021.7 326.6,1019.0 327.1,1009.4 327.6,1013.1 328.0,1016.4 328.4,1019.1 328.9,1021.0 329.4,1021.4 332.5,1021.7 332.9,1016.9 333.5,992.4 333.9,1000.6 334.3,1008.6 334.8,1015.2 335.2,1019.9 335.6,1021.0 337.0,1021.5 338.8,1021.7 339.2,1016.5 339.8,974.2 340.1,986.4 340.6,999.5 341.1,1010.4 341.5,1018.4 341.9,1020.5 342.9,1021.2 345.1,1021.7 345.6,1019.1 346.1,973.0 346.4,984.4 346.9,998.1 347.4,1009.4 347.8,1017.9 348.2,1020.5 349.1,1021.2 350.9,1021.7 357.2,1021.9 358.1,1022.0 358.6,988.4 358.8,973.7 359.1,982.9 359.5,996.7 359.9,1008.2 360.4,1017.1 360.9,1020.5 361.8,1021.3 363.6,1021.8 369.9,1022.0 370.8,1022.1 371.2,979.1 371.4,948.7 371.6,959.3 372.1,980.7 372.6,998.8 373.0,1013.0 373.4,1019.8 373.9,1020.5 374.4,1020.9 375.2,1021.5 377.1,1022.0 377.5,1018.1 377.8,1014.7 377.9,1015.6 378.4,1017.8 378.9,1019.6 379.3,1021.1 379.8,1021.9 386.1,1022.2 389.6,1022.2 390.1,1017.5 390.4,1011.1 391.0,1015.3 391.4,1018.1 391.9,1020.4 392.4,1021.9 395.9,1022.2 396.4,1014.2 396.8,1000.1 396.9,1001.2 397.3,1008.0 397.8,1013.7 398.2,1018.4 398.6,1021.5 399.1,1021.7 402.2,1022.3 402.7,1014.9 403.1,998.5 403.6,1006.4 404.1,1012.7 404.5,1017.9 404.9,1021.3 405.4,1021.7 408.6,1022.3 409.0,1017.3 409.4,1002.8 409.9,1008.9 410.4,1014.2 410.8,1018.4 411.2,1021.4 411.7,1021.9 414.9,1022.4 415.3,1013.5 415.8,977.8 416.2,990.8 416.6,1002.9 417.1,1012.8 417.6,1019.9 418.0,1021.3 418.9,1021.8 421.1,1022.4 421.6,1019.5 422.1,1002.8 422.5,1008.1 422.9,1013.5 423.4,1017.9 423.9,1021.2 424.3,1021.9 427.4,1022.5 427.9,1018.4 428.4,977.1 428.8,988.4 429.2,1001.0 429.7,1011.4 430.1,1019.1 430.6,1021.3 431.5,1021.9 433.8,1022.4 434.2,1021.3 434.8,988.7 435.1,996.4 435.6,1005.9 436.0,1013.8 436.4,1019.7 436.9,1021.6 437.8,1022.1 444.1,1022.6 446.8,1022.7 447.2,1011.6 447.4,1006.2 447.7,1009.2 448.1,1013.9 448.6,1017.9 449.1,1021.0 449.5,1022.2 453.1,1022.7 453.6,1008.7 453.8,1000.1 454.0,1003.7 454.4,1010.2 454.9,1015.8 455.4,1020.1 455.8,1022.0 457.6,1022.6 459.4,1022.7 459.9,994.6 460.1,973.0 460.3,979.7 460.8,994.3 461.2,1006.7 461.6,1016.4 462.1,1021.2 462.6,1021.7 463.4,1022.2 465.7,1022.7 466.1,1014.9 466.4,1007.4 466.6,1009.2 467.1,1013.7 467.5,1017.6 467.9,1020.7 468.4,1022.3 472.0,1022.8 472.4,994.6 472.8,960.8 472.9,966.3 473.4,984.9 473.8,1000.8 474.2,1013.4 474.7,1020.8 475.1,1021.4 475.6,1021.9 476.5,1022.4 478.3,1022.8 478.8,1006.3 479.1,981.5 479.2,984.2 479.6,996.8 480.1,1007.5 480.6,1016.1 481.0,1021.5 481.4,1021.9 482.4,1022.4 488.6,1023.0 490.9,1023.0 491.4,1012.2 491.8,985.8 492.2,998.0 492.7,1007.8 493.1,1015.9 493.6,1021.4 494.1,1022.1 494.9,1022.6 497.2,1023.0 497.6,1012.0 498.1,976.1 498.6,990.4 499.0,1003.1 499.4,1013.4 499.9,1020.6 500.4,1021.9 501.2,1022.5 503.5,1023.0 503.9,1019.8 504.4,1004.9 504.9,1010.1 505.3,1015.1 505.8,1019.1 506.2,1022.0 506.6,1022.7 509.8,1023.1 510.2,1016.6 510.8,970.5 511.1,984.3 511.6,998.8 512.0,1010.8 512.5,1019.6 513.0,1021.8 513.9,1022.5 515.6,1023.0 516.1,1023.1 516.5,1020.7 517.1,988.1 517.5,996.5 517.9,1006.3 518.4,1014.5 518.8,1020.5 519.2,1022.3 520.1,1022.8 526.5,1023.3 529.1,1023.3 529.6,1006.1 529.8,999.0 530.0,1003.8 530.5,1010.7 531.0,1016.5 531.4,1021.0 531.9,1022.6 533.6,1023.2 535.5,1023.3 535.9,997.6 536.1,984.0 536.4,990.8 536.8,1002.2 537.2,1011.7 537.7,1019.1 538.1,1022.2 539.0,1022.8 541.8,1023.4 542.2,1000.6 542.4,985.4 542.6,991.1 543.1,1002.2 543.5,1011.6 544.0,1018.9 544.5,1022.3 545.4,1022.9 551.6,1023.5 554.4,1023.5 554.8,1013.9 555.1,1003.9 555.2,1005.9 555.7,1011.8 556.1,1016.8 556.6,1020.7 557.0,1022.9 560.6,1023.5 561.1,1005.3 561.4,981.6 561.5,985.0 562.0,997.6 562.5,1008.4 562.9,1017.0 563.4,1022.2 564.2,1022.9 566.0,1023.4 567.0,1023.5 567.4,1007.8 567.8,982.1 567.9,984.5 568.3,997.1 568.8,1007.9 569.2,1016.6 569.6,1022.2 570.1,1022.6 571.0,1023.2 577.3,1023.7 579.5,1023.7 580.0,1019.0 580.4,1006.0 580.9,1011.7 581.4,1016.4 581.8,1020.3 582.2,1022.9 582.7,1023.3 585.9,1023.8 586.3,1014.5 586.8,980.7 587.2,993.6 587.6,1005.2 588.1,1014.7 588.5,1021.4 589.0,1022.7 589.9,1023.3 592.1,1023.7 592.6,1017.5 593.1,984.8 593.5,995.6 594.0,1006.3 594.4,1015.1 594.9,1021.4 595.3,1022.8 596.2,1023.3 602.5,1023.9 604.8,1023.9 605.2,1023.4 605.8,1012.5 606.1,1015.2 606.5,1018.4 607.0,1021.0 607.5,1023.0 607.9,1023.6 611.5,1024.0 612.1,1004.6 612.4,1008.7 612.9,1014.2 613.3,1018.8 613.8,1022.2 614.2,1023.5 617.8,1024.0 618.2,999.2 618.4,988.1 618.7,994.8 619.1,1005.1 619.6,1013.8 620.0,1020.4 620.5,1023.0 621.4,1023.5 624.1,1024.0 624.5,995.4 624.8,978.9 625.0,986.4 625.5,999.4 625.9,1010.5 626.4,1019.0 626.8,1022.7 627.7,1023.4 629.5,1024.0 635.8,1024.2 636.7,1024.2 637.1,1018.5 637.4,1013.4 637.6,1014.7 638.0,1017.9 638.5,1020.6 639.0,1022.7 639.4,1023.9 643.0,1024.2 643.5,1015.5 643.8,1005.7 643.9,1007.5 644.4,1013.0 644.8,1017.7 645.2,1021.5 645.7,1023.7 649.3,1024.3 649.8,1008.8 650.1,987.0 650.2,989.7 650.6,1001.0 651.1,1010.6 651.5,1018.3 652.0,1023.1 652.9,1023.7 655.6,1024.3 656.0,1012.2 656.4,990.8 656.5,992.4 657.0,1002.6 657.4,1011.4 657.9,1018.5 658.3,1023.1 658.8,1023.6 660.1,1024.1 661.9,1024.3 662.4,1017.4 662.8,1001.7 663.2,1009.2 663.7,1015.3 664.1,1020.1 664.6,1023.4 665.0,1023.9 668.2,1024.4 668.6,1016.4 669.1,992.4 669.5,1002.4 670.0,1011.0 670.5,1018.0 670.9,1022.9 671.4,1023.7 672.7,1024.2 674.5,1024.4 675.0,1017.0 675.4,986.1 675.9,997.3 676.3,1007.7 676.8,1016.2 677.2,1022.3 677.6,1023.5 678.5,1024.0 680.8,1024.5 681.2,1019.9 681.8,991.7 682.1,1000.5 682.6,1009.5 683.0,1017.0 683.5,1022.4 684.0,1023.7 685.3,1024.3 691.6,1024.6 693.4,1024.7 693.9,1023.7 694.4,992.2 694.8,999.5 695.2,1008.6 695.6,1016.2 696.1,1021.9 696.5,1023.8 697.5,1024.2" fill="none" stroke="#26336e" stroke-width="0.9" stroke-linejoin="round"/>
<text transform="translate(134.2,386.3) rotate(-90)" x="0" y="0" font-size="14.8" fill="#231f20" text-anchor="middle" textLength="44" lengthAdjust="spacingAndGlyphs">Control</text>
<text transform="translate(134.0,563.4) rotate(-90)" x="0" y="0" font-size="14.8" fill="#231f20" text-anchor="middle" textLength="29.4" lengthAdjust="spacingAndGlyphs">OVA</text>
<text transform="translate(13.6,738.85) rotate(-90)" x="0" y="0" font-size="14.8" fill="#231f20" text-anchor="middle" textLength="44.7" lengthAdjust="spacingAndGlyphs">Control</text>
<text transform="translate(13.1,942.8) rotate(-90)" x="0" y="0" font-size="14.8" fill="#231f20" text-anchor="middle" textLength="29" lengthAdjust="spacingAndGlyphs">OVA</text>
<defs><filter id="hC" x="0" y="0" width="100%" height="100%" color-interpolation-filters="sRGB"><feTurbulence type="turbulence" baseFrequency="0.1" numOctaves="2" seed="21"/><feColorMatrix type="matrix" values="0 0 0 0 0.914  0 0 0 0 0.906  0 0 0 0 0.89  16 0 0 0 -3.040"/></filter>
<filter id="hO" x="0" y="0" width="100%" height="100%" color-interpolation-filters="sRGB"><feTurbulence type="turbulence" baseFrequency="0.06" numOctaves="2" seed="33"/><feColorMatrix type="matrix" values="0 0 0 0 0.914  0 0 0 0 0.906  0 0 0 0 0.89  16 0 0 0 -2.240"/></filter>
<filter id="hD" x="0" y="0" width="100%" height="100%" color-interpolation-filters="sRGB"><feTurbulence type="turbulence" baseFrequency="0.055" numOctaves="2" seed="45"/><feColorMatrix type="matrix" values="0 0 0 0 0.914  0 0 0 0 0.906  0 0 0 0 0.89  16 0 0 0 -1.840"/></filter>
<filter id="nC" x="0" y="0" width="100%" height="100%" color-interpolation-filters="sRGB"><feTurbulence type="fractalNoise" baseFrequency="0.32" numOctaves="2" seed="4"/><feColorMatrix type="matrix" values="0 0 0 0 0.33  0 0 0 0 0.22  0 0 0 0 0.4  9 0 0 0 -5.220"/></filter>
<filter id="nO" x="0" y="0" width="100%" height="100%" color-interpolation-filters="sRGB"><feTurbulence type="fractalNoise" baseFrequency="0.42" numOctaves="2" seed="6"/><feColorMatrix type="matrix" values="0 0 0 0 0.3  0 0 0 0 0.28  0 0 0 0 0.62  10 0 0 0 -5.600"/></filter>
<filter id="nO2" x="0" y="0" width="100%" height="100%" color-interpolation-filters="sRGB"><feTurbulence type="fractalNoise" baseFrequency="0.5" numOctaves="2" seed="17"/><feColorMatrix type="matrix" values="0 0 0 0 0.4  0 0 0 0 0.36  0 0 0 0 0.66  10 0 0 0 -6.600"/></filter>
<filter id="nD" x="0" y="0" width="100%" height="100%" color-interpolation-filters="sRGB"><feTurbulence type="fractalNoise" baseFrequency="0.42" numOctaves="2" seed="8"/><feColorMatrix type="matrix" values="0 0 0 0 0.32  0 0 0 0 0.28  0 0 0 0 0.58  10 0 0 0 -5.800"/></filter>
<filter id="dC" x="0" y="0" width="100%" height="100%" color-interpolation-filters="sRGB"><feTurbulence type="fractalNoise" baseFrequency="0.25" numOctaves="2" seed="14"/><feColorMatrix type="matrix" values="0 0 0 0 0.52  0 0 0 0 0.24  0 0 0 0 0.16  7 0 0 0 -3.850"/></filter></defs>
<text x="0.0" y="1076.1" font-size="16" fill="#231f20" text-anchor="start" font-weight="bold" >E</text>
<text x="103" y="1074.3" font-size="14" fill="#231f20" text-anchor="start" font-weight="normal" >Control</text>
<text x="328.6" y="1074.3" font-size="14" fill="#231f20" text-anchor="start" font-weight="normal" >OVA</text>
<text x="509.1" y="1074.3" font-size="14" fill="#231f20" text-anchor="start" font-weight="normal" >OVA+Decitabine</text>
<svg x="59.4" y="1079.4" width="164.0" height="117.6" viewBox="0 0 164.0 117.6" overflow="hidden">
<rect width="164.0" height="117.6" fill="#e9e7e3"/>
<defs><clipPath id="cC1"><path d="M-2.0,-2.0 L166.0,-2.0 L166.0,119.6 L-2.0,119.6 Z M142.4,54.5 L141.9,61.1 L139.7,67.5 L135.8,73.7 L130.5,79.3 L123.8,84.3 L115.9,88.5 L107.1,91.7 L97.7,93.9 L88.0,94.9 L78.1,94.9 L68.5,93.7 L59.5,91.4 L51.2,88.1 L44.0,83.8 L38.1,78.8 L33.7,73.1 L30.8,66.9 L29.6,60.5 L30.1,53.9 L32.3,47.5 L36.2,41.3 L41.5,35.7 L48.2,30.7 L56.1,26.5 L64.9,23.3 L74.3,21.1 L84.0,20.1 L93.9,20.1 L103.5,21.3 L112.5,23.6 L120.8,26.9 L128.0,31.2 L133.9,36.2 L138.3,41.9 L141.2,48.1 Z M20.0,-2.0 L90.0,-2.0 L90.0,7.0 L126.0,9.0 L131.0,-2.0 L137.0,-2.0 L136.0,22.0 L142.0,34.0 L128.0,30.0 L110.0,24.0 L90.0,22.0 L70.0,22.0 L50.0,26.0 L35.0,28.0 L26.0,20.0 L22.0,8.0 Z" clip-rule="evenodd"/></clipPath></defs>
<g filter="url(#texE)">
<rect width="164.0" height="117.6" fill="#c4875a"/>
<path d="M20.0,-2.0 L90.0,-2.0 L90.0,7.0 L126.0,9.0 L131.0,-2.0 L137.0,-2.0 L136.0,22.0 L142.0,34.0 L128.0,30.0 L110.0,24.0 L90.0,22.0 L70.0,22.0 L50.0,26.0 L35.0,28.0 L26.0,20.0 L22.0,8.0 Z" fill="#ac6a40"/>
<path d="M142.4,54.5 L141.9,61.1 L139.7,67.5 L135.8,73.7 L130.5,79.3 L123.8,84.3 L115.9,88.5 L107.1,91.7 L97.7,93.9 L88.0,94.9 L78.1,94.9 L68.5,93.7 L59.5,91.4 L51.2,88.1 L44.0,83.8 L38.1,78.8 L33.7,73.1 L30.8,66.9 L29.6,60.5 L30.1,53.9 L32.3,47.5 L36.2,41.3 L41.5,35.7 L48.2,30.7 L56.1,26.5 L64.9,23.3 L74.3,21.1 L84.0,20.1 L93.9,20.1 L103.5,21.3 L112.5,23.6 L120.8,26.9 L128.0,31.2 L133.9,36.2 L138.3,41.9 L141.2,48.1 Z" fill="#b87a4e"/>
<path d="M138.2,56.1 L137.7,62.0 L135.7,67.9 L132.2,73.4 L127.2,78.5 L121.0,83.1 L113.8,86.8 L105.7,89.8 L97.1,91.8 L88.1,92.8 L79.0,92.7 L70.2,91.6 L61.9,89.6 L54.3,86.6 L47.7,82.7 L42.2,78.1 L38.1,73.0 L35.5,67.4 L34.4,61.5 L34.9,55.6 L36.9,49.7 L40.4,44.2 L45.4,39.1 L51.6,34.5 L58.8,30.8 L66.9,27.8 L75.5,25.8 L84.5,24.8 L93.6,24.9 L102.4,26.0 L110.7,28.0 L118.3,31.0 L124.9,34.9 L130.4,39.5 L134.5,44.6 L137.1,50.2 Z" fill="none" stroke="#c99468" stroke-width="2.4"/>
<path d="M135.9,56.9 L135.5,62.4 L133.5,67.8 L130.1,72.9 L125.4,77.6 L119.5,81.8 L112.6,85.3 L104.9,88.0 L96.7,89.8 L88.1,90.8 L79.5,90.7 L71.1,89.8 L63.2,87.9 L56.0,85.1 L49.7,81.6 L44.5,77.4 L40.6,72.6 L38.1,67.5 L37.1,62.1 L37.5,56.6 L39.5,51.2 L42.9,46.1 L47.6,41.4 L53.5,37.2 L60.4,33.7 L68.1,31.0 L76.3,29.2 L84.9,28.2 L93.5,28.3 L101.9,29.2 L109.8,31.1 L117.0,33.9 L123.3,37.4 L128.5,41.6 L132.4,46.4 L134.9,51.5 Z" fill="none" stroke="#96583a" stroke-width="3.6"/>
</g>
<rect width="164.0" height="117.6" filter="url(#dC)" opacity="0.6"/>
<rect width="164.0" height="117.6" filter="url(#nC)" opacity="0.85"/>
<rect width="164.0" height="117.6" filter="url(#hC)" clip-path="url(#cC1)"/>
<ellipse cx="109" cy="2" rx="17" ry="5.5" fill="#e9e7e3" opacity="0.9"/>
<ellipse cx="144" cy="15" rx="10" ry="12" fill="#e9e7e3" opacity="0.9"/>
<ellipse cx="158" cy="84" rx="6" ry="12" fill="#e9e7e3" opacity="0.9"/>
<ellipse cx="48" cy="106" rx="7" ry="11" fill="#e9e7e3" opacity="0.9"/>
<ellipse cx="113" cy="95" rx="4.5" ry="4.5" fill="#e9e7e3" opacity="0.9"/>
<ellipse cx="7" cy="84" rx="7" ry="7" fill="#e9e7e3" opacity="0.9"/>
<ellipse cx="32" cy="98" rx="6" ry="5" fill="#e9e7e3" opacity="0.9"/>
<ellipse cx="9" cy="20" rx="5" ry="7" fill="#e9e7e3" opacity="0.9"/>
<ellipse cx="22" cy="22" rx="4" ry="9" fill="#e9e7e3" opacity="0.9"/>
<path d="M133.4,57.0 L133.0,62.1 L131.1,67.1 L127.9,71.8 L123.4,76.2 L117.8,80.1 L111.3,83.4 L104.0,85.9 L96.1,87.6 L88.0,88.5 L79.8,88.4 L71.9,87.6 L64.3,85.8 L57.5,83.3 L51.5,80.0 L46.6,76.1 L42.9,71.7 L40.5,67.0 L39.6,62.0 L40.0,56.9 L41.9,51.9 L45.1,47.2 L49.6,42.8 L55.2,38.9 L61.7,35.6 L69.0,33.1 L76.9,31.4 L85.0,30.5 L93.2,30.6 L101.1,31.4 L108.7,33.2 L115.5,35.7 L121.5,39.0 L126.4,42.9 L130.1,47.3 L132.5,52.0 Z" fill="#e9e7e3"/>
<rect x="123.5" y="107.6" width="33" height="3.6" fill="#000"/>
<text x="140.0" y="104.8" font-size="7.6" fill="#111" text-anchor="middle">100 μm</text>
</svg>
<svg x="262.3" y="1079.4" width="164.8" height="116.9" viewBox="0 0 164.8 116.9" overflow="hidden">
<rect width="164.8" height="116.9" fill="#e9e7e3"/>
<defs><clipPath id="cO1"><path d="M100.0,-2.0 L166.8,-2.0 L166.8,62.0 L150.0,65.0 L128.0,58.0 L115.0,45.0 L108.0,30.0 L104.0,15.0 Z M-2.0,-2.0 L66.0,-2.0 L55.0,8.0 L42.0,18.0 L28.0,25.0 L12.0,28.0 L-2.0,28.0 Z"/></clipPath></defs>
<g filter="url(#texE2)">
<rect width="164.8" height="116.9" fill="#cbc3df"/>
<path d="M100.0,-2.0 L166.8,-2.0 L166.8,62.0 L150.0,65.0 L128.0,58.0 L115.0,45.0 L108.0,30.0 L104.0,15.0 Z" fill="#d6c4cc"/>
<path d="M-2.0,-2.0 L66.0,-2.0 L55.0,8.0 L42.0,18.0 L28.0,25.0 L12.0,28.0 L-2.0,28.0 Z" fill="#d8c8d0"/>
</g>
<rect width="164.8" height="116.9" filter="url(#nO)" opacity="0.9"/>
<rect width="164.8" height="116.9" filter="url(#hO)" clip-path="url(#cO1)"/>
<ellipse cx="75" cy="113" rx="6" ry="4" fill="#e9e7e3" opacity="0.8"/>
<ellipse cx="95" cy="114" rx="5" ry="3" fill="#e9e7e3" opacity="0.8"/>
<ellipse cx="60" cy="114" rx="4" ry="3" fill="#e9e7e3" opacity="0.8"/>
<ellipse cx="155" cy="110" rx="6" ry="5" fill="#e9e7e3" opacity="0.8"/>
<ellipse cx="140" cy="114" rx="5" ry="3" fill="#e9e7e3" opacity="0.8"/>
<g filter="url(#texE2)">
<path d="M26.0,71.0 L30.0,58.0 L35.6,47.4 L45.0,40.0 L54.5,35.6 L62.0,30.0 L68.8,26.0 L80.0,23.0 L90.0,22.5 L93.7,30.8 L83.0,40.3 L80.6,57.0 L85.4,64.0 L78.3,67.6 L59.3,71.0 L47.4,78.3 L40.3,85.4 L28.5,80.6 Z" fill="none" stroke="#dcb8c2" stroke-width="25" stroke-linejoin="round"/>
<path d="M97.2,78.3 L104.0,73.0 L111.5,71.1 L125.7,78.3 L132.8,94.9 L128.0,104.3 L113.8,106.7 L99.6,99.6 L96.0,87.7 Z" fill="none" stroke="#dcb8c2" stroke-width="21" stroke-linejoin="round"/>
<path d="M84,40 C86,50 88,60 97,72" fill="none" stroke="#dab4be" stroke-width="14"/>
</g>
<rect width="164.8" height="116.9" filter="url(#nO2)" opacity="0.55"/>
<path d="M26.0,71.0 L30.0,58.0 L35.6,47.4 L45.0,40.0 L54.5,35.6 L62.0,30.0 L68.8,26.0 L80.0,23.0 L90.0,22.5 L93.7,30.8 L83.0,40.3 L80.6,57.0 L85.4,64.0 L78.3,67.6 L59.3,71.0 L47.4,78.3 L40.3,85.4 L28.5,80.6 Z" fill="#e9e7e3"/>
<path d="M97.2,78.3 L104.0,73.0 L111.5,71.1 L125.7,78.3 L132.8,94.9 L128.0,104.3 L113.8,106.7 L99.6,99.6 L96.0,87.7 Z" fill="#e9e7e3"/>
<rect x="125.7" y="107.6" width="33" height="3.6" fill="#000"/>
<text x="142.2" y="104.8" font-size="7.6" fill="#111" text-anchor="middle">100 μm</text>
</svg>
<svg x="480.0" y="1079.4" width="164.3" height="116.9" viewBox="0 0 164.3 116.9" overflow="hidden">
<rect width="164.3" height="116.9" fill="#e9e7e3"/>
<defs><clipPath id="cD1"><path d="M-2.0,-2.0 L44.0,-2.0 L46.0,25.0 L48.0,55.0 L44.0,80.0 L37.0,100.0 L31.0,118.9 L-2.0,118.9 Z M103.0,-2.0 L166.3,-2.0 L166.3,118.9 L127.0,118.9 L125.0,95.0 L121.0,80.0 L117.0,66.0 L123.0,55.0 L121.0,45.0 L111.0,30.0 L105.0,14.0 Z"/></clipPath></defs>
<g filter="url(#texE)">
<rect width="164.3" height="116.9" fill="#c8988a"/>
<path d="M42.0,-2.0 L55.9,-2.0 L58.3,23.7 L61.1,47.4 L67.8,78.3 L60.7,90.0 L55.9,104.3 L52.4,118.9 L30.0,118.9 L36.0,100.0 L44.0,80.0 L47.0,55.0 L45.0,25.0 Z" fill="#c4a0a0"/>
<path d="M93.9,-2.0 L98.6,19.0 L110.5,40.3 L112.8,47.4 L98.6,56.9 L93.9,61.7 L89.1,75.9 L86.7,83.0 L91.5,99.6 L93.9,118.9 L128.0,118.9 L126.0,95.0 L122.0,80.0 L118.0,66.0 L124.0,55.0 L122.0,45.0 L112.0,30.0 L106.0,14.0 L104.0,-2.0 Z" fill="#c6a4a6"/>
</g>
<rect width="164.3" height="116.9" filter="url(#nD)" opacity="0.85"/>
<rect width="164.3" height="116.9" filter="url(#hD)" clip-path="url(#cD1)"/>
<ellipse cx="136" cy="90" rx="14" ry="11" fill="#e9e7e3"/>
<path d="M55.9,-2.0 L58.3,23.7 L61.1,47.4 L67.8,78.3 L60.7,90.0 L55.9,104.3 L52.4,118.9 L93.9,118.9 L91.5,99.6 L86.7,83.0 L89.1,75.9 L93.9,61.7 L98.6,56.9 L112.8,47.4 L110.5,40.3 L98.6,19.0 L93.9,-2.0 Z" fill="none" stroke="#9a4e40" stroke-width="6" opacity="0.85" filter="url(#texE)"/>
<path d="M55.9,-2.0 L58.3,23.7 L61.1,47.4 L67.8,78.3 L60.7,90.0 L55.9,104.3 L52.4,118.9 L93.9,118.9 L91.5,99.6 L86.7,83.0 L89.1,75.9 L93.9,61.7 L98.6,56.9 L112.8,47.4 L110.5,40.3 L98.6,19.0 L93.9,-2.0 Z" fill="#e9e7e3"/>
<rect x="122.9" y="107.6" width="33" height="3.6" fill="#000"/>
<text x="139.4" y="104.8" font-size="7.6" fill="#111" text-anchor="middle">100 μm</text>
</svg>
<text x="0.0" y="1214.7" font-size="16" fill="#231f20" text-anchor="start" font-weight="bold" >F</text>
<text x="248.4" y="1214.9" font-size="16" fill="#231f20" text-anchor="start" font-weight="bold" >G</text>
<text x="445.0" y="1214.7" font-size="16" fill="#231f20" text-anchor="start" font-weight="bold" >H</text>
<rect x="89.1" y="1261.4" width="34.30000000000001" height="74.19999999999982" fill="#6a9bc4"/>
<rect x="139.4" y="1301.2" width="34.29999999999998" height="34.399999999999864" fill="#edb26d"/>
<rect x="189.7" y="1270.5" width="33.80000000000001" height="65.09999999999991" fill="#d65c37"/>
<line x1="73.1" y1="1223.8999999999999" x2="73.1" y2="1336.3" stroke="#6f6f6f" stroke-width="1.6"/>
<line x1="72.3" y1="1335.6" x2="238.5" y2="1335.6" stroke="#6f6f6f" stroke-width="1.6"/>
<line x1="68.3" y1="1335.60" x2="73.1" y2="1335.60" stroke="#6f6f6f" stroke-width="1.4"/>
<text x="66.69999999999999" y="1340.70" font-size="14" fill="#231f20" text-anchor="end" font-weight="normal" letter-spacing="-0.3">0.0</text>
<line x1="68.3" y1="1313.40" x2="73.1" y2="1313.40" stroke="#6f6f6f" stroke-width="1.4"/>
<text x="66.69999999999999" y="1318.50" font-size="14" fill="#231f20" text-anchor="end" font-weight="normal" letter-spacing="-0.3">0.3</text>
<line x1="68.3" y1="1291.20" x2="73.1" y2="1291.20" stroke="#6f6f6f" stroke-width="1.4"/>
<text x="66.69999999999999" y="1296.30" font-size="14" fill="#231f20" text-anchor="end" font-weight="normal" letter-spacing="-0.3">0.6</text>
<line x1="68.3" y1="1269.00" x2="73.1" y2="1269.00" stroke="#6f6f6f" stroke-width="1.4"/>
<text x="66.69999999999999" y="1274.10" font-size="14" fill="#231f20" text-anchor="end" font-weight="normal" letter-spacing="-0.3">0.9</text>
<line x1="68.3" y1="1246.80" x2="73.1" y2="1246.80" stroke="#6f6f6f" stroke-width="1.4"/>
<text x="66.69999999999999" y="1251.90" font-size="14" fill="#231f20" text-anchor="end" font-weight="normal" letter-spacing="-0.3">1.2</text>
<line x1="68.3" y1="1224.60" x2="73.1" y2="1224.60" stroke="#6f6f6f" stroke-width="1.4"/>
<text x="66.69999999999999" y="1229.70" font-size="14" fill="#231f20" text-anchor="end" font-weight="normal" letter-spacing="-0.3">1.5</text>
<line x1="106.25" y1="1335.6" x2="106.25" y2="1340.3999999999999" stroke="#6f6f6f" stroke-width="1.4"/>
<line x1="156.55" y1="1335.6" x2="156.55" y2="1340.3999999999999" stroke="#6f6f6f" stroke-width="1.4"/>
<line x1="206.6" y1="1335.6" x2="206.6" y2="1340.3999999999999" stroke="#6f6f6f" stroke-width="1.4"/>
<line x1="106.3" y1="1247.5" x2="106.3" y2="1275.8" stroke="#111" stroke-width="1.3"/>
<line x1="98.1" y1="1247.5" x2="114.5" y2="1247.5" stroke="#111" stroke-width="1.3"/>
<line x1="98.1" y1="1275.8" x2="114.5" y2="1275.8" stroke="#111" stroke-width="1.3"/>
<circle cx="106.5" cy="1244.3" r="2.5" fill="#000"/>
<circle cx="106.5" cy="1249.3" r="2.5" fill="#000"/>
<circle cx="106.5" cy="1259.6" r="2.5" fill="#000"/>
<circle cx="101.7" cy="1264.8" r="2.5" fill="#000"/>
<circle cx="111.3" cy="1264.8" r="2.5" fill="#000"/>
<circle cx="106.5" cy="1285.2" r="2.5" fill="#000"/>
<line x1="156.5" y1="1290.9" x2="156.5" y2="1311.5" stroke="#111" stroke-width="1.3"/>
<line x1="148.3" y1="1290.9" x2="164.7" y2="1290.9" stroke="#111" stroke-width="1.3"/>
<line x1="148.3" y1="1311.5" x2="164.7" y2="1311.5" stroke="#111" stroke-width="1.3"/>
<rect x="154.2" y="1283.0" width="4.6" height="4.6" fill="#000"/>
<rect x="154.2" y="1291.5" width="4.6" height="4.6" fill="#000"/>
<rect x="154.2" y="1296.1000000000001" width="4.6" height="4.6" fill="#000"/>
<rect x="149.7" y="1303.0" width="4.6" height="4.6" fill="#000"/>
<rect x="158.7" y="1303.0" width="4.6" height="4.6" fill="#000"/>
<rect x="154.2" y="1313.3" width="4.6" height="4.6" fill="#000"/>
<line x1="206.8" y1="1252.7" x2="206.8" y2="1288.8" stroke="#111" stroke-width="1.3"/>
<line x1="198.60000000000002" y1="1252.7" x2="215.0" y2="1252.7" stroke="#111" stroke-width="1.3"/>
<line x1="198.60000000000002" y1="1288.8" x2="215.0" y2="1288.8" stroke="#111" stroke-width="1.3"/>
<polygon points="206.8,1236.8 209.60000000000002,1241.8 204.0,1241.8" fill="#000"/>
<polygon points="206.8,1262.3999999999999 209.60000000000002,1267.3999999999999 204.0,1267.3999999999999" fill="#000"/>
<polygon points="206.8,1268.1 209.60000000000002,1273.1 204.0,1273.1" fill="#000"/>
<polygon points="206.8,1273.3999999999999 209.60000000000002,1278.3999999999999 204.0,1278.3999999999999" fill="#000"/>
<polygon points="206.8,1283.0 209.60000000000002,1288.0 204.0,1288.0" fill="#000"/>
<polygon points="206.8,1287.5 209.60000000000002,1292.5 204.0,1292.5" fill="#000"/>
<line x1="105.6" y1="1230.3" x2="155.6" y2="1230.3" stroke="#222" stroke-width="1"/>
<line x1="156.6" y1="1230.3" x2="206.9" y2="1230.3" stroke="#222" stroke-width="1"/>
<polygon points="125.70,1222.00 126.39,1223.65 128.17,1223.80 126.81,1224.96 127.23,1226.70 125.70,1225.77 124.17,1226.70 124.59,1224.96 123.23,1223.80 125.01,1223.65" fill="#2a2022"/>
<polygon points="130.60,1222.00 131.29,1223.65 133.07,1223.80 131.71,1224.96 132.13,1226.70 130.60,1225.77 129.07,1226.70 129.49,1224.96 128.13,1223.80 129.91,1223.65" fill="#2a2022"/>
<polygon points="135.50,1222.00 136.19,1223.65 137.97,1223.80 136.61,1224.96 137.03,1226.70 135.50,1225.77 133.97,1226.70 134.39,1224.96 133.03,1223.80 134.81,1223.65" fill="#2a2022"/>
<text x="182.8" y="1229.8" font-size="13" fill="#2a2022" text-anchor="middle" font-weight="normal" font-style="italic">##</text>
<text transform="translate(118.5,1346) rotate(-45)" x="0" y="0" font-size="13.8" fill="#231f20" text-anchor="end" >Control</text>
<text transform="translate(161.5,1346.5) rotate(-45)" x="0" y="0" font-size="13.8" fill="#231f20" text-anchor="end" >OVA</text>
<text transform="translate(203,1344.6) rotate(-45)" x="0" y="0" font-size="13.8" fill="#231f20" text-anchor="end" >OVA+</text>
<text transform="translate(230.6,1343) rotate(-45)" x="0" y="0" font-size="13.8" fill="#231f20" text-anchor="end" >Decitabine</text>
<text transform="translate(29.2,1277.5) rotate(-90)" x="0" y="0" font-size="14" fill="#231f20" text-anchor="middle" >Relative RNF125</text>
<text transform="translate(44.8,1273.2) rotate(-90)" x="0" y="0" font-size="13.7" fill="#231f20" text-anchor="middle" >intensity fold</text>
<rect x="532.6" y="1259.9" width="34.299999999999955" height="74.79999999999995" fill="#6a9bc4"/>
<rect x="583.1" y="1291.0" width="34.799999999999955" height="43.700000000000045" fill="#edb26d"/>
<rect x="634.1" y="1270.1" width="34.0" height="64.60000000000014" fill="#d65c37"/>
<line x1="515.4" y1="1222.325" x2="515.4" y2="1335.4" stroke="#6f6f6f" stroke-width="1.6"/>
<line x1="514.6" y1="1334.7" x2="685" y2="1334.7" stroke="#6f6f6f" stroke-width="1.6"/>
<line x1="510.59999999999997" y1="1334.70" x2="515.4" y2="1334.70" stroke="#6f6f6f" stroke-width="1.4"/>
<text x="509.0" y="1339.80" font-size="14" fill="#231f20" text-anchor="end" font-weight="normal" letter-spacing="-0.3">0.0</text>
<line x1="510.59999999999997" y1="1312.37" x2="515.4" y2="1312.37" stroke="#6f6f6f" stroke-width="1.4"/>
<text x="509.0" y="1317.46" font-size="14" fill="#231f20" text-anchor="end" font-weight="normal" letter-spacing="-0.3">0.3</text>
<line x1="510.59999999999997" y1="1290.03" x2="515.4" y2="1290.03" stroke="#6f6f6f" stroke-width="1.4"/>
<text x="509.0" y="1295.13" font-size="14" fill="#231f20" text-anchor="end" font-weight="normal" letter-spacing="-0.3">0.6</text>
<line x1="510.59999999999997" y1="1267.70" x2="515.4" y2="1267.70" stroke="#6f6f6f" stroke-width="1.4"/>
<text x="509.0" y="1272.80" font-size="14" fill="#231f20" text-anchor="end" font-weight="normal" letter-spacing="-0.3">0.9</text>
<line x1="510.59999999999997" y1="1245.36" x2="515.4" y2="1245.36" stroke="#6f6f6f" stroke-width="1.4"/>
<text x="509.0" y="1250.46" font-size="14" fill="#231f20" text-anchor="end" font-weight="normal" letter-spacing="-0.3">1.2</text>
<line x1="510.59999999999997" y1="1223.03" x2="515.4" y2="1223.03" stroke="#6f6f6f" stroke-width="1.4"/>
<text x="509.0" y="1228.12" font-size="14" fill="#231f20" text-anchor="end" font-weight="normal" letter-spacing="-0.3">1.5</text>
<line x1="549.75" y1="1334.7" x2="549.75" y2="1339.5" stroke="#6f6f6f" stroke-width="1.4"/>
<line x1="600.5" y1="1334.7" x2="600.5" y2="1339.5" stroke="#6f6f6f" stroke-width="1.4"/>
<line x1="651.1" y1="1334.7" x2="651.1" y2="1339.5" stroke="#6f6f6f" stroke-width="1.4"/>
<line x1="549.8" y1="1251.9" x2="549.8" y2="1267.9" stroke="#111" stroke-width="1.3"/>
<line x1="541.5999999999999" y1="1251.9" x2="558.0" y2="1251.9" stroke="#111" stroke-width="1.3"/>
<line x1="541.5999999999999" y1="1267.9" x2="558.0" y2="1267.9" stroke="#111" stroke-width="1.3"/>
<circle cx="549.8" cy="1241.6" r="2.5" fill="#000"/>
<circle cx="541" cy="1258.9" r="2.5" fill="#000"/>
<circle cx="559" cy="1258.9" r="2.5" fill="#000"/>
<circle cx="549.8" cy="1263.9" r="2.5" fill="#000"/>
<circle cx="541" cy="1268.4" r="2.5" fill="#000"/>
<circle cx="559" cy="1265.8" r="2.5" fill="#000"/>
<line x1="600.5" y1="1285.4" x2="600.5" y2="1298.3" stroke="#111" stroke-width="1.3"/>
<line x1="592.3" y1="1285.4" x2="608.7" y2="1285.4" stroke="#111" stroke-width="1.3"/>
<line x1="592.3" y1="1298.3" x2="608.7" y2="1298.3" stroke="#111" stroke-width="1.3"/>
<rect x="607.3000000000001" y="1279.3" width="4.6" height="4.6" fill="#000"/>
<rect x="589.1" y="1283.3" width="4.6" height="4.6" fill="#000"/>
<rect x="598.2" y="1286.2" width="4.6" height="4.6" fill="#000"/>
<rect x="598.2" y="1292.8" width="4.6" height="4.6" fill="#000"/>
<rect x="607.3000000000001" y="1293.8" width="4.6" height="4.6" fill="#000"/>
<rect x="589.1" y="1297.3" width="4.6" height="4.6" fill="#000"/>
<line x1="651" y1="1259.9" x2="651" y2="1280.1" stroke="#111" stroke-width="1.3"/>
<line x1="642.8" y1="1259.9" x2="659.2" y2="1259.9" stroke="#111" stroke-width="1.3"/>
<line x1="642.8" y1="1280.1" x2="659.2" y2="1280.1" stroke="#111" stroke-width="1.3"/>
<polygon points="655.8,1254.3 658.5999999999999,1259.3 653.0,1259.3" fill="#000"/>
<polygon points="646.3,1259.0 649.0999999999999,1264.0 643.5,1264.0" fill="#000"/>
<polygon points="651,1265.3999999999999 653.8,1270.3999999999999 648.2,1270.3999999999999" fill="#000"/>
<polygon points="651,1270.5 653.8,1275.5 648.2,1275.5" fill="#000"/>
<polygon points="655.8,1277.1999999999998 658.5999999999999,1282.1999999999998 653.0,1282.1999999999998" fill="#000"/>
<polygon points="646.3,1280.1 649.0999999999999,1285.1 643.5,1285.1" fill="#000"/>
<line x1="549.7" y1="1233.4" x2="600.1" y2="1233.4" stroke="#222" stroke-width="1"/>
<line x1="601.1" y1="1233.4" x2="651.1" y2="1233.4" stroke="#222" stroke-width="1"/>
<polygon points="569.70,1225.70 570.41,1227.42 572.27,1227.57 570.86,1228.78 571.29,1230.58 569.70,1229.62 568.11,1230.58 568.54,1228.78 567.13,1227.57 568.99,1227.42" fill="#2a2022"/>
<polygon points="575.00,1225.70 575.71,1227.42 577.57,1227.57 576.16,1228.78 576.59,1230.58 575.00,1229.62 573.41,1230.58 573.84,1228.78 572.43,1227.57 574.29,1227.42" fill="#2a2022"/>
<polygon points="580.30,1225.70 581.01,1227.42 582.87,1227.57 581.46,1228.78 581.89,1230.58 580.30,1229.62 578.71,1230.58 579.14,1228.78 577.73,1227.57 579.59,1227.42" fill="#2a2022"/>
<text x="627.0" y="1233.2" font-size="13" fill="#2a2022" text-anchor="middle" font-weight="normal" font-style="italic">##</text>
<text transform="translate(563,1345) rotate(-45)" x="0" y="0" font-size="13.8" fill="#231f20" text-anchor="end" >Control</text>
<text transform="translate(607.5,1346.5) rotate(-45)" x="0" y="0" font-size="13.8" fill="#231f20" text-anchor="end" >OVA</text>
<text transform="translate(650,1344) rotate(-45)" x="0" y="0" font-size="13.8" fill="#231f20" text-anchor="end" >OVA+</text>
<text transform="translate(677,1344) rotate(-45)" x="0" y="0" font-size="13.8" fill="#231f20" text-anchor="end" >Decitabine</text>
<text transform="translate(471.5,1276.6) rotate(-90)" x="0" y="0" font-size="14" fill="#231f20" text-anchor="middle" >Relative gray value of</text>
<text transform="translate(488.2,1273.9) rotate(-90)" x="0" y="0" font-size="14" fill="#231f20" text-anchor="middle" >RNF125/β-actin</text>
<defs><linearGradient id="blotbg" x1="0" y1="0" x2="0" y2="1"><stop offset="0" stop-color="#d6d6d6"/><stop offset="0.3" stop-color="#ececec"/><stop offset="0.7" stop-color="#eeeeee"/><stop offset="1" stop-color="#dcdcdc"/></linearGradient></defs>
<rect x="310.8" y="1268.1" width="96" height="26.200000000000045" fill="url(#blotbg)" stroke="#222" stroke-width="1.1"/>
<rect x="310.8" y="1305.1" width="96" height="25.200000000000045" fill="url(#blotbg)" stroke="#222" stroke-width="1.1"/>
<g filter="url(#blur1)">
<rect x="314.2" y="1278" width="25.6" height="6.8" rx="3.4" fill="#151515"/>
<ellipse cx="357.5" cy="1280.5" rx="12" ry="2.1" fill="#5a5a5a"/>
<rect x="379" y="1277.6" width="24" height="6.6" rx="3.3" fill="#1e1e1e"/>
<rect x="312.3" y="1314.1" width="26.8" height="8.4" rx="4.2" fill="#060606"/>
<rect x="343.2" y="1314.1" width="28.6" height="8.4" rx="4.2" fill="#060606"/>
<rect x="376.6" y="1314.1" width="28.6" height="8.4" rx="4.2" fill="#060606"/>
</g>
<text x="305.6" y="1287.5" font-size="14" fill="#231f20" text-anchor="end" font-weight="normal" >RNF125</text>
<text x="305.6" y="1322.5" font-size="14" fill="#231f20" text-anchor="end" font-weight="normal" >β-actin</text>
<text x="410.7" y="1287.5" font-size="14" fill="#231f20" text-anchor="start" font-weight="normal" >29 KD</text>
<text x="410.7" y="1322.5" font-size="14" fill="#231f20" text-anchor="start" font-weight="normal" >42 KD</text>
<text transform="translate(332,1345.5) rotate(-45)" x="0" y="0" font-size="13.8" fill="#231f20" text-anchor="end" >Control</text>
<text transform="translate(361,1348) rotate(-45)" x="0" y="0" font-size="13.8" fill="#231f20" text-anchor="end" >OVA</text>
<text transform="translate(392,1347) rotate(-45)" x="0" y="0" font-size="13.8" fill="#231f20" text-anchor="end" >OVA+</text>
<text transform="translate(418.5,1345.5) rotate(-45)" x="0" y="0" font-size="13.8" fill="#231f20" text-anchor="end" >Decitabine</text>
</svg>
</body></html>
